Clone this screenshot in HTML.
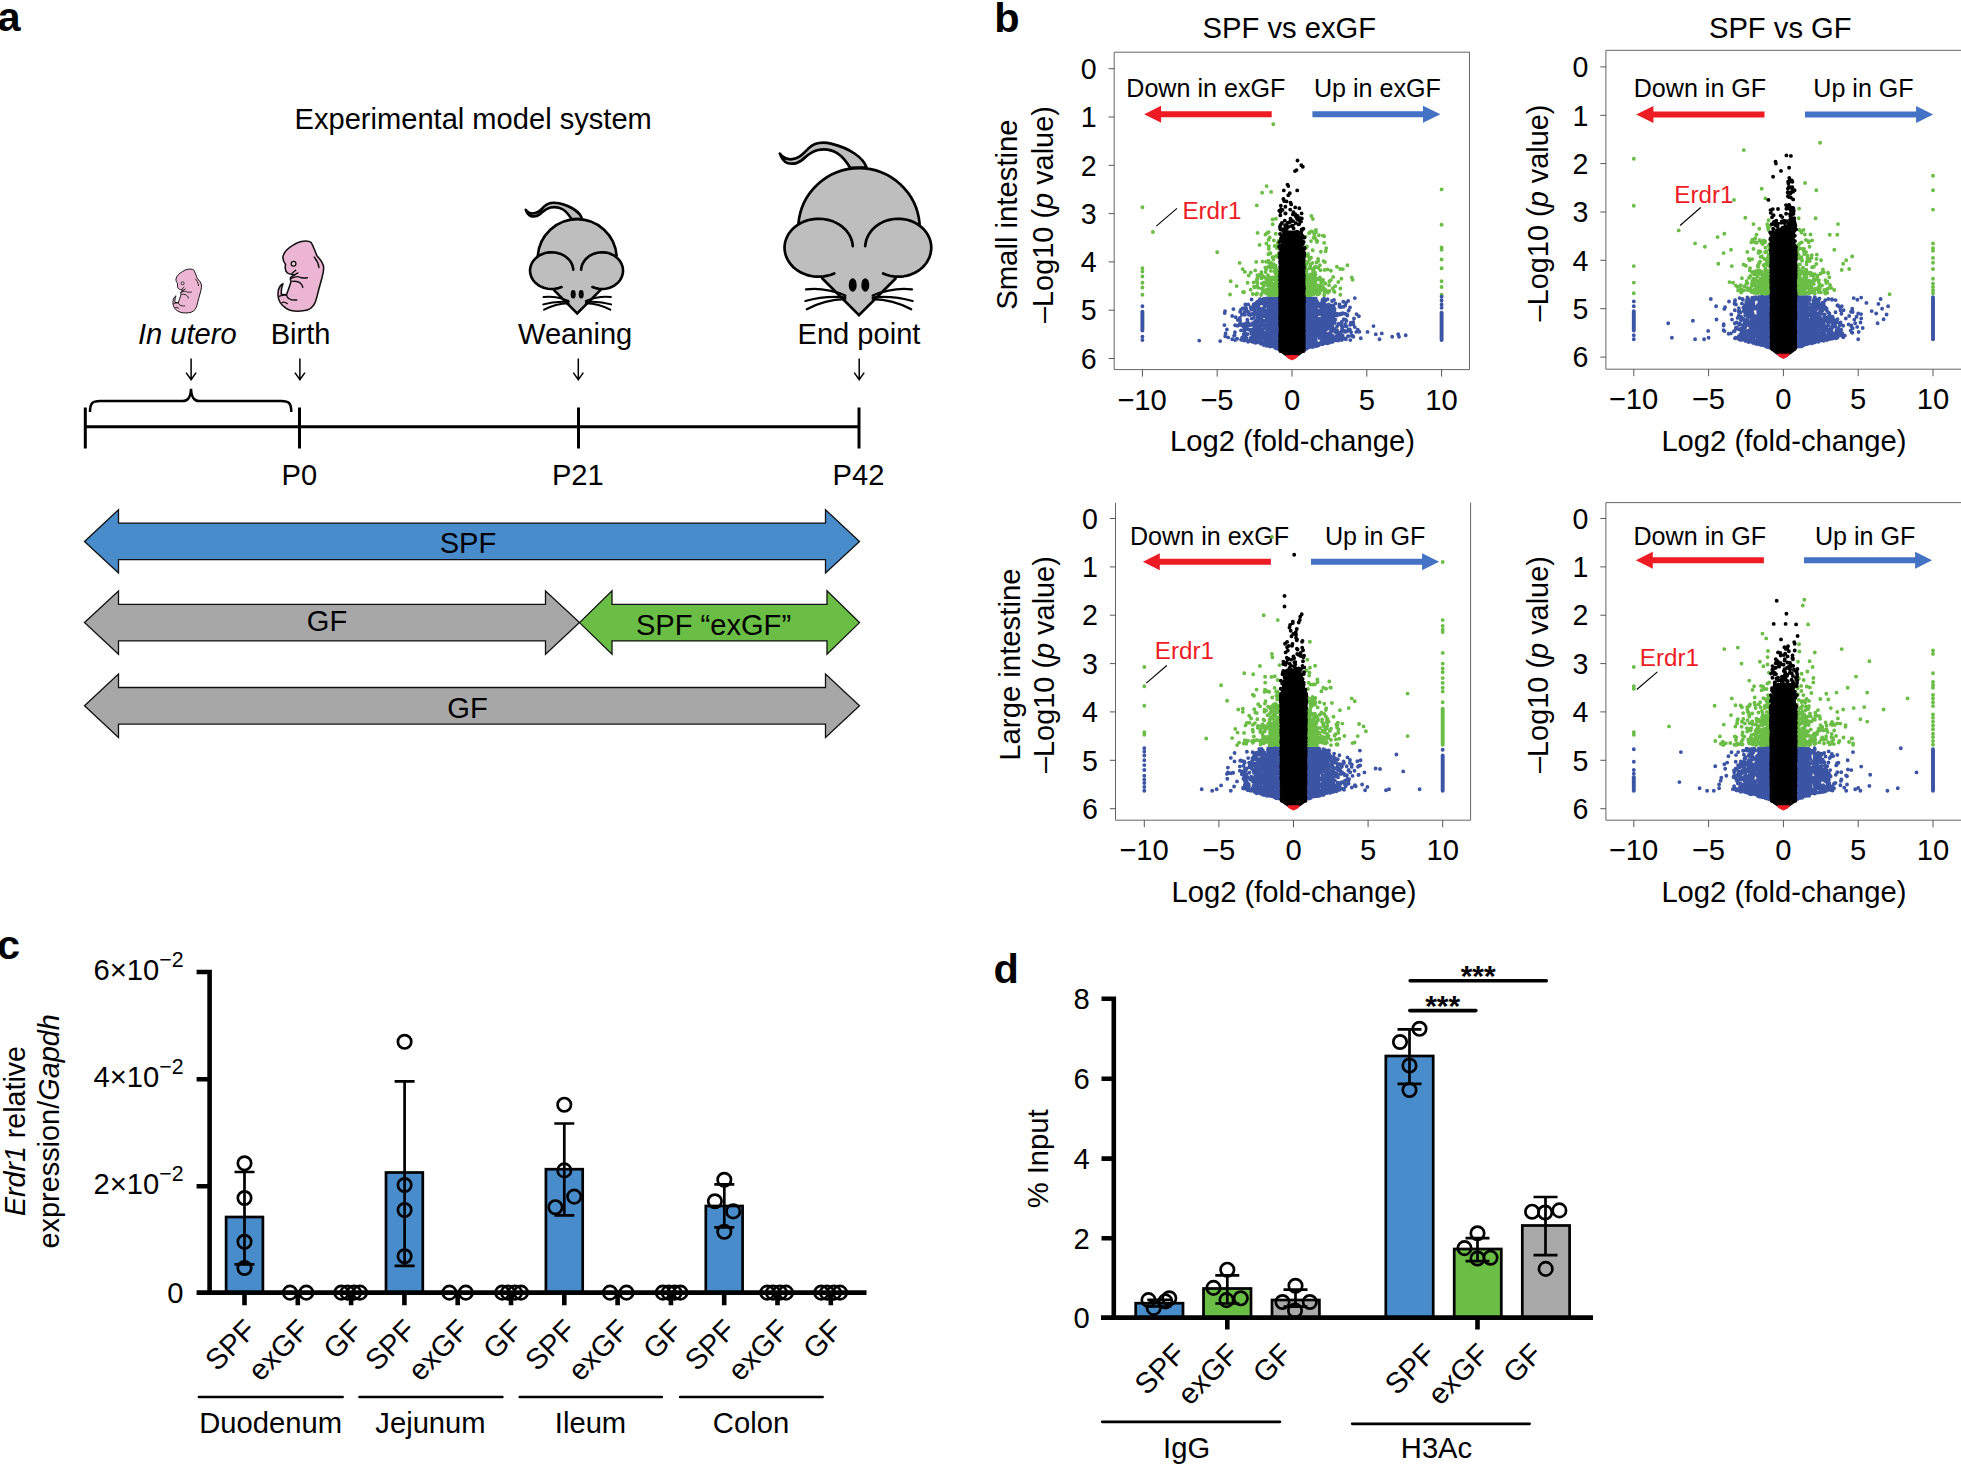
<!DOCTYPE html>
<html><head><meta charset="utf-8"><title>Figure</title>
<style>
html,body{margin:0;padding:0;background:#fff}
svg{display:block}
text{font-family:"Liberation Sans",sans-serif;fill:#000}
.b{font-weight:bold}
.i{font-style:italic}
</style></head><body>
<svg width="1961" height="1464" viewBox="0 0 1961 1464" font-size="29.2">
<rect width="1961" height="1464" fill="#fff"/>
<g id="panel-a" font-size="29.1">
<text x="-2.5" y="31" font-size="41.5" class="b">a</text>
<text x="294.5" y="129.3">Experimental model system</text>
<text x="138" y="343.7" class="i">In utero</text>
<text x="270.7" y="343.7">Birth</text>
<text x="518" y="343.7">Weaning</text>
<text x="797.5" y="343.7">End point</text>
<g transform="translate(160 230) scale(0.09179)"><path d="M1540,125 C1580,118 1625,120 1645,135 C1670,170 1690,240 1710,280 C1740,320 1775,350 1782,400 C1790,450 1760,540 1740,610 C1720,680 1710,740 1690,790 C1670,840 1620,875 1560,880 C1500,888 1420,885 1370,850 C1330,825 1295,790 1288,730 C1280,670 1295,610 1340,585 C1325,620 1318,660 1322,700 L1378,706 C1395,660 1415,600 1428,560 C1420,545 1415,530 1425,515 C1440,500 1455,495 1465,490 C1440,480 1400,480 1385,465 C1365,445 1360,410 1368,375 C1350,350 1335,320 1340,290 C1348,240 1400,195 1450,165 C1480,145 1510,130 1540,125 Z" fill="#ECB5D3" stroke="#111" stroke-width="17" stroke-linejoin="round"/><path d="M1440,472 L1478,438 M1462,492 L1502,468 M1428,527 C1470,508 1500,500 1520,514 C1545,528 1575,525 1606,520 M1440,560 C1480,555 1520,565 1540,590 C1550,605 1555,615 1555,627 M1680,295 C1700,320 1727,350 1732,410 M1378,706 C1385,740 1420,768 1490,762 M1298,722 C1330,708 1350,714 1378,706 M1328,792 C1345,780 1365,785 1386,802" fill="none" stroke="#111" stroke-width="15" stroke-linecap="round"/><circle cx="1455" cy="368" r="26" fill="#F3CCE1" stroke="#111" stroke-width="14"/></g>
<g transform="translate(160 230) scale(0.09179) translate(-665.7 349.8) scale(0.627)"><path d="M1540,125 C1580,118 1625,120 1645,135 C1670,170 1690,240 1710,280 C1740,320 1775,350 1782,400 C1790,450 1760,540 1740,610 C1720,680 1710,740 1690,790 C1670,840 1620,875 1560,880 C1500,888 1420,885 1370,850 C1330,825 1295,790 1288,730 C1280,670 1295,610 1340,585 C1325,620 1318,660 1322,700 L1378,706 C1395,660 1415,600 1428,560 C1420,545 1415,530 1425,515 C1440,500 1455,495 1465,490 C1440,480 1400,480 1385,465 C1365,445 1360,410 1368,375 C1350,350 1335,320 1340,290 C1348,240 1400,195 1450,165 C1480,145 1510,130 1540,125 Z" fill="#ECB5D3" stroke="#111" stroke-width="17" stroke-linejoin="round"/><path d="M1440,472 L1478,438 M1462,492 L1502,468 M1428,527 C1470,508 1500,500 1520,514 C1545,528 1575,525 1606,520 M1440,560 C1480,555 1520,565 1540,590 C1550,605 1555,615 1555,627 M1680,295 C1700,320 1727,350 1732,410 M1378,706 C1385,740 1420,768 1490,762 M1298,722 C1330,708 1350,714 1378,706 M1328,792 C1345,780 1365,785 1386,802" fill="none" stroke="#111" stroke-width="15" stroke-linecap="round"/><circle cx="1455" cy="368" r="26" fill="#F3CCE1" stroke="#111" stroke-width="14"/></g>
<g stroke="#000" stroke-width="2.7" stroke-linecap="round" stroke-linejoin="round"><path d="M866.5,167.3C863.1,158.0 850.8,148.4 831.0,143.6C823.5,142.0 815.3,141.6 808.5,148.4C801.6,155.2 798.9,158.6 790.7,159.3C785.2,159.3 782.5,157.3 779.8,153.6C781.8,158.6 784.5,162.1 787.3,163.0C793.4,164.8 797.5,163.4 801.6,160.3C805.7,157.3 809.8,151.8 818.0,150.0C826.2,148.4 831.7,149.8 837.1,153.2C842.6,156.6 846.7,162.1 850.1,167.8Z" fill="#BEBEBE"/><circle cx="859" cy="229" r="60.8" fill="#BEBEBE" stroke="none"/><path d="M798.4,224.2 A60.79,60.79 0 0 1 919.6,224.2" fill="none"/><ellipse cx="818.7" cy="247.7" rx="34.2" ry="29" fill="#BEBEBE" stroke="none"/><ellipse cx="898.2" cy="247.7" rx="33.1" ry="29" fill="#BEBEBE" stroke="none"/><path d="M819.4,275.4 L859.0,315.1 L898.6,275.4 Z" fill="#BEBEBE" stroke="none"/><path d="M852.8,246.2 L852.4,243.1 L851.6,240.1 L850.5,237.2 L849.0,234.3 L847.1,231.7 L845.0,229.2 L842.5,226.9 L839.7,224.9 L836.7,223.1 L833.5,221.6 L830.2,220.4 L826.7,219.6 L823.1,219.0 L819.4,218.8 L815.8,218.9 L812.2,219.3 L808.6,220.0 L805.2,221.1 L801.9,222.5 L798.9,224.1 L796.0,226.1 L793.4,228.2 L791.1,230.6 L789.1,233.2 L787.5,236.0 L786.2,238.9 L785.2,241.9 L784.7,244.9 L784.5,248.0 L784.8,251.1 L785.4,254.2 L786.4,257.1 L787.8,260.0 L789.5,262.7 L791.6,265.3 L793.9,267.7 L796.6,269.8 L799.5,271.7 L802.6,273.3 L805.9,274.6 L809.4,275.6 L812.9,276.3 L816.5,276.6 L820.2,276.7 L823.8,276.4 L827.4,275.7 L830.9,274.8 L834.2,273.5" fill="none"/><path d="M865.2,246.2 L865.6,243.1 L866.3,240.1 L867.4,237.2 L868.9,234.3 L870.7,231.7 L872.8,229.2 L875.2,226.9 L877.9,224.9 L880.7,223.1 L883.8,221.6 L887.1,220.4 L890.5,219.6 L894.0,219.0 L897.5,218.8 L901.0,218.9 L904.5,219.3 L907.9,220.0 L911.3,221.1 L914.4,222.5 L917.4,224.1 L920.2,226.1 L922.7,228.2 L924.9,230.6 L926.8,233.2 L928.4,236.0 L929.7,238.9 L930.6,241.9 L931.1,244.9 L931.3,248.0 L931.0,251.1 L930.4,254.2 L929.5,257.1 L928.1,260.0 L926.5,262.7 L924.5,265.3 L922.2,267.7 L919.6,269.8 L916.8,271.7 L913.8,273.3 L910.6,274.6 L907.3,275.6 L903.8,276.3 L900.3,276.6 L896.8,276.7 L893.2,276.4 L889.8,275.7 L886.4,274.8 L883.2,273.5" fill="none"/><path d="M822.4,278.5 L859.0,315.1 L895.6,278.5" fill="none" stroke-linejoin="miter"/><ellipse cx="852.7" cy="285" rx="4" ry="6.8" fill="#000" stroke="none"/><ellipse cx="865.3" cy="285" rx="4" ry="6.8" fill="#000" stroke="none"/><path d="M872.7,295.5 Q893.2,287.1 912.0,289.4" fill="none" stroke-width="2.3"/><path d="M872.7,297.3 Q893.2,295.3 912.6,301.0" fill="none" stroke-width="2.3"/><path d="M872.7,299.1 Q893.2,299.4 911.2,309.3" fill="none" stroke-width="2.3"/><path d="M845.3,295.5 Q824.8,287.1 806.0,289.4" fill="none" stroke-width="2.3"/><path d="M845.3,297.3 Q824.8,295.3 805.4,301.0" fill="none" stroke-width="2.3"/><path d="M845.3,299.1 Q824.8,299.4 806.8,309.3" fill="none" stroke-width="2.3"/></g>
<g stroke="#000" stroke-width="2.6" stroke-linecap="round" stroke-linejoin="round"><path d="M582.1,218.7C579.9,212.6 571.9,206.4 559.0,203.3C554.1,202.2 548.8,202.0 544.3,206.4C539.9,210.9 538.1,213.1 532.8,213.5C529.3,213.5 527.5,212.2 525.7,209.8C527.0,213.1 528.8,215.3 530.6,215.9C534.6,217.1 537.2,216.2 539.9,214.1C542.6,212.2 545.2,208.6 550.6,207.5C555.9,206.4 559.4,207.3 563.0,209.5C566.5,211.7 569.2,215.3 571.4,219.0Z" fill="#BEBEBE"/><circle cx="577.2" cy="258.8" r="39.5" fill="#BEBEBE" stroke="none"/><path d="M537.8,255.7 A39.51,39.51 0 0 1 616.6,255.7" fill="none"/><ellipse cx="551.7" cy="270.7" rx="21.6" ry="18.4" fill="#BEBEBE" stroke="none"/><ellipse cx="602" cy="270.7" rx="21" ry="18.4" fill="#BEBEBE" stroke="none"/><path d="M552.1,288.2 L577.2,313.3 L602.3,288.2 Z" fill="#BEBEBE" stroke="none"/><path d="M573.3,269.7 L573.0,267.7 L572.5,265.8 L571.8,264.0 L570.9,262.2 L569.7,260.5 L568.3,258.9 L566.7,257.5 L565.0,256.2 L563.1,255.1 L561.1,254.1 L558.9,253.4 L556.7,252.8 L554.4,252.5 L552.1,252.3 L549.8,252.4 L547.5,252.6 L545.3,253.1 L543.1,253.8 L541.0,254.7 L539.1,255.7 L537.3,256.9 L535.6,258.3 L534.2,259.8 L532.9,261.5 L531.9,263.2 L531.0,265.1 L530.5,267.0 L530.1,268.9 L530.0,270.9 L530.2,272.8 L530.6,274.7 L531.2,276.6 L532.1,278.5 L533.2,280.2 L534.5,281.8 L536.0,283.3 L537.6,284.6 L539.5,285.8 L541.5,286.8 L543.6,287.7 L545.7,288.3 L548.0,288.7 L550.3,289.0 L552.6,289.0 L554.9,288.8 L557.2,288.4 L559.4,287.8 L561.5,287.0" fill="none"/><path d="M581.1,269.7 L581.4,267.7 L581.8,265.8 L582.5,264.0 L583.5,262.2 L584.6,260.5 L585.9,258.9 L587.5,257.5 L589.1,256.2 L591.0,255.1 L592.9,254.1 L595.0,253.4 L597.2,252.8 L599.4,252.5 L601.6,252.3 L603.8,252.4 L606.0,252.6 L608.2,253.1 L610.3,253.8 L612.3,254.7 L614.2,255.7 L616.0,256.9 L617.6,258.3 L619.0,259.8 L620.2,261.5 L621.2,263.2 L622.0,265.1 L622.6,267.0 L622.9,268.9 L623.0,270.9 L622.9,272.8 L622.5,274.7 L621.9,276.6 L621.0,278.5 L620.0,280.2 L618.7,281.8 L617.2,283.3 L615.6,284.6 L613.8,285.8 L611.9,286.8 L609.9,287.7 L607.8,288.3 L605.6,288.7 L603.4,289.0 L601.1,289.0 L598.9,288.8 L596.7,288.4 L594.6,287.8 L592.5,287.0" fill="none"/><path d="M554.0,290.1 L577.2,313.3 L600.4,290.1" fill="none" stroke-linejoin="miter"/><ellipse cx="573.2" cy="294.3" rx="2.5" ry="4.3" fill="#000" stroke="none"/><ellipse cx="581.2" cy="294.3" rx="2.5" ry="4.3" fill="#000" stroke="none"/><path d="M585.9,301.0 Q598.8,295.6 610.8,297.1" fill="none" stroke-width="2"/><path d="M585.9,302.1 Q598.8,300.8 611.1,304.4" fill="none" stroke-width="2"/><path d="M585.9,303.2 Q598.8,303.4 610.3,309.7" fill="none" stroke-width="2"/><path d="M568.5,301.0 Q555.6,295.6 543.6,297.1" fill="none" stroke-width="2"/><path d="M568.5,302.1 Q555.6,300.8 543.3,304.4" fill="none" stroke-width="2"/><path d="M568.5,303.2 Q555.6,303.4 544.1,309.7" fill="none" stroke-width="2"/></g>
<path d="M191.1,358.6 V379.2 M186.1,372.6 L191.1,379.6 L196.1,372.6" fill="none" stroke="#000" stroke-width="1.5"/>
<path d="M299.9,358.6 V379.2 M294.9,372.6 L299.9,379.6 L304.9,372.6" fill="none" stroke="#000" stroke-width="1.5"/>
<path d="M578.3,358.6 V379.2 M573.3,372.6 L578.3,379.6 L583.3,372.6" fill="none" stroke="#000" stroke-width="1.5"/>
<path d="M859.2,358.6 V379.2 M854.2,372.6 L859.2,379.6 L864.2,372.6" fill="none" stroke="#000" stroke-width="1.5"/>
<g stroke="#000" stroke-width="3" fill="none">
<path d="M85.3,426.7 H859 M85.3,407.4 V448.5 M299.5,407.4 V448.5 M578.5,407.4 V448.5 M859,407.4 V448.5"/>
</g>
<path d="M90,412 C90,403.5 92,401 100,401 L183,401 C188.5,401 190.5,397 191,388.8 C191.5,397 193.5,401 199,401 L281.3,401 C289.3,401 291.3,403.5 291.3,412" fill="none" stroke="#000" stroke-width="2.5"/>
<text x="299.4" y="484.5" text-anchor="middle">P0</text>
<text x="577.8" y="484.5" text-anchor="middle">P21</text>
<text x="858.5" y="484.5" text-anchor="middle">P42</text>
<polygon points="84.5,541.4 118.5,509.7 118.5,523.1 825.5,523.1 825.5,509.7 859.5,541.4 825.5,573.1 825.5,559.7 118.5,559.7 118.5,573.1" fill="#498CCB" stroke="#111" stroke-width="1.3" stroke-linejoin="miter"/>
<polygon points="84.5,622.6 118.5,590.9 118.5,604.3 545.5,604.3 545.5,590.9 579.5,622.6 545.5,654.3 545.5,640.9 118.5,640.9 118.5,654.3" fill="#A7A7A7" stroke="#111" stroke-width="1.3" stroke-linejoin="miter"/>
<polygon points="579.5,622.6 612,590.9 612,604.3 827,604.3 827,590.9 859.5,622.6 827,654.3 827,640.9 612,640.9 612,654.3" fill="#6ABD45" stroke="#111" stroke-width="1.3" stroke-linejoin="miter"/>
<polygon points="84.5,705.8 118.5,674.1 118.5,687.5 825.5,687.5 825.5,674.1 859.5,705.8 825.5,737.5 825.5,724.1 118.5,724.1 118.5,737.5" fill="#A7A7A7" stroke="#111" stroke-width="1.3" stroke-linejoin="miter"/>
<text x="468" y="552.5" text-anchor="middle">SPF</text>
<text x="327" y="631.4" text-anchor="middle">GF</text>
<text x="713.5" y="635" text-anchor="middle">SPF “exGF”</text>
<text x="467.5" y="717.5" text-anchor="middle">GF</text>
</g>
<g id="panel-b">
<text x="994.3" y="31.5" font-size="41.5" class="b">b</text>
<text x="1289.3" y="37.7" text-anchor="middle">SPF vs exGF</text>
<text x="1780.3" y="37.7" text-anchor="middle">SPF vs GF</text>
<g id="volcano-1">
<path d="M1114.2,52.2 V369.6 H1469.5 V52.2 Z" fill="none" stroke="#555" stroke-width="0.9"/>
<path d="M1114.2,68.7 h-5.6 M1114.2,117 h-5.6 M1114.2,165.3 h-5.6 M1114.2,213.6 h-5.6 M1114.2,261.9 h-5.6 M1114.2,310.2 h-5.6 M1114.2,358.5 h-5.6 M1142.4,369.6 v7 M1217.2,369.6 v7 M1292,369.6 v7 M1366.8,369.6 v7 M1441.6,369.6 v7 " fill="none" stroke="#444" stroke-width="0.9"/>
<text x="1096.7" y="78.9" text-anchor="end" font-size="28.6">0</text>
<text x="1096.7" y="127.2" text-anchor="end" font-size="28.6">1</text>
<text x="1096.7" y="175.5" text-anchor="end" font-size="28.6">2</text>
<text x="1096.7" y="223.8" text-anchor="end" font-size="28.6">3</text>
<text x="1096.7" y="272.1" text-anchor="end" font-size="28.6">4</text>
<text x="1096.7" y="320.4" text-anchor="end" font-size="28.6">5</text>
<text x="1096.7" y="368.7" text-anchor="end" font-size="28.6">6</text>
<text x="1142.1" y="409.8" text-anchor="middle">−10</text>
<text x="1216.9" y="409.8" text-anchor="middle">−5</text>
<text x="1292" y="409.8" text-anchor="middle">0</text>
<text x="1366.8" y="409.8" text-anchor="middle">5</text>
<text x="1441.6" y="409.8" text-anchor="middle">10</text>
<text x="1292.5" y="451.3" text-anchor="middle">Log2 (fold-change)</text>
<text x="1017.2" y="214.6" text-anchor="middle" font-size="29.3" transform="rotate(-90 1017.2 214.6)">Small intestine</text>
<text x="1053.3" y="214.6" text-anchor="middle" font-size="28.9" transform="rotate(-90 1053.3 214.6)">–Log10 (<tspan class="i">p</tspan> value)</text>
<text x="1126.3" y="96.6" font-size="25.1">Down in exGF</text>
<text x="1313.9" y="96.6" font-size="25.1">Up in exGF</text>
<path d="M1144.2,114.2 L1161.1,105.7 V111.2 H1271.7 V117.2 H1161.1 V122.7 Z" fill="#ED1C24"/>
<path d="M1440.4,114.2 L1423,105.7 V111.2 H1312.4 V117.2 H1423 V122.7 Z" fill="#4472C4"/>
<polygon points="1279.6,296.7 1266.6,296.7 1266.6,346.5 1267.9,346.8 1269.2,347.2 1270.5,347.5 1271.8,347.9 1273.1,348.3 1274.4,348.6 1275.7,349 1277,349.5 1278.3,349.9 1279.6,350.3" fill="#3C54A4"/>
<polygon points="1279.6,296.7 1271.8,296.7 1279.6,274" fill="#6ABD45"/>
<polygon points="1304.4,296.7 1317.4,296.7 1317.4,346.5 1316.1,346.8 1314.8,347.2 1313.5,347.5 1312.2,347.9 1310.9,348.3 1309.6,348.6 1308.3,349 1307,349.5 1305.7,349.9 1304.4,350.3" fill="#3C54A4"/>
<polygon points="1304.4,296.7 1312.2,296.7 1304.4,274" fill="#6ABD45"/>
<polygon points="1284.2,230.5 1283.4,232.9 1282.8,235.3 1282.2,237.7 1281.7,240.2 1281.2,242.6 1280.8,245 1280.4,247.4 1280.1,249.8 1279.7,252.2 1279.6,254.7 1279.7,257.1 1279.8,259.5 1279.9,261.9 1279.9,264.3 1279.9,266.7 1279.9,269.1 1279.9,271.6 1279.9,274 1279.9,276.4 1279.9,278.8 1279.9,281.2 1279.9,283.6 1279.9,286 1279.9,288.5 1279.9,290.9 1279.9,293.3 1279.9,295.7 1279.9,298.1 1279.9,300.5 1279.9,303 1279.9,305.4 1279.9,307.8 1279.9,310.2 1279.9,312.6 1279.9,315 1279.9,317.4 1279.9,319.9 1279.9,322.3 1279.9,324.7 1279.9,327.1 1279.9,329.5 1279.9,331.9 1279.9,334.3 1279.9,336.8 1279.9,339.2 1279.9,341.6 1279.9,344 1279.9,346.4 1279.9,348.8 1279.9,351.3 1278.1,350.8 1285.7,356.3 1292,358.5 1298.3,356.3 1305.9,350.8 1304.1,351.3 1304.1,348.8 1304.1,346.4 1304.1,344 1304.1,341.6 1304.1,339.2 1304.1,336.8 1304.1,334.3 1304.1,331.9 1304.1,329.5 1304.1,327.1 1304.1,324.7 1304.1,322.3 1304.1,319.9 1304.1,317.4 1304.1,315 1304.1,312.6 1304.1,310.2 1304.1,307.8 1304.1,305.4 1304.1,303 1304.1,300.5 1304.1,298.1 1304.1,295.7 1304.1,293.3 1304.1,290.9 1304.1,288.5 1304.1,286 1304.1,283.6 1304.1,281.2 1304.1,278.8 1304.1,276.4 1304.1,274 1304.1,271.6 1304.1,269.1 1304.1,266.7 1304.1,264.3 1304.1,261.9 1304.2,259.5 1304.3,257.1 1304.4,254.7 1304.3,252.2 1303.9,249.8 1303.6,247.4 1303.2,245 1302.8,242.6 1302.1,240.2 1301.4,237.7 1300.7,235.3 1299.9,232.9 1299,230.5" fill="#000"/>
<path d="M1316,232.1h0M1308.6,293.4h0M1277.1,294.6h0M1314.8,284.4h0M1309.2,291h0M1306.3,294.6h0M1275.8,292.5h0M1318.1,258.9h0M1275.8,291.8h0M1305.7,285.9h0M1278.1,288.1h0M1278.9,244.7h0M1256.3,294.3h0M1308.1,256.3h0M1277.8,279.7h0M1277.4,293.1h0M1311.6,292.5h0M1324.6,289h0M1313.7,269.8h0M1265.6,290.1h0M1277.4,256.7h0M1269.9,293.3h0M1311.1,294.2h0M1278.3,275h0M1329,285.2h0M1276.8,269h0M1306.1,262.2h0M1311.1,231.4h0M1277.3,292.3h0M1316.6,262.5h0M1269,283h0M1312.7,294.6h0M1266.1,261.7h0M1329.5,291h0M1324.9,262h0M1274.6,290.7h0M1321.3,282.2h0M1275.1,283.8h0M1320.9,251.8h0M1309.1,279h0M1269.8,279.7h0M1312,293.5h0M1312.4,290.5h0M1257.4,282.8h0M1322.9,235.6h0M1269.5,284.6h0M1266.1,269.4h0M1277.5,293.6h0M1306.4,293h0M1268.4,254.3h0M1259.6,244.9h0M1278.7,286.6h0M1275.6,294.3h0M1311,241.1h0M1271.8,290.4h0M1305.4,261.8h0M1306.9,294.9h0M1308.3,275.9h0M1319.7,278.5h0M1321.1,289.2h0M1254,286.6h0M1275.6,274.1h0M1319.9,265.3h0M1275.8,293.1h0M1253.6,282.4h0M1273.9,240.5h0M1268.5,239.7h0M1269.1,287.3h0M1315.5,288.5h0M1327.5,269.4h0M1266.7,289.6h0M1272.5,257.2h0M1313.3,276.3h0M1266.2,278.7h0M1275,277.8h0M1305.3,285h0M1312.2,231.6h0M1265.6,272h0M1278.8,273.3h0M1270.6,291.4h0M1312.2,292.1h0M1313.4,280.1h0M1319.9,277.4h0M1315.8,279.1h0M1275.1,285.8h0M1312.7,250.2h0M1274,292h0M1313.3,286.8h0M1273.5,293.4h0M1274.6,266.9h0M1261.8,283.6h0M1315.5,274.8h0M1317.4,278.6h0M1256.9,279.1h0M1272.7,224.2h0M1320.4,285.1h0M1309,294.7h0M1276.7,270h0M1269.5,290.1h0M1306.1,255.5h0M1270,290.7h0M1306,264h0M1257.2,285.9h0M1327.9,292.8h0M1324.2,295.2h0M1309.5,232.5h0M1309.8,280.6h0M1250.7,289.7h0M1308.9,291.7h0M1276.3,289.9h0M1315.4,288.8h0M1316.4,240.3h0M1275.9,218.8h0M1310.1,283.7h0M1310.8,277.7h0M1314.3,234.5h0M1270.5,253.3h0M1306.3,282.7h0M1274.5,271.8h0M1309.3,281.5h0M1268.9,246.3h0M1271.7,286.1h0M1272.9,283.9h0M1276.4,281.5h0M1308.7,277.3h0M1268.3,294.1h0M1313,271.6h0M1278.8,240.8h0M1308.2,281.9h0M1270.9,291.3h0M1277.6,294.3h0M1276.5,289h0M1309.5,282.6h0M1272.3,279.6h0M1322.4,289.4h0M1257,293.5h0M1276.6,278.5h0M1305.2,285.8h0M1308.4,295h0M1308.5,284.7h0M1318.1,287.5h0M1326,290.2h0M1305.2,281.9h0M1272,277.5h0M1305.3,287.4h0M1319.1,279.4h0M1314.1,293h0M1315.5,266.7h0M1338.3,282h0M1307,275.1h0M1273.3,257.3h0M1277.3,278.7h0M1310.2,295h0M1317.3,294.3h0M1305.9,289.8h0M1271.9,294.9h0M1270.6,291.1h0M1262.5,288.4h0M1312,274.7h0M1311,257.8h0M1269,293.8h0M1308.3,276h0M1315.6,283.8h0M1276.8,248.1h0M1254.6,287.4h0M1313,293.8h0M1262.5,261.6h0M1311.8,283.2h0M1309.3,259.4h0M1308,262.3h0M1310.2,295h0M1316.9,279.5h0M1261.4,288.6h0M1267,291.8h0M1309.9,274.4h0M1307.9,287h0M1317.3,241.1h0M1308.4,294h0M1312.4,285.5h0M1269.5,253.3h0M1270.7,267.2h0M1268.7,232.1h0M1305.6,236.6h0M1308,254h0M1257.3,279h0M1314.8,289.6h0M1274.1,277.6h0M1263.4,290.9h0M1305.4,280.1h0M1324.4,292.2h0M1317.1,288.4h0M1320.4,270.2h0M1244.9,271.9h0M1277.9,292.9h0M1310.5,285.6h0M1309.1,289.6h0M1273.2,293.2h0M1308.5,291.3h0M1255.2,270.4h0M1307.1,282.8h0M1273.8,287.2h0M1305.2,266.8h0M1261.1,295h0M1267.7,292h0M1308.1,275.8h0M1314.7,267.4h0M1275.4,287.7h0M1309.9,289.6h0M1259.4,274.9h0M1324.5,269.9h0M1268,275.2h0M1309.1,291.1h0M1318.4,285.8h0M1266.4,243.5h0M1306,292.2h0M1307,283.6h0M1310.3,294.7h0M1273.4,259.6h0M1267,280h0M1265,282.9h0M1315.4,282.1h0M1247.6,282.8h0M1278.8,278.1h0M1312.4,288.4h0M1313.3,288.3h0M1312.1,286h0M1273.5,264.3h0M1313.9,237.8h0M1269.2,263h0M1306.2,247.9h0M1317,290.5h0M1312.6,289.9h0M1265.3,267.8h0M1319.9,265.3h0M1310.4,266.7h0M1305.4,282.4h0M1330.9,270.7h0M1256.8,280.9h0M1306,273.4h0M1308.9,294.2h0M1274.7,245.9h0M1313.2,294.4h0M1316.9,291.2h0M1276.7,280.8h0M1307.7,282.8h0M1307.4,291.5h0M1252.7,294h0M1275.7,233.8h0M1334.5,292.1h0M1267.2,282.5h0M1340.4,288.5h0M1263.5,276.6h0M1276.6,288.1h0M1261,275.5h0M1267.8,285.5h0M1257.4,275.1h0M1275.6,265.5h0M1318.6,290.5h0M1305.2,291.4h0M1273.6,290.1h0M1308.6,293.6h0M1269.3,267.1h0M1312.9,219h0M1311,291.2h0M1315,237.8h0M1311.6,281.4h0M1321.6,288.1h0M1315.9,230h0M1276.9,272.9h0M1332.8,288.3h0M1274.6,294.1h0M1261.6,293.9h0M1340.3,294.7h0M1324.6,290.6h0M1273.9,283.6h0M1278.6,276.3h0M1271.4,283.5h0M1274.9,290.1h0M1269.4,289h0M1315,272.5h0M1307.5,283.7h0M1320.4,290.6h0M1323.1,279.9h0M1322.7,286.2h0M1309.9,292.2h0M1250.8,272.5h0M1321.1,279.9h0M1309.7,287.4h0M1275.8,285.5h0M1309,295.1h0M1310.4,265h0M1326.2,248.1h0M1312.3,274.1h0M1266.2,293.6h0M1264,282.5h0M1306.1,264.8h0M1261.8,274.8h0M1268.7,277.3h0M1311.4,288.3h0M1273.2,292.7h0M1277.7,243.3h0M1275.9,277.8h0M1273.2,286.5h0M1269.7,237.4h0M1268.6,260.6h0M1277.9,275.2h0M1248.7,275.5h0M1273.4,292.1h0M1305.9,292.2h0M1271.3,264.9h0M1318.7,294.1h0M1306.8,284.9h0M1277.8,245.9h0M1265.5,234.5h0M1307.3,276.1h0M1307.3,279.2h0M1269.4,295.2h0M1275.9,294.7h0M1256.2,261.9h0M1261.4,272.1h0M1314.1,289.8h0M1271.5,289.3h0M1314.8,293.4h0M1243.1,292h0M1272.7,283.9h0M1274.8,293.8h0M1271.6,295.1h0M1309.4,268.4h0M1329.4,281.2h0M1310,266.9h0M1274.1,267.9h0M1323.5,261.1h0M1306.4,269.5h0M1312.4,262.9h0M1268.7,246.6h0M1318.3,267.8h0M1333.2,276.9h0M1313.6,237.7h0M1308.1,293.9h0M1307.9,286h0M1305.1,290.5h0M1312.8,269.3h0M1306.4,271.5h0M1306.2,275.8h0M1271,280.9h0M1308.5,256.6h0M1230,294.5h0M1324.2,242.9h0M1268.8,248.9h0M1264.5,277.3h0M1278.2,294h0M1268.2,266.9h0M1312.9,287.8h0M1258.2,287.8h0M1340.2,269h0M1309.1,233.2h0M1308.4,278.1h0M1310.3,294h0M1318.1,261h0M1256.3,294.5h0M1310.1,279.7h0M1278.7,253.4h0M1306.9,246.4h0M1271,263h0M1261.5,278.4h0M1268.7,293.5h0M1319.5,293.3h0M1278.2,291.1h0M1314.7,277.4h0M1267.3,232.9h0M1270.8,270.9h0M1257.9,276.7h0M1244,292.2h0M1278.8,257.3h0M1272.8,277.8h0M1275.4,280.3h0M1277.6,270.8h0M1270.4,293.2h0M1330.9,280.1h0M1317,242.1h0M1321.1,281h0M1263.9,285.9h0M1278.6,286.5h0M1325.4,283.5h0M1271.8,277.6h0M1325,283.2h0M1306.1,282.9h0M1306.4,294.7h0M1276.4,277.8h0M1276.2,256h0M1263,291.8h0M1277.3,291h0M1314.5,285.5h0M1273.3,124.2h0M1266.6,186.1h0M1262.1,192.8h0M1271.1,191.9h0M1256.8,205.4h0M1272.6,219.4h0M1257.6,232.9h0M1152.9,232h0M1217.2,252.2h0M1239.6,262.9h0M1242.6,269.1h0M1230.7,281.2h0M1236.6,286.1h0M1311.4,216h0M1318.9,235.3h0M1324.2,236.3h0M1325.7,251.3h0M1336.9,266.7h0M1347.4,265.3h0M1342.9,269.1h0M1351.8,277.4h0M1352.6,279.8h0M1341.4,278.8h0M1335.4,286.1h0M1333.9,290.9h0M1142.4,207.3h0M1142.4,268.2h0M1142.4,271.6h0M1142.4,276.4h0M1142.4,282.7h0M1142.4,287.5h0M1142.4,294.7h0M1441.6,189.4h0M1441.6,224.7h0M1441.6,247.4h0M1441.6,249.8h0M1441.6,259.5h0M1441.6,268.2h0M1441.6,281.2h0M1441.6,287h0M1441.6,294.7h0" fill="none" stroke="#6ABD45" stroke-width="3.9" stroke-linecap="round"/>
<path d="M1338.6,337.4h0M1315.6,340.8h0M1275.3,327.6h0M1276.8,317.7h0M1267.2,341.9h0M1265.4,320.8h0M1323.1,329.6h0M1264.4,338.9h0M1277.4,311.6h0M1265.2,337h0M1315.3,340.4h0M1263.7,325.2h0M1269.5,315.6h0M1260.8,316.6h0M1268,301h0M1271,341.1h0M1306.9,300.1h0M1274.8,345.3h0M1269.2,345.9h0M1314.7,329h0M1256.8,314.1h0M1272.9,299.9h0M1329,306.3h0M1260.8,299.4h0M1331.8,313.9h0M1269.8,311.1h0M1270.5,320.9h0M1314.7,312.2h0M1338.4,340.6h0M1274.9,322h0M1277.6,309.1h0M1310.6,338.6h0M1334.8,322.9h0M1276.9,331.1h0M1278,321.2h0M1308,331.1h0M1249.6,314h0M1272.9,313.3h0M1259.9,308.7h0M1261.7,320h0M1320.9,321.7h0M1276.6,327.8h0M1310.2,335.8h0M1314.7,343h0M1311.4,310.4h0M1276.3,326.2h0M1273.6,344.6h0M1258.6,303.5h0M1315.4,303.3h0M1273.5,328.1h0M1276.9,308.6h0M1265.6,342.8h0M1345.2,331.9h0M1277.9,333.7h0M1306.9,318.1h0M1269.7,320h0M1245.5,334h0M1255.8,340.3h0M1307.2,326h0M1249.1,324.1h0M1249.9,329.6h0M1313.6,299.6h0M1277,333.7h0M1340.4,333.4h0M1350.2,330.9h0M1315.3,340.2h0M1267.8,326.4h0M1320.8,324.3h0M1233.4,309.1h0M1310.6,299.5h0M1308.3,332.2h0M1258.3,317.6h0M1317,313.5h0M1323.7,310.8h0M1332.4,335.6h0M1248.1,322.7h0M1309.6,308.2h0M1335.4,337.7h0M1235.7,317.2h0M1276.5,325.9h0M1253,323.2h0M1324,333.5h0M1312.1,340.6h0M1339.5,304.5h0M1311.8,339.1h0M1263.7,321h0M1277.9,342.2h0M1256.8,336.1h0M1269.8,331.8h0M1357.8,329.6h0M1253.6,317.9h0M1258.2,325.9h0M1275.4,315.9h0M1318.4,343.7h0M1271.1,338.9h0M1276.9,346.2h0M1308,325h0M1271.5,329.5h0M1315.9,332.4h0M1276.8,343.4h0M1274.8,344.2h0M1224.4,325.1h0M1310.7,336.3h0M1272.1,304.9h0M1312.6,322.8h0M1316.7,300.9h0M1270.3,301.5h0M1324.7,341.1h0M1308.4,327.8h0M1353.4,324.4h0M1258.1,321.8h0M1334.8,329.1h0M1267.7,340.2h0M1311.9,321h0M1273.1,308.5h0M1319.7,311.2h0M1268.3,330.5h0M1267.3,302.1h0M1318.6,345.3h0M1268.6,334.1h0M1240.3,324.5h0M1310.9,325.4h0M1272.3,343.6h0M1317.9,306.2h0M1321.5,342.2h0M1261,343.8h0M1275.2,313.5h0M1312.1,319.7h0M1307.6,337.6h0M1251.1,331.5h0M1261.1,340.1h0M1271.5,322.4h0M1267.3,340.9h0M1267.5,340.4h0M1274.5,337.5h0M1343.8,319.2h0M1341.9,314h0M1247.2,311.1h0M1276.2,305.4h0M1307.4,341.9h0M1318.6,334.1h0M1270.9,334.4h0M1276.8,330.5h0M1345.4,339.1h0M1260.9,330.4h0M1317.2,333.6h0M1255.2,323.3h0M1277.7,329.9h0M1308.4,311.2h0M1275.5,309.6h0M1307.1,306h0M1316,326.5h0M1309.6,320.9h0M1251.8,314.1h0M1313,320.3h0M1265,305.3h0M1272.7,305h0M1319.5,310.7h0M1332.5,317.8h0M1258.8,335.7h0M1308.1,318.9h0M1329.6,336.4h0M1309.6,311.1h0M1311.6,306h0M1274.5,346h0M1312.5,333.4h0M1267.4,320.7h0M1322.6,333.2h0M1276.5,306.7h0M1274,322.2h0M1257.9,330.5h0M1276.8,314.9h0M1318.8,325.8h0M1263.8,338h0M1266.9,332.9h0M1271.3,344.8h0M1316.2,309.8h0M1318.5,329.6h0M1353.2,322.1h0M1320.7,319.2h0M1316.6,315h0M1323.6,334.9h0M1278,314.7h0M1264,321.2h0M1306.6,318.4h0M1306.6,348.6h0M1307,345.1h0M1326.5,313.2h0M1277.6,306.1h0M1308.3,346.9h0M1265.1,306.5h0M1315.7,311.7h0M1272,309.2h0M1315.3,333.2h0M1320.8,331h0M1313.2,336.8h0M1234.9,332.2h0M1268.9,326.1h0M1330.8,331.8h0M1311,331.5h0M1264,335.8h0M1235.1,325.3h0M1248.2,304.4h0M1278.1,315.5h0M1264.4,305.8h0M1307,305.3h0M1266.9,331.3h0M1316.6,319.1h0M1312.6,337h0M1255.2,321.8h0M1269.9,336.7h0M1332.9,322.5h0M1311.4,337.8h0M1270.3,320.1h0M1269.4,317.9h0M1270.2,329.2h0M1311.6,338.5h0M1273,344.2h0M1261.4,324.6h0M1311.2,308.6h0M1323.3,317.1h0M1272.7,323.9h0M1315.2,338.8h0M1315.8,312.6h0M1277,341.9h0M1271.8,321.6h0M1331.8,335.2h0M1331.8,328.9h0M1275.5,338.5h0M1333.1,316h0M1267.1,328.6h0M1263.3,337.6h0M1265.8,316.6h0M1272.4,315.7h0M1245.6,307.9h0M1276.8,341.3h0M1310.4,313h0M1329.4,323.9h0M1332.7,321h0M1268.6,327.6h0M1260.7,341.4h0M1328.9,342.7h0M1337.2,336.2h0M1247,340.4h0M1267.7,334.7h0M1270.5,322.6h0M1274.2,309.8h0M1324.6,316.7h0M1314.8,316.3h0M1269.2,335.9h0M1322.8,336.1h0M1243.7,334.2h0M1265.8,342.3h0M1272.9,311.7h0M1309.8,313.8h0M1320.5,312.3h0M1246.3,323.2h0M1321.9,342.7h0M1337.1,326.2h0M1345.9,320h0M1268.9,312.6h0M1274.8,308.2h0M1331.1,306.2h0M1246.6,338.1h0M1315.5,313.9h0M1321,308.8h0M1257.2,307.8h0M1263.8,345h0M1317.6,302.7h0M1278.2,341.9h0M1253.7,308.1h0M1321.4,326.2h0M1325.1,304.4h0M1306.1,311.5h0M1242.9,308.2h0M1277.7,323.3h0M1308.6,341.6h0M1312,322.1h0M1271.9,334.6h0M1262.6,332.4h0M1263.2,299.5h0M1326.1,323.4h0M1319.3,323.5h0M1250.7,338h0M1245.3,312h0M1351.1,332.3h0M1328.7,326.3h0M1274,311.9h0M1272.6,345.4h0M1326.8,317h0M1307.3,308.7h0M1276.2,333.1h0M1275.4,322.4h0M1320.4,305h0M1277.8,348.7h0M1314.3,304.1h0M1348.5,310.7h0M1257.5,337.1h0M1316.5,343.2h0M1259.8,329.4h0M1262.9,329.7h0M1273.9,311.3h0M1323,305.9h0M1309.5,318.9h0M1334.3,330.9h0M1274.1,328.6h0M1318.8,318.8h0M1266.1,311.2h0M1266.3,300.8h0M1256.9,307.4h0M1319.8,333.5h0M1307.3,343.6h0M1315.9,307.2h0M1274.4,330h0M1266.6,314.6h0M1320.8,306.9h0M1273.4,343.7h0M1258.1,318.5h0M1275.3,329.2h0M1269.6,321.7h0M1273,334.2h0M1321.4,330.9h0M1275.8,323h0M1276,321.7h0M1308.9,327.9h0M1310.3,345.2h0M1263.6,301.6h0M1270.9,326.2h0M1269.2,322h0M1328.5,323.5h0M1335.5,337.9h0M1334.3,310.3h0M1244.7,327.3h0M1314.7,300.6h0M1273.2,331.9h0M1327.3,328.3h0M1340.8,337.5h0M1276.3,324.7h0M1325.2,325.6h0M1267,332.4h0M1248.1,341.7h0M1338.7,323.8h0M1274.7,337.8h0M1245,308.8h0M1247.8,329.4h0M1305.8,314.7h0M1306.2,310.6h0M1342.6,335.5h0M1308.3,335.7h0M1277.6,301.3h0M1311.8,326.4h0M1340.2,314.5h0M1275.1,341.8h0M1343.3,301.7h0M1267.4,313.3h0M1263.3,316.4h0M1358.9,316.2h0M1326.2,307.3h0M1314.5,309.9h0M1307.9,335.8h0M1309,313.9h0M1331.3,322.8h0M1265.6,312.8h0M1342.7,313.3h0M1273.6,333h0M1269.4,304.3h0M1267.5,302.2h0M1318.4,322.1h0M1275.7,348.1h0M1274.2,316.1h0M1275.3,344.3h0M1264.4,342.3h0M1305.8,344.9h0M1275.4,329.6h0M1312.1,325.7h0M1267.9,326.1h0M1265.4,336.8h0M1264.9,313h0M1318.7,314.1h0M1274,328.8h0M1310.7,312h0M1266.2,341h0M1272.6,331.4h0M1332.6,327.5h0M1266.3,327.5h0M1264.4,302.7h0M1306.5,318.3h0M1329.5,327.8h0M1271.5,314.3h0M1324.9,337.8h0M1306.8,323.1h0M1325.4,332.8h0M1276.3,338.6h0M1276,325.1h0M1278.2,323.2h0M1276.9,329.9h0M1314.8,304.3h0M1262,333.9h0M1273.3,307.2h0M1270.5,305h0M1271.8,318.8h0M1277.7,322.8h0M1259.2,327.4h0M1269.4,321.2h0M1271.4,338.5h0M1270.5,314.1h0M1268.9,321.4h0M1329.1,322.9h0M1250,315.1h0M1314.6,302.3h0M1313.1,315.6h0M1267.8,336.1h0M1319.5,331.6h0M1273.8,320.2h0M1259.7,335.9h0M1257.6,333.4h0M1277.9,318.8h0M1315.5,340.8h0M1312.2,338.1h0M1273.1,331.5h0M1306.4,309.4h0M1277.8,318.3h0M1316.4,334.1h0M1311.9,324.3h0M1308.4,312.3h0M1318.3,323.3h0M1271.3,341.9h0M1276.7,321.1h0M1276.1,342.4h0M1319.4,338.1h0M1323.4,303.5h0M1266.6,319h0M1234.1,335.7h0M1256.5,313.6h0M1307.8,326.8h0M1313.7,318.2h0M1325.6,311.9h0M1309.4,338.7h0M1323.6,312.9h0M1258.9,340.7h0M1269,314.5h0M1325.5,300.4h0M1307.9,345h0M1311,320.9h0M1316.1,317.8h0M1307,301.6h0M1342.1,328.2h0M1333.4,339.2h0M1313.7,318.8h0M1306.3,336.8h0M1257.3,329.5h0M1321.3,303.3h0M1253.1,339.5h0M1306.4,308.5h0M1311.8,320h0M1275.9,311.6h0M1274,313h0M1241.1,339.8h0M1274.3,326.6h0M1264.3,327.9h0M1310.8,306.2h0M1272.9,336.1h0M1324.7,342.9h0M1275.8,332.6h0M1332.5,319.4h0M1311.3,337.4h0M1310.2,314.5h0M1325.8,340.9h0M1248.4,341.5h0M1247.4,319.7h0M1317.5,333.2h0M1275.7,343.1h0M1306.7,315.1h0M1310.5,332.7h0M1326.3,316.8h0M1337.4,314.9h0M1266.3,322h0M1264.4,338.9h0M1276.3,321.3h0M1310.1,311h0M1269.2,334.4h0M1273.8,315.7h0M1322.1,320.4h0M1277.5,337.1h0M1249.2,314.5h0M1327.2,343.4h0M1270.9,343.4h0M1308.8,303.9h0M1332.1,338.1h0M1309.9,336.6h0M1329.5,342.6h0M1324.1,311.7h0M1332.1,312.2h0M1252.7,329.5h0M1340.5,323.9h0M1272.7,300.2h0M1273.7,322.1h0M1310,326h0M1318.9,327.9h0M1277.3,344.6h0M1323.9,298.7h0M1316.6,346.1h0M1316.6,321.9h0M1319.1,312h0M1311.1,345.3h0M1319.6,343.2h0M1275.5,300.9h0M1267.2,333.2h0M1313,337.2h0M1306.8,325.8h0M1277.3,320.8h0M1332.9,336.6h0M1314.1,339h0M1239.1,325.1h0M1310.5,344.3h0M1278.1,308.8h0M1313.8,320.1h0M1333,322.3h0M1312.9,315.8h0M1320.5,314.4h0M1259,311.4h0M1267,333.4h0M1272.2,309.3h0M1312.8,323.2h0M1271,302.7h0M1272.7,328.3h0M1277.9,310.8h0M1258.3,305.9h0M1315,345.2h0M1268.4,337.8h0M1254.4,307.2h0M1354,318.5h0M1256.9,325.3h0M1276,333.2h0M1345.3,305.5h0M1341.5,336.8h0M1317.3,328.6h0M1276.4,337.9h0M1315.1,324.5h0M1317.1,320h0M1267.9,301.2h0M1315.4,330h0M1240.1,311.7h0M1312.3,314.7h0M1309.2,325.5h0M1306.6,347.8h0M1307.7,311.4h0M1253.1,337.1h0M1275.3,301.8h0M1310.5,340.1h0M1309.6,299.8h0M1309.3,316.2h0M1277.2,329.9h0M1340,307h0M1257.3,326.4h0M1255.6,308.1h0M1309,319h0M1356.5,314.1h0M1307.8,311.1h0M1306.3,335.7h0M1343.7,306.8h0M1267.4,317.3h0M1266.6,345.8h0M1306,319.7h0M1336.2,340.3h0M1261.4,310h0M1275.6,330.7h0M1276.3,307.2h0M1321.2,318.7h0M1278.1,304.2h0M1259.3,318.5h0M1329.8,315.2h0M1264.1,321.9h0M1311.1,308h0M1237.9,320.1h0M1310.1,330.4h0M1307.9,343.6h0M1262.2,323h0M1313.8,336.6h0M1269.8,303.5h0M1312.4,330.2h0M1311.4,335.1h0M1278,321.5h0M1313.8,315.7h0M1253.8,338.8h0M1267,305.7h0M1276.9,320.7h0M1306.3,331.6h0M1262.6,308.7h0M1271.9,324.8h0M1316.4,332.3h0M1228.2,337.4h0M1315,313.1h0M1331.3,340.9h0M1268.5,339.8h0M1307.4,340.3h0M1275.6,333.8h0M1323.6,343.4h0M1330.2,310.7h0M1308.5,320.9h0M1353,335.9h0M1276.6,323.1h0M1257,305h0M1277.2,314.3h0M1268.1,317h0M1330.3,317.5h0M1316,346h0M1308.8,306.4h0M1251.2,309.5h0M1276,330.1h0M1270.8,331.2h0M1270.7,299.4h0M1255.6,305.8h0M1308.5,328.5h0M1270.9,326h0M1271.2,316.8h0M1273.9,306.8h0M1312.3,325.9h0M1266.3,325.6h0M1271.1,316.8h0M1309.8,305h0M1313.7,332.7h0M1315.6,302.5h0M1275.7,321.5h0M1314.1,312.8h0M1260.5,301.1h0M1316.6,313h0M1327.4,318.8h0M1278.1,331.9h0M1271.8,330.8h0M1335.7,315.2h0M1272.9,326.5h0M1306.7,305.7h0M1320.3,337.9h0M1322.8,319.3h0M1273.5,334.7h0M1271.1,313h0M1312.3,317.8h0M1256.2,330h0M1306.6,333.1h0M1241,330.4h0M1264.6,333h0M1265.9,298.9h0M1314.6,333.8h0M1275.5,305h0M1271.5,324h0M1332.2,325.4h0M1252.6,341.5h0M1323.7,326.8h0M1261,320.3h0M1241.9,314.8h0M1312.2,308.3h0M1275.8,316h0M1306.3,324.2h0M1309.4,335.9h0M1316.9,333.8h0M1317.5,324.8h0M1257.2,316.6h0M1272.2,309.7h0M1313.5,339.2h0M1315.6,329.8h0M1313,330h0M1325.7,320h0M1261.2,312.7h0M1312.8,322.2h0M1274,303.7h0M1313.5,335.6h0M1345.1,324.2h0M1307.8,311.3h0M1262.1,325h0M1277.7,336.5h0M1266.8,318h0M1269.8,345.7h0M1332.5,309.1h0M1274.7,311.9h0M1307.9,338.9h0M1245.6,339.2h0M1313.2,345.2h0M1321.1,338.6h0M1307.7,320.4h0M1267.3,314.2h0M1311.3,329.3h0M1316.6,315.1h0M1331.6,341.1h0M1248.8,312.7h0M1264.9,327.3h0M1267.4,332.6h0M1311.7,323.1h0M1323,326.6h0M1315.6,320h0M1237.4,325.7h0M1341.2,307.1h0M1273.1,298.6h0M1275.1,320.7h0M1339.4,306.2h0M1276.1,323.1h0M1270.1,333.9h0M1267.6,319.1h0M1348.2,336.3h0M1270.6,325.6h0M1261.4,300.9h0M1276.2,317.4h0M1309.8,315.8h0M1225.2,336.2h0M1250.4,340.5h0M1264.9,337.6h0M1350,307.5h0M1276.6,317.4h0M1261.7,325.8h0M1278.2,304.1h0M1225.6,333.4h0M1312.8,312.7h0M1306,339.6h0M1306.6,321.1h0M1317.8,318.8h0M1240.2,322.9h0M1275.9,315h0M1309.8,344.8h0M1274.4,333.8h0M1320.6,328.3h0M1275.3,313.8h0M1317.4,335.7h0M1262.3,336.9h0M1277.1,339.1h0M1270,302.2h0M1271.7,319.7h0M1331.2,336.6h0M1271.5,316.2h0M1269.1,339.5h0M1277.5,301.4h0M1270.4,309.3h0M1275,343.4h0M1240.1,320.2h0M1276.1,336.8h0M1275.2,308.3h0M1247.8,334.1h0M1313.2,336.1h0M1308.4,343.3h0M1259.9,331.9h0M1273,310.9h0M1273.7,327.7h0M1329.2,325.1h0M1277,313.4h0M1242,339.9h0M1275.8,318.9h0M1273.3,339.4h0M1312.8,347.1h0M1316,310.9h0M1270,329.9h0M1273.5,302.3h0M1327.6,311.2h0M1277.9,323.9h0M1321.2,303.3h0M1275.4,299.9h0M1310.7,332h0M1324.8,313.4h0M1308.7,308.8h0M1314.9,329.8h0M1312.4,343.9h0M1262.1,330.1h0M1269.3,328.7h0M1329.4,341.3h0M1310.1,330.5h0M1261,317.7h0M1264,298.6h0M1319.2,325.2h0M1324.7,331.3h0M1310.9,330h0M1306.7,318.6h0M1306.8,308.9h0M1273.6,324.1h0M1273.6,302.7h0M1331.9,317.7h0M1270.3,328.6h0M1268.7,325.1h0M1312,333.8h0M1348.4,329.8h0M1332.4,341.9h0M1261.8,337.1h0M1332.9,336.9h0M1276.5,326.1h0M1277.6,341.2h0M1316.2,332h0M1349.8,329.5h0M1225,311.2h0M1311.8,311h0M1258.6,331.4h0M1338.8,334.9h0M1266.3,343.7h0M1309.9,336.1h0M1277.9,310h0M1274.5,332.2h0M1261.4,325.6h0M1316,334h0M1263.4,333h0M1272.5,344.7h0M1273.4,345.9h0M1359.4,331.7h0M1307.7,313.1h0M1306.9,306h0M1269.1,336.5h0M1273.4,345.2h0M1310.3,318.5h0M1272.3,345.9h0M1318,343.9h0M1309.7,344.9h0M1324.7,335.2h0M1320.2,321.7h0M1267.6,310.8h0M1264.7,310.3h0M1331.1,330.5h0M1310.9,339.6h0M1260.8,322.9h0M1309.3,314.8h0M1266.9,298.5h0M1325.1,321.9h0M1319.7,335.5h0M1333.3,316.9h0M1306.5,336.9h0M1274.2,330h0M1306,304.4h0M1327.2,329.1h0M1234.6,335.3h0M1348.3,329.6h0M1311.7,312.9h0M1327.7,338.7h0M1274,339.5h0M1315.5,319.8h0M1309.5,323.9h0M1264.3,321.4h0M1321.7,304.9h0M1321.8,327.1h0M1324.3,324.8h0M1259.9,342.5h0M1315.1,332.6h0M1265.2,304.7h0M1319.3,320.5h0M1312.7,323h0M1264.7,312.3h0M1311.6,345.8h0M1306.8,331.2h0M1252.4,323.5h0M1328.2,327.4h0M1310.6,334.7h0M1318.6,345.2h0M1258.4,328h0M1273.7,329.8h0M1312.2,344.3h0M1323.6,315.3h0M1324.2,305.3h0M1269.5,327.4h0M1319.5,343.7h0M1315,302.7h0M1273.2,335.1h0M1334.6,322.7h0M1308.4,330.7h0M1267.2,321.1h0M1308.4,317.9h0M1274.9,300.8h0M1263.8,300.7h0M1273.9,326.3h0M1262.7,315.6h0M1309.6,335.9h0M1312.5,342.5h0M1251.7,334h0M1256.7,334.8h0M1330.6,341.8h0M1254.7,325.1h0M1323.4,342.4h0M1336.3,336.4h0M1245.8,337.2h0M1256.1,325.4h0M1324.2,338.5h0M1244.5,329.9h0M1261.2,300.6h0M1335.2,319.7h0M1322.5,303.3h0M1239.9,323.8h0M1322.3,305.6h0M1322.4,334.2h0M1254.4,314.3h0M1322,340.9h0M1324.7,299.3h0M1326.9,306.3h0M1261,337.1h0M1332.4,306.8h0M1332.9,320.3h0M1337.7,313.9h0M1327.8,322.1h0M1259,311.9h0M1322.2,335h0M1325,307.2h0M1332.8,330.8h0M1322.8,321.4h0M1242.4,339.7h0M1261.4,309.9h0M1329.2,321.3h0M1322.3,311.8h0M1255,303.6h0M1247.2,329h0M1256.6,342.6h0M1330.2,322.6h0M1254,306.2h0M1334.6,309h0M1324.2,318.8h0M1262,331.6h0M1253.5,309.2h0M1325.7,341.6h0M1259.3,335.3h0M1247.6,325.6h0M1241.9,325.3h0M1337.1,336.8h0M1258.5,303.8h0M1341.5,325.9h0M1333.6,306.6h0M1345.1,326.1h0M1259.4,330h0M1325.1,336.6h0M1328.2,315.6h0M1322.4,299.9h0M1329.5,315.7h0M1260,299.1h0M1256.6,320.2h0M1261.3,338h0M1260.8,316h0M1244.8,324.6h0M1248.8,329.5h0M1258.1,301.6h0M1323.6,300.3h0M1259.5,327.8h0M1261.2,300.7h0M1330.5,338.8h0M1253.8,308.7h0M1260.1,303.7h0M1261.4,322.4h0M1260.4,322.9h0M1326.8,315.5h0M1257.5,319.8h0M1260.1,313.8h0M1257,333.8h0M1325.1,311.5h0M1260.5,334.9h0M1345.9,303h0M1325,311.8h0M1250.9,338.6h0M1252.9,336.4h0M1335.4,303.4h0M1340.6,313.7h0M1331.8,340.4h0M1259.3,321h0M1260.8,334.1h0M1256.8,324.4h0M1258.5,325.9h0M1259.2,328.7h0M1259.3,315.1h0M1254.8,310.2h0M1329.5,313.6h0M1260.9,329.9h0M1331.4,319.1h0M1261.5,331.3h0M1347.3,315.6h0M1329.6,309.2h0M1329.1,325.9h0M1260.8,325.8h0M1257,336.3h0M1254.2,328.3h0M1257.8,340.4h0M1256.4,335.3h0M1329.3,336.3h0M1348.2,300.9h0M1324.3,300h0M1253.5,334.7h0M1345.2,313.8h0M1341.9,321.6h0M1243.6,326.9h0M1325.1,333.5h0M1328,339h0M1332.5,341.6h0M1322.6,326.4h0M1337,315.3h0M1346.5,326.3h0M1322.7,304h0M1329,341.1h0M1256.6,323.9h0M1253.5,332.1h0M1331.6,312.1h0M1256,304.5h0M1261,338.5h0M1254.3,305.4h0M1327.4,325.5h0M1259,300.8h0M1257,302h0M1327.8,338.6h0M1245.7,337h0M1256.2,312h0M1324.1,327.7h0M1257,305.6h0M1330.8,312.6h0M1343.6,331.3h0M1246.4,308.7h0M1324.6,323.5h0M1341.2,323.3h0M1335.1,313h0M1340.8,337.7h0M1256.3,303.9h0M1259.6,309.6h0M1328.3,327.2h0M1324,302.1h0M1260.8,330.6h0M1326.8,327.5h0M1344.4,330.6h0M1252.4,314h0M1329.6,310.4h0M1244.9,314.8h0M1259.4,312.8h0M1250.9,341h0M1255,332.9h0M1324.3,338.3h0M1333.1,339.4h0M1346.9,331.2h0M1334,299.9h0M1247.5,324.3h0M1259.5,319.7h0M1325.5,300.2h0M1327.3,310.1h0M1257.9,339.9h0M1260.8,335.3h0M1260.3,328.4h0M1260.3,326.6h0M1343,338h0M1331.5,319.2h0M1332.2,305.5h0M1337.1,330.2h0M1322.8,305.2h0M1243.7,338.8h0M1323,305h0M1254.4,310.9h0M1322.9,313.8h0M1321.9,323.7h0M1257.1,321.8h0M1323,304.9h0M1254.3,322.3h0M1321.9,343.8h0M1331.1,319.4h0M1323.7,332.9h0M1256.9,339.2h0M1239.8,318h0M1327.2,319h0M1335.8,332.5h0M1260.5,322.5h0M1346.4,320.9h0M1332.2,308.4h0M1322.2,313.1h0M1323,334.3h0M1253.8,335.4h0M1325.7,306.9h0M1322.1,333.6h0M1260.2,335.7h0M1260,315.7h0M1335.5,330.1h0M1322.3,320.9h0M1256.2,333.8h0M1351.6,335.8h0M1244.3,312.4h0M1260.9,312.4h0M1322.6,325.4h0M1324,339.3h0M1261.6,311.7h0M1337.2,315.5h0M1253.7,334.5h0M1257.2,316.6h0M1327.3,320.9h0M1258.7,310.8h0M1326.7,323.8h0M1326.2,319h0M1258.3,320.7h0M1322.8,327h0M1258.8,312h0M1259.6,334.9h0M1261.9,303.2h0M1322.9,316.2h0M1328.4,333.7h0M1251.7,318.6h0M1245.5,333.4h0M1253.6,304.4h0M1241,309.7h0M1323,327.5h0M1322,308.9h0M1341.5,330.9h0M1333.4,330.2h0M1253.8,329.4h0M1261.8,320.5h0M1323.7,324.9h0M1329.4,320.7h0M1258.3,317h0M1328.8,304.5h0M1348,336.1h0M1250.7,307.2h0M1330.6,313.9h0M1325.4,299.5h0M1237.1,338.7h0M1323.2,314.6h0M1350.8,322.6h0M1260.3,332.4h0M1339.4,333h0M1242.2,337.4h0M1261.7,301.4h0M1322.4,325.3h0M1326.2,327.2h0M1248.8,314.8h0M1327.7,307.7h0M1327.3,335.2h0M1260.5,343.4h0M1245.3,304.4h0M1251.6,299.5h0M1249.9,325h0M1322.7,327.7h0M1332,301h0M1251.9,324.9h0M1327.6,299.3h0M1243.6,324.2h0M1322.5,328h0M1331,341.7h0M1244.3,331h0M1256.3,338.5h0M1333.4,322.5h0M1278.2,346.9h0M1277.1,347.4h0M1275.9,348.2h0M1274.2,346.5h0M1272.6,345.6h0M1271.4,345.8h0M1270.1,346.6h0M1268.6,344.6h0M1267.1,345.2h0M1265.8,344.3h0M1264.5,343.6h0M1263.2,342.8h0M1261.7,342.8h0M1260.4,343.2h0M1258.6,341.5h0M1257,341.5h0M1255.2,342.7h0M1254,341.8h0M1252.6,341.9h0M1251.5,340.2h0M1250.1,340.4h0M1248.4,341.3h0M1247,340.2h0M1245.7,340.3h0M1243.9,340.5h0M1242.6,338.4h0M1305.8,349.1h0M1306.9,348.4h0M1308.3,347.3h0M1309.9,345.5h0M1311.4,346.9h0M1313,345.2h0M1314.7,345.6h0M1316.2,344.1h0M1317.6,344.5h0M1319.2,344.8h0M1320.8,343.5h0M1322.5,344.2h0M1324.1,342.2h0M1325.7,341.7h0M1327.2,342.3h0M1328.4,341.5h0M1329.5,341.8h0M1331.2,341.7h0M1332.4,341.2h0M1334,339.9h0M1335.2,340.4h0M1336.8,339.2h0M1338.4,340.3h0M1339.5,339.8h0M1340.7,338.3h0M1341.8,340.1h0M1343.6,338.1h0M1345,338.5h0M1199.2,340.6h0M1220.2,341.1h0M1224.7,313.1h0M1226.9,329.5h0M1232.2,316h0M1232.2,339.2h0M1235.2,340.1h0M1354.8,298.1h0M1348.8,310.2h0M1354.8,327.1h0M1360.8,338.2h0M1367.5,331.9h0M1373.5,326.1h0M1375.8,334.3h0M1379.5,339.2h0M1381.8,333.4h0M1392.2,336.8h0M1398.2,334.3h0M1399,336.8h0M1405.7,335.3h0M1345.9,339.2h0M1350.3,340.1h0M1353.3,336.8h0M1356.3,331.9h0M1350.3,324.7h0M1347.4,315h0M1142.4,306.3h0M1142.4,336.8h0M1142.4,340.1h0M1441.6,296.7h0M1441.6,300.5h0M1441.6,304.4h0M1441.6,307.8h0" fill="none" stroke="#3C54A4" stroke-width="3.9" stroke-linecap="round"/>
<path d="M1142.4,311.6 V330.5" stroke="#3C54A4" stroke-width="3.9" stroke-linecap="round"/>
<path d="M1441.6,312.6 V340.1" stroke="#3C54A4" stroke-width="3.9" stroke-linecap="round"/>
<path d="M1283.4,199h0M1284.2,201h0M1286.6,201.4h0M1290.6,202.8h0M1291.2,204.4h0M1285.4,206.7h0M1280.8,205.8h0M1295.2,207.4h0M1299.3,208.2h0M1290.2,209.6h0M1281,209.4h0M1282.5,209.9h0M1279.3,210.7h0M1280.5,212h0M1293.4,212.1h0M1285.3,213.4h0M1301.6,213.4h0M1285.6,213.5h0M1280.3,215.4h0M1295.2,214.1h0M1292.9,214.4h0M1295.9,216.8h0M1297.3,216.7h0M1295.8,216.4h0M1297.6,216h0M1297,218.7h0M1300.1,218.1h0M1301.8,218.4h0M1290.5,218.7h0M1298,219.8h0M1299.7,220.2h0M1291.4,220.3h0M1284.8,220.6h0M1293,221.1h0M1290.4,221.8h0M1301,221.6h0M1289.4,222.2h0M1295.7,223.1h0M1287.6,222.9h0M1299.2,224h0M1281.9,223h0M1280.7,224.7h0M1285.1,225.3h0M1292.9,225.6h0M1298.5,224.4h0M1288.2,227h0M1286.6,226.1h0M1291.2,226.1h0M1279.9,226.8h0M1293.6,228.4h0M1284.1,229h0M1286.9,228.2h0M1303.4,228.7h0M1280.2,228.7h0M1282.3,229.4h0M1301.6,229.4h0M1283.9,229.8h0M1280.6,229.5h0M1302.2,229.9h0M1287.3,232.1h0M1283.3,231.3h0M1285.5,231.8h0M1297,231.6h0M1299.6,232.8h0M1297.1,233.4h0M1301.2,233.1h0M1280.1,234h0M1296.2,233h0M1292.4,234.7h0M1283,234.9h0M1298.1,235.3h0M1288.8,235.8h0M1302.3,235.6h0M1304.4,237.5h0M1281.4,237.4h0M1296.7,236.7h0M1286.4,237h0M1297.8,237.1h0M1281,238.3h0M1294.3,238.3h0M1301.2,239h0M1303.8,237.8h0M1294.4,239.1h0M1285.6,240.4h0M1280.9,240.2h0M1283.1,239.7h0M1299.1,240.4h0M1296.7,240.8h0M1301.7,241.5h0M1288.4,242.5h0M1279.4,242.1h0M1279.8,241.9h0M1303.7,241.9h0M1300.3,243h0M1293,243.4h0M1285.5,244h0M1302.9,244.1h0M1287.5,243.5h0M1302.1,243.5h0M1294.5,244.8h0M1289.6,245.6h0M1280.1,245.7h0M1299.9,245.7h0M1290.9,244.6h0M1298,244.6h0M1279.9,246.2h0M1284.9,247.1h0M1298.7,247h0M1279.2,246.6h0M1298.3,246.9h0M1289.3,247.3h0M1304.6,248h0M1293.5,248.4h0M1280.1,248.9h0M1294.5,248.8h0M1280.1,249h0M1304.4,248.5h0M1285,250.5h0M1298,250h0M1291.4,250.2h0M1301.8,250.7h0M1303.5,250.9h0M1281.5,251.4h0M1281.9,251.4h0M1295.5,251.6h0M1295.3,251.5h0M1301.1,251.3h0M1296.8,252.4h0M1280,253h0M1304.2,253h0M1280,254.7h0M1304.2,254.7h0M1279.7,256.3h0M1304,256.3h0M1280,258h0M1303.8,258h0M1280.3,259.7h0M1303.7,259.7h0M1280,261.4h0M1303.5,261.4h0M1280.2,263.1h0M1303.5,263.1h0M1280.5,264.8h0M1303.6,264.8h0M1280.1,266.5h0M1303.9,266.5h0M1280.4,268.2h0M1303.8,268.2h0M1280.4,269.9h0M1303.4,269.9h0M1280.2,271.6h0M1303.5,271.6h0M1280.2,273.3h0M1303.5,273.3h0M1280.3,274.9h0M1303.7,274.9h0M1280,276.6h0M1303.8,276.6h0M1280.3,278.3h0M1303.8,278.3h0M1280,280h0M1303.7,280h0M1280.4,281.7h0M1303.5,281.7h0M1280,283.4h0M1303.7,283.4h0M1280.3,285.1h0M1303.5,285.1h0M1280,286.8h0M1303.9,286.8h0M1280.4,288.5h0M1304,288.5h0M1280.2,290.2h0M1303.7,290.2h0M1280.5,291.8h0M1303.7,291.8h0M1280.2,293.5h0M1303.6,293.5h0M1280.2,295.2h0M1303.8,295.2h0M1280,296.9h0M1304,296.9h0M1280.1,298.6h0M1303.8,298.6h0M1280.2,300.3h0M1304,300.3h0M1280.3,302h0M1304,302h0M1280.1,303.7h0M1303.6,303.7h0M1280.3,305.4h0M1303.8,305.4h0M1280.2,307.1h0M1303.7,307.1h0M1280,308.8h0M1303.7,308.8h0M1280.4,310.4h0M1303.9,310.4h0M1280.2,312.1h0M1303.9,312.1h0M1280.5,313.8h0M1303.8,313.8h0M1280,315.5h0M1303.8,315.5h0M1280.2,317.2h0M1304,317.2h0M1280.1,318.9h0M1303.5,318.9h0M1280.3,320.6h0M1303.8,320.6h0M1280.2,322.3h0M1303.5,322.3h0M1280.1,324h0M1303.8,324h0M1280.4,325.7h0M1303.7,325.7h0M1280.5,327.3h0M1303.5,327.3h0M1280.5,329h0M1303.5,329h0M1280.5,330.7h0M1303.9,330.7h0M1280.3,332.4h0M1303.7,332.4h0M1280.5,334.1h0M1303.6,334.1h0M1280,335.8h0M1303.7,335.8h0M1280.5,337.5h0M1303.9,337.5h0M1280.1,339.2h0M1303.5,339.2h0M1280.1,340.9h0M1303.9,340.9h0M1280.1,342.6h0M1303.8,342.6h0M1280.2,344.3h0M1303.8,344.3h0M1280,345.9h0M1303.6,345.9h0M1280.2,347.6h0M1303.8,347.6h0M1280,349.3h0M1303.8,349.3h0M1280.4,351h0M1303.7,351h0M1297.5,160.5h0M1301.3,165.3h0M1302.8,166.7h0M1296.5,170.1h0M1295,171.1h0M1287.5,184.6h0M1288.3,186.1h0M1283.8,190.4h0M1297.2,190.4h0M1288.3,195.2h0M1289.8,193.3h0" fill="none" stroke="#000" stroke-width="3.9" stroke-linecap="round"/>
<path d="M1286,355.6 L1298,355.6 L1296.5,357.8 L1292,359.9 L1287.5,357.8 Z" fill="#ED1C24" stroke="#ED1C24" stroke-width="1" stroke-linejoin="round"/>
<text x="1182.4" y="219.4" font-size="24.2" fill="#ED1C24" style="fill:#ED1C24">Erdr1</text>
<path d="M1177,208.4 L1156.3,226.2" stroke="#000" stroke-width="1.1"/>
</g>
<g id="volcano-2">
<path d="M1605.9,50.3 V369.2 H1966 M1605.9,50.3 H1966" fill="none" stroke="#555" stroke-width="0.9"/>
<path d="M1605.9,66.9 h-5.6 M1605.9,115.3 h-5.6 M1605.9,163.6 h-5.6 M1605.9,212 h-5.6 M1605.9,260.3 h-5.6 M1605.9,308.7 h-5.6 M1605.9,357.1 h-5.6 M1633.8,369.2 v7 M1708.6,369.2 v7 M1783.4,369.2 v7 M1858.2,369.2 v7 M1933,369.2 v7 " fill="none" stroke="#444" stroke-width="0.9"/>
<text x="1588.4" y="77.1" text-anchor="end" font-size="28.6">0</text>
<text x="1588.4" y="125.5" text-anchor="end" font-size="28.6">1</text>
<text x="1588.4" y="173.8" text-anchor="end" font-size="28.6">2</text>
<text x="1588.4" y="222.2" text-anchor="end" font-size="28.6">3</text>
<text x="1588.4" y="270.5" text-anchor="end" font-size="28.6">4</text>
<text x="1588.4" y="318.9" text-anchor="end" font-size="28.6">5</text>
<text x="1588.4" y="367.3" text-anchor="end" font-size="28.6">6</text>
<text x="1633.5" y="409.4" text-anchor="middle">−10</text>
<text x="1708.3" y="409.4" text-anchor="middle">−5</text>
<text x="1783.4" y="409.4" text-anchor="middle">0</text>
<text x="1858.2" y="409.4" text-anchor="middle">5</text>
<text x="1933" y="409.4" text-anchor="middle">10</text>
<text x="1783.9" y="450.9" text-anchor="middle">Log2 (fold-change)</text>
<text x="1547.9" y="213" text-anchor="middle" font-size="28.9" transform="rotate(-90 1547.9 213)">–Log10 (<tspan class="i">p</tspan> value)</text>
<text x="1633.7" y="96.8" font-size="25.1">Down in GF</text>
<text x="1813.3" y="96.8" font-size="25.1">Up in GF</text>
<path d="M1636.2,114.4 L1653.4,105.9 V111.4 H1764.5 V117.4 H1653.4 V122.9 Z" fill="#ED1C24"/>
<path d="M1933.1,114.4 L1916.1,105.9 V111.4 H1805 V117.4 H1916.1 V122.9 Z" fill="#4472C4"/>
<polygon points="1771,295.2 1758,295.2 1758,345 1759.3,345.4 1760.6,345.7 1761.9,346.1 1763.2,346.4 1764.5,346.8 1765.8,347.2 1767.1,347.6 1768.4,348 1769.7,348.4 1771,348.9" fill="#3C54A4"/>
<polygon points="1771,295.2 1763.2,295.2 1771,272.4" fill="#6ABD45"/>
<polygon points="1795.8,295.2 1808.8,295.2 1808.8,345 1807.5,345.4 1806.2,345.7 1804.9,346.1 1803.6,346.4 1802.3,346.8 1801,347.2 1799.7,347.6 1798.4,348 1797.1,348.4 1795.8,348.9" fill="#3C54A4"/>
<polygon points="1795.8,295.2 1803.6,295.2 1795.8,272.4" fill="#6ABD45"/>
<polygon points="1775.5,228.9 1774.4,231.3 1773.7,233.7 1773.1,236.2 1772.5,238.6 1771.9,241 1771.4,243.4 1770.8,245.8 1770.6,248.2 1770.7,250.7 1770.8,253.1 1770.9,255.5 1771,257.9 1771,260.3 1771,262.8 1771,265.2 1771.1,267.6 1771.1,270 1771.1,272.4 1771.1,274.8 1771.1,277.3 1771.1,279.7 1771.1,282.1 1771.1,284.5 1771.1,286.9 1771.1,289.4 1771.1,291.8 1771.1,294.2 1771.1,296.6 1771.1,299 1771.1,301.4 1771.2,303.9 1771.2,306.3 1771.2,308.7 1771.2,311.1 1771.2,313.5 1771.2,316 1771.2,318.4 1771.2,320.8 1771.2,323.2 1771.2,325.6 1771.2,328 1771.2,330.5 1771.2,332.9 1771.2,335.3 1771.2,337.7 1771.3,340.1 1771.3,342.6 1771.3,345 1771.3,347.4 1771.3,349.8 1769.5,349.3 1777.1,354.9 1783.4,357.1 1789.7,354.9 1797.3,349.3 1795.5,349.8 1795.5,347.4 1795.5,345 1795.5,342.6 1795.5,340.1 1795.6,337.7 1795.6,335.3 1795.6,332.9 1795.6,330.5 1795.6,328 1795.6,325.6 1795.6,323.2 1795.6,320.8 1795.6,318.4 1795.6,316 1795.6,313.5 1795.6,311.1 1795.6,308.7 1795.6,306.3 1795.6,303.9 1795.7,301.4 1795.7,299 1795.7,296.6 1795.7,294.2 1795.7,291.8 1795.7,289.4 1795.7,286.9 1795.7,284.5 1795.7,282.1 1795.7,279.7 1795.7,277.3 1795.7,274.8 1795.7,272.4 1795.7,270 1795.7,267.6 1795.8,265.2 1795.8,262.8 1795.8,260.3 1795.8,257.9 1795.9,255.5 1796,253.1 1796.1,250.7 1796.2,248.2 1796,245.8 1795.4,243.4 1794.9,241 1794.2,238.6 1793.5,236.2 1792.7,233.7 1791.9,231.3 1790.7,228.9" fill="#000"/>
<path d="M1769.2,249.6h0M1758.1,266.9h0M1817,279.4h0M1803.6,284.2h0M1801.4,257.1h0M1805.1,288.2h0M1765.1,286.6h0M1766.7,288.1h0M1819.6,284.6h0M1769.9,289.1h0M1796.8,285.2h0M1764.3,259h0M1759,291.6h0M1799.9,288.6h0M1802.8,290.1h0M1768.8,291.7h0M1766.5,291.3h0M1803.2,249h0M1805.9,240h0M1769.3,285.2h0M1821.1,260.2h0M1797.1,283.5h0M1763.9,282.5h0M1751.9,283.5h0M1827.4,292.8h0M1801.8,285.7h0M1759.5,283.7h0M1767.2,273.9h0M1798.9,289.1h0M1768.8,276.2h0M1766.7,285.4h0M1760.7,284.1h0M1822.9,269.4h0M1743.7,290.5h0M1797.9,248.1h0M1756.7,242.8h0M1804.9,279.4h0M1810.8,283h0M1761.6,273.1h0M1801.4,283.8h0M1805.7,286.1h0M1798.4,282.9h0M1758.6,286h0M1802.9,287.3h0M1809.3,280.6h0M1809.7,261.1h0M1824.2,289.9h0M1757.8,281.3h0M1766,283.6h0M1799,285.6h0M1768.6,285.8h0M1754.3,274.3h0M1765.1,242.2h0M1797.2,264.5h0M1800.8,272.7h0M1798.2,288.3h0M1797.8,276.2h0M1761.2,291h0M1798.5,254.7h0M1751.3,242.3h0M1750,268.1h0M1817.2,288.4h0M1811.5,257.7h0M1806.8,261.7h0M1811.1,292.5h0M1801.3,280.7h0M1801.7,291.9h0M1766.9,278.5h0M1823.8,272.2h0M1768,284.6h0M1799.5,293.3h0M1760.5,256.9h0M1828.2,273.3h0M1802.1,260.7h0M1804.2,291.8h0M1765.9,292.2h0M1769.9,276.7h0M1802.4,267.9h0M1770.3,245.2h0M1798.3,258.4h0M1809.9,258.7h0M1800.3,278.5h0M1797.8,275.6h0M1769.7,278.9h0M1803.6,271.9h0M1765.1,241.1h0M1759.2,262.9h0M1801.7,281.6h0M1764.7,290.7h0M1765.4,272h0M1741.9,278.3h0M1768,288.4h0M1797.6,265.4h0M1769.9,292.2h0M1819.7,288.8h0M1760.5,279h0M1830,285h0M1815.6,288.8h0M1805.7,284.3h0M1811.5,289.4h0M1816.3,263.9h0M1810.2,286.4h0M1750.4,276h0M1806.3,288h0M1768.8,278.4h0M1801,290.7h0M1798.4,291.2h0M1810.5,234.5h0M1767.3,224.3h0M1754.1,290.6h0M1768.1,274.7h0M1767.1,284.6h0M1814.6,289.1h0M1803.7,271.8h0M1808.7,242.3h0M1804.2,292.4h0M1804.1,248.9h0M1799,291.9h0M1755.9,291.4h0M1804.7,291.4h0M1766.7,287.5h0M1755.3,238.3h0M1809.8,286.5h0M1762,275.2h0M1798.1,277.9h0M1818.3,289.3h0M1799.7,284h0M1766.7,277.3h0M1763.3,288h0M1749.8,270.5h0M1798.9,273.1h0M1797.2,276.8h0M1805.1,288.7h0M1767.9,265.3h0M1769.8,260.5h0M1757.4,288.8h0M1810.2,282.7h0M1800.3,273.9h0M1820.4,273.7h0M1797.3,273.3h0M1761,272.1h0M1803.1,267.8h0M1767.9,289.5h0M1800.1,277.9h0M1769.2,291.7h0M1753.4,278.7h0M1768.1,289.4h0M1827.5,281.7h0M1807.6,283.2h0M1807.6,259.3h0M1802.3,282.3h0M1799.9,293h0M1761.6,293.4h0M1762.7,244.1h0M1800.8,273.9h0M1759.3,292.2h0M1769.1,292.6h0M1762.2,277.8h0M1802.2,287.6h0M1767.1,278h0M1815.8,289.2h0M1757,274.9h0M1801,292.1h0M1759.9,290.6h0M1769,266.1h0M1747.3,251.9h0M1756.5,234.6h0M1822.3,272.4h0M1764.5,288.5h0M1796.9,283.5h0M1814.8,293.6h0M1799.1,279.7h0M1804.7,277.1h0M1770.3,243.3h0M1802.8,279.2h0M1829.3,277.2h0M1760.1,289.3h0M1752.4,239.7h0M1812.5,289.5h0M1764.2,282.5h0M1798,268.1h0M1805.8,276.1h0M1797.6,250.6h0M1749.2,288.4h0M1811.1,275.4h0M1816.8,254.6h0M1762.3,293.3h0M1769,279h0M1746.6,281.1h0M1801.8,259.6h0M1768.7,245.7h0M1799.1,279.8h0M1765.8,291.3h0M1812.1,240.4h0M1765.3,264.2h0M1801.7,242.4h0M1768.4,279.7h0M1814.4,280.6h0M1762.7,283.4h0M1754.5,272h0M1803.2,290.7h0M1809.1,293.3h0M1760,273.4h0M1797.5,292.4h0M1806.1,252.1h0M1813,292.3h0M1769.6,292.9h0M1769.1,278.4h0M1800.8,284.3h0M1735.9,285.6h0M1752.3,280.8h0M1760.2,289.6h0M1767.7,283.9h0M1766.6,292h0M1752.3,272.2h0M1757.7,265.6h0M1765.8,279.2h0M1806,280h0M1797.5,254.7h0M1765.3,285.1h0M1768.8,281.9h0M1796.9,291.7h0M1809,286.3h0M1768.3,229.8h0M1808.6,287.4h0M1757.8,276.1h0M1762.2,280.6h0M1798.9,290.3h0M1817.3,277.5h0M1808,283.9h0M1757.6,290.8h0M1739.3,286.8h0M1825.1,292.9h0M1797.2,289.9h0M1806.7,277.2h0M1761.1,284.5h0M1770.3,278.4h0M1754.2,282.4h0M1812.9,291.4h0M1761.3,242.6h0M1765.5,288.2h0M1806.3,292.9h0M1807.3,283.2h0M1743.5,264.5h0M1740.8,285.1h0M1755.1,285.5h0M1799.8,243.4h0M1802.4,285.9h0M1766,288.7h0M1764.7,288.3h0M1755.8,289.2h0M1799.8,274.5h0M1763.4,240.4h0M1753.5,248.9h0M1820.8,292.4h0M1765.7,269.2h0M1803.5,229.9h0M1834.3,290h0M1813.8,284.1h0M1769.6,290.8h0M1767.9,257.2h0M1805.2,276.7h0M1741.1,289.2h0M1737.4,286.8h0M1812.7,274.2h0M1757.3,287.4h0M1753.4,273h0M1809.1,285.2h0M1757.7,270.9h0M1807.5,257.8h0M1768.7,272.4h0M1765.7,283.9h0M1764.8,274.1h0M1800.1,270.8h0M1763.6,265.2h0M1802.7,283h0M1799.5,273.9h0M1751.7,292h0M1757.3,290.2h0M1809.6,246.7h0M1817.4,275.7h0M1768.4,258.9h0M1804.9,234.5h0M1805.1,293.5h0M1766.9,289.5h0M1818.9,280.1h0M1801.3,293h0M1770,284.1h0M1768.9,286.2h0M1752.2,259.1h0M1800.2,248.4h0M1830,287.7h0M1800.7,291h0M1759.6,240.2h0M1808.7,241.3h0M1799.4,288.4h0M1800.5,282.1h0M1763,281.3h0M1801.6,291.5h0M1760.4,285.5h0M1769.1,271h0M1816.1,279.4h0M1827.7,288.8h0M1806.6,286h0M1758.1,289.4h0M1765.7,279h0M1756.3,271.3h0M1759.6,270.7h0M1807.9,287.4h0M1745.8,265.8h0M1766.4,288.7h0M1807.5,273.6h0M1766.4,291.2h0M1803.6,250.8h0M1804.2,254h0M1803.2,280.5h0M1750.4,291.1h0M1762.1,290.3h0M1764.7,279.4h0M1813.5,276h0M1746.4,283.9h0M1825.4,280.2h0M1828,272.7h0M1768.2,288.2h0M1757.4,293.3h0M1812.9,280.9h0M1767.2,281.2h0M1747.4,283.3h0M1765.4,268.4h0M1754.3,293h0M1744.3,286.5h0M1822,285.5h0M1799.9,264.4h0M1763,293h0M1754.8,289.1h0M1802,282.4h0M1762.2,275h0M1831.2,287.9h0M1766.3,251.7h0M1806.3,269.7h0M1811.8,255.1h0M1761.5,257.1h0M1769.7,226.3h0M1769.2,255.8h0M1769,293.5h0M1766.4,277.4h0M1767.9,271.1h0M1818.7,292h0M1798.4,283h0M1825.5,293.5h0M1811.3,291.5h0M1768.4,286.5h0M1814.6,290.8h0M1747.9,290.1h0M1807.8,286.7h0M1809.6,284.8h0M1763.3,293h0M1758.8,263.9h0M1766.9,293.3h0M1802.7,293.6h0M1769.5,277.8h0M1798.1,285.8h0M1806.3,284.7h0M1753.9,274.2h0M1804.1,288.8h0M1747.4,290.1h0M1801.4,232.5h0M1797.9,282.2h0M1826.7,289.4h0M1760.1,288.7h0M1798.7,218.2h0M1768.8,264.5h0M1798.1,268.2h0M1757,274.3h0M1758.9,272.3h0M1797,279.7h0M1797.9,283h0M1765.1,252.3h0M1762,256.1h0M1759.9,286.2h0M1796.7,289.2h0M1747.2,288h0M1814.7,274.1h0M1770,286.9h0M1760.9,282.6h0M1751.3,290.6h0M1767.8,227.1h0M1762.2,284.6h0M1766,287.8h0M1768.8,290.7h0M1798.8,276.9h0M1751.8,286h0M1798,285.6h0M1805.1,293.3h0M1798.6,292.4h0M1763.8,288.4h0M1755.4,279h0M1802.1,272h0M1809.7,288.7h0M1762.7,288.9h0M1765.3,247.7h0M1804.4,274.8h0M1764.5,293.5h0M1764.5,290.5h0M1798,273h0M1753.5,273.2h0M1797.2,252.2h0M1766.2,287.9h0M1765.4,277.4h0M1766.2,288.2h0M1803.9,281.7h0M1812.1,292.1h0M1811.4,287h0M1798.9,293.6h0M1809.4,273.1h0M1818.9,286.6h0M1760.8,279.6h0M1760.5,251.7h0M1796.8,291.6h0M1759.2,291.5h0M1801.7,293.4h0M1766.6,260.4h0M1768.7,254.8h0M1796.9,287.8h0M1818.8,282.3h0M1767.7,263.4h0M1807.5,255.6h0M1749,277.9h0M1761.6,271.6h0M1766.4,292h0M1733.1,282.7h0M1741.2,292.5h0M1812.1,267.3h0M1819.7,287.9h0M1813.4,289.3h0M1799.1,208.6h0M1759.3,228.7h0M1763.1,286.3h0M1769.8,292.6h0M1813,289.4h0M1813.6,279.5h0M1798.7,287.1h0M1759.6,292.6h0M1769.1,278.1h0M1767,280.4h0M1769.1,287.1h0M1804.2,281.8h0M1797.2,269.3h0M1802.3,293.4h0M1799.4,282.5h0M1799.7,291.4h0M1804.6,275.8h0M1748.9,258.9h0M1757.2,276.7h0M1750.8,289.2h0M1760.1,261.7h0M1766.2,283.4h0M1816.5,258.9h0M1810.8,272.9h0M1758.5,253.1h0M1754.9,242.2h0M1797.3,287.2h0M1758.7,251.5h0M1766.8,278.7h0M1759.5,251.1h0M1809.4,290.4h0M1796.8,283.5h0M1801.3,271.9h0M1807.5,292.7h0M1826.2,283.1h0M1796.7,270h0M1798.3,291.9h0M1797.3,281.4h0M1769,285.3h0M1799.5,289.9h0M1768.6,220.3h0M1809.9,272.6h0M1753.6,291.2h0M1797.9,290.9h0M1798,245.1h0M1766.1,293.7h0M1810.5,287.1h0M1767,286.5h0M1738.1,290.4h0M1755.7,283h0M1749.6,260.2h0M1806.5,264.2h0M1768.9,290.4h0M1768.9,278h0M1797.1,248.3h0M1805.3,271.5h0M1796.5,292.6h0M1804.9,282.4h0M1760,284.9h0M1767.8,289.8h0M1813.8,266.8h0M1798.4,291.6h0M1769,284.8h0M1801,289.3h0M1799.6,230h0M1765.5,276.9h0M1804.8,293.2h0M1754.9,271.4h0M1803.5,289.6h0M1806.6,271.6h0M1768.1,256.7h0M1765.2,269.7h0M1820.1,142.8h0M1743.8,150.1h0M1761.7,188.8h0M1765.4,198.4h0M1734,199.9h0M1805.1,183h0M1816.3,190.2h0M1678.7,230.4h0M1695.1,243.4h0M1704.9,246.8h0M1717.6,237.1h0M1724.3,233.7h0M1745.3,217.8h0M1753.5,224.1h0M1815.6,218.3h0M1838,224.1h0M1837.3,234.7h0M1829.8,234.7h0M1834.3,249.7h0M1852.2,256.5h0M1846.2,260.3h0M1843.2,263.7h0M1841.7,270h0M1849.2,269h0M1889.6,294.2h0M1729.5,282.1h0M1731.8,266.1h0M1718.3,263.7h0M1723.6,253.1h0M1731,249.7h0M1633.8,158.8h0M1633.8,205.7h0M1633.8,266.1h0M1633.8,282.6h0M1633.8,293.2h0M1933,175.7h0M1933,190.2h0M1933,209.6h0M1933,243.4h0M1933,248.2h0M1933,250.7h0M1933,257.9h0M1933,262.8h0M1933,269h0M1933,278.7h0M1933,283.6h0M1933,286.9h0M1933,290.3h0M1933,293.2h0" fill="none" stroke="#6ABD45" stroke-width="3.9" stroke-linecap="round"/>
<path d="M1838.4,306h0M1806,318h0M1766.3,298.3h0M1840,307.3h0M1807.3,324.9h0M1805.4,301.6h0M1760.2,331.3h0M1732,319.6h0M1861.1,314.1h0M1812.9,336.4h0M1756.1,327.8h0M1818,307.3h0M1761.5,332.2h0M1760.3,303.2h0M1797.9,314.8h0M1828.9,318.9h0M1839.7,325.2h0M1811.9,312.6h0M1759.3,305.4h0M1802.2,327.2h0M1738.6,311.5h0M1769,322h0M1767.7,312h0M1730.8,333.4h0M1761.4,345h0M1765.1,345.5h0M1809.6,300h0M1808.8,309.7h0M1852.7,312.1h0M1761,331.1h0M1766.5,321.8h0M1763.4,317.6h0M1828.2,337.3h0M1798.5,345.9h0M1761.2,321.2h0M1824.5,327.8h0M1751,304.4h0M1765.3,328h0M1802.4,344.4h0M1765.2,333.7h0M1766.8,328.3h0M1826.9,340.1h0M1797.2,320.1h0M1754.9,319.3h0M1767.6,323.3h0M1854.3,319.6h0M1809.3,332.1h0M1761.7,315.2h0M1766.9,302.1h0M1805.9,298.6h0M1814.3,314h0M1806.8,337.3h0M1856.5,316.7h0M1798,343h0M1823.2,338h0M1818.9,317.8h0M1762.2,305h0M1812.6,321.1h0M1766.4,340.8h0M1754.3,326.3h0M1798,339.6h0M1801.3,328.3h0M1767.5,326.1h0M1803.6,303h0M1769.2,306h0M1724.3,308.9h0M1740.9,317.7h0M1812.7,334.7h0M1759.8,328.4h0M1797.7,318.7h0M1748.9,309.5h0M1761.5,339.9h0M1817.3,324.3h0M1755.1,341h0M1808.4,331h0M1764.9,345.7h0M1754.5,325.1h0M1765.6,321.7h0M1765.6,322h0M1760.2,320.6h0M1764.2,318.9h0M1860.5,322.5h0M1828.2,312.2h0M1831,321.1h0M1802.6,335.5h0M1806.3,344.2h0M1820.6,306.2h0M1754.8,336.5h0M1811.6,305.3h0M1763.8,333.3h0M1799.5,298.6h0M1761.6,310h0M1825.4,318.5h0M1807.6,341.4h0M1804.8,335.1h0M1753,326.4h0M1768.9,338.5h0M1757.9,304.9h0M1736.5,327.7h0M1734.8,302.2h0M1762,313.9h0M1747.4,309h0M1758.2,306.1h0M1762.5,335.1h0M1766.4,343.9h0M1823.5,328.3h0M1826.7,330h0M1768,298.3h0M1797.3,325.9h0M1804.5,332.3h0M1750.6,309.7h0M1768,307.1h0M1759.5,321.1h0M1752,324.2h0M1750.2,312.6h0M1751.2,332.1h0M1768.3,322.5h0M1767.2,325.7h0M1824.2,307.7h0M1767.9,331.7h0M1808.5,307.7h0M1765.3,328.2h0M1753.7,333.3h0M1768.9,319.8h0M1754.5,321.3h0M1767.7,342.8h0M1821.9,324.9h0M1803.8,337.9h0M1826,307.9h0M1805.9,334.6h0M1760.8,331h0M1769.4,341.9h0M1819,304.2h0M1851.4,326.4h0M1764,306.2h0M1810.8,342.2h0M1817.9,308.1h0M1806.7,317h0M1751.6,338.9h0M1811.9,339.2h0M1805.1,342.6h0M1817.4,336.7h0M1800.8,298.7h0M1744.8,321.1h0M1759.8,337.7h0M1802.6,343.3h0M1757.2,343.6h0M1762.4,316.4h0M1804.8,326.7h0M1813.7,333.1h0M1769,305.7h0M1748.1,313.2h0M1765,304.6h0M1804.6,327.9h0M1843.2,337.2h0M1749.3,333.5h0M1753.9,335.2h0M1751.1,324.9h0M1768.2,298.2h0M1842.4,333.5h0M1825.1,327.2h0M1758.2,309.4h0M1766.1,338.5h0M1768.4,347.1h0M1752.1,312.2h0M1800.7,330.5h0M1807.3,310h0M1740.2,339.7h0M1799.5,336.2h0M1800.8,339.9h0M1767,297.6h0M1810.5,320.1h0M1764,310.2h0M1752.2,339.3h0M1756.1,297.1h0M1797.9,329.4h0M1819.4,325.8h0M1746.4,310.3h0M1753.9,305.9h0M1769,305.2h0M1738.8,336.1h0M1811.1,323.7h0M1747.8,324.9h0M1769.6,326.3h0M1814.5,330.1h0M1823.1,340h0M1762.5,303.6h0M1831.5,331.2h0M1815.9,329.9h0M1803.6,336h0M1802.3,342.5h0M1768.8,317.5h0M1818.9,338.5h0M1760.4,341.2h0M1766.9,322h0M1761.3,322.3h0M1762.7,302.9h0M1761.7,340.2h0M1769.3,339.7h0M1761.5,319.3h0M1851,311.7h0M1748.7,334.1h0M1751.5,317.6h0M1800.4,335.6h0M1769.1,343.3h0M1802.1,311.3h0M1800.1,344h0M1760.4,327h0M1801,338.7h0M1823.8,324.1h0M1763.1,331.3h0M1804.8,335.8h0M1857.2,326.9h0M1835.5,312.3h0M1812.6,321.8h0M1767.3,308.6h0M1734.5,303.7h0M1766.9,328.2h0M1764.5,305.1h0M1765.5,333.8h0M1764.8,306.3h0M1739.3,310.6h0M1823,308.2h0M1841.4,313.8h0M1811.3,313.1h0M1759.8,308.9h0M1815.2,318.6h0M1804,340.5h0M1797.4,306.2h0M1759.9,337.6h0M1765.9,330.9h0M1747.8,305.4h0M1821.2,322.1h0M1824.4,316.2h0M1823.6,332.3h0M1758.6,342.9h0M1802,305.5h0M1800,318.6h0M1764.5,321h0M1733.9,331.2h0M1756.7,298.9h0M1798.7,328.8h0M1758.8,328.2h0M1799.4,328.9h0M1803.3,305.4h0M1751.8,319.6h0M1821.8,337.8h0M1805.4,344.2h0M1766.9,334.1h0M1757.4,317.4h0M1754.5,332.9h0M1852.7,328.2h0M1750.1,323.6h0M1740.9,320.2h0M1814.9,315.5h0M1799.6,311.7h0M1763.5,334.3h0M1767.8,332.5h0M1818,324.3h0M1762.2,320.3h0M1803.6,332.8h0M1765.2,329.1h0M1761.4,305.7h0M1801.5,307.1h0M1763.3,315h0M1802.9,345.6h0M1768.5,340.2h0M1838.7,328.1h0M1805.8,329.3h0M1751,336.9h0M1757.4,334.9h0M1808.2,332.5h0M1740,329.5h0M1798,303.5h0M1804.1,327.8h0M1756.4,322.6h0M1769.5,316h0M1762.4,318.1h0M1755.5,297.1h0M1745.5,335.4h0M1769,344.9h0M1766.8,332.7h0M1757.8,338.8h0M1803.1,322.9h0M1769,345.2h0M1754,316h0M1804.5,339.8h0M1804.2,341.5h0M1747.7,305.9h0M1814,332.4h0M1768.1,321.5h0M1752.4,335h0M1798.6,316.1h0M1810.2,313.7h0M1765.4,316.8h0M1804.9,314.5h0M1766.2,343.9h0M1746.7,337h0M1823.7,302.9h0M1799.5,334.3h0M1769.4,344.8h0M1834.2,319.9h0M1807,335.4h0M1832.8,317.6h0M1798.5,301.9h0M1764.9,319.3h0M1756,307.3h0M1808.3,334h0M1803.1,343.9h0M1757.1,334.6h0M1767.7,315.1h0M1767.7,330h0M1831.6,336.9h0M1806.5,334.5h0M1833.3,326.2h0M1769.2,340h0M1769.1,346.3h0M1767.8,323.9h0M1761.6,331.3h0M1767.7,341.7h0M1799.3,298.4h0M1760.2,325.2h0M1798.2,315.4h0M1816,302.9h0M1748.6,304.7h0M1801.5,329.1h0M1811.7,316.9h0M1798.7,297.8h0M1814.7,312.6h0M1797.5,313.1h0M1832.5,318.9h0M1816.6,328.1h0M1804.3,316.9h0M1820.4,305.8h0M1761.4,309.6h0M1763.5,310.5h0M1767.8,331.3h0M1761.5,331h0M1805.3,304.9h0M1765.6,341h0M1756.6,307.8h0M1805.4,330.9h0M1751.4,306.6h0M1797.3,328h0M1763.7,333h0M1762.7,323h0M1768.8,322.8h0M1763.4,343.2h0M1802.4,342.5h0M1803.4,330.2h0M1768.5,335.4h0M1760.2,339.7h0M1818.5,339.8h0M1828.1,329.1h0M1802.2,312.6h0M1768.8,341.3h0M1760.4,332.5h0M1814.5,341.8h0M1758.3,308.7h0M1763,302.3h0M1769.5,310.5h0M1769.2,307.1h0M1822.2,335.9h0M1840.4,335.4h0M1802.6,299.7h0M1753.5,315.9h0M1809.7,322.8h0M1765.2,311.1h0M1851.8,332.4h0M1826.8,310.5h0M1815.3,315.8h0M1765.4,329.2h0M1751.1,331.9h0M1839.6,331.7h0M1807.6,320.8h0M1797.7,297.1h0M1748.6,330.9h0M1769.5,337h0M1813.4,317.6h0M1763,327h0M1809.9,297.4h0M1768.8,304.9h0M1768.8,299.4h0M1857.4,299.8h0M1804.2,326.1h0M1764.2,313h0M1768.4,300.4h0M1748.5,342.1h0M1825,336.1h0M1809,329.6h0M1821.1,326.1h0M1744.7,339.7h0M1768.2,310.4h0M1757.4,319.6h0M1810,332.2h0M1822.2,323.8h0M1751.1,341.8h0M1818.9,316.1h0M1801.1,345h0M1768.2,318h0M1797.5,324.2h0M1804.6,333.4h0M1844.9,335.6h0M1760.3,333.9h0M1807.5,325.5h0M1813.8,317.2h0M1808.6,321.8h0M1804.3,302.1h0M1763.5,331h0M1764.7,345.1h0M1837.4,305.5h0M1816.6,341h0M1768.8,297h0M1802.5,326.2h0M1723.7,324.2h0M1809.7,299.3h0M1763.7,304.2h0M1764.4,340h0M1808.4,320.8h0M1767,319.5h0M1812,307.2h0M1768.9,328.7h0M1765.4,313.1h0M1823.5,340.8h0M1763.5,325.8h0M1832,299.8h0M1833.6,333.6h0M1767.4,342.2h0M1829.9,318.5h0M1797.5,325.9h0M1802.4,344.6h0M1769.6,346.1h0M1716.5,319.5h0M1760.5,330.1h0M1804,332.7h0M1755.1,341.2h0M1801.9,342.9h0M1797.2,307.8h0M1764.7,325h0M1806.2,343.6h0M1800,330.9h0M1764.9,321.7h0M1801.8,329.1h0M1762,304.1h0M1802.9,337h0M1757.8,324.8h0M1808.5,342.9h0M1758.1,312h0M1803.5,344.6h0M1754.6,327h0M1807.1,340.6h0M1766.4,340.8h0M1764.1,302.7h0M1769.5,322.2h0M1763.9,302.7h0M1858.7,332h0M1762.2,339.1h0M1763,336.6h0M1767.1,329.4h0M1810.6,331.6h0M1750,311.9h0M1764.1,311.9h0M1810.1,335h0M1813.2,316h0M1810.3,325h0M1819.3,333.2h0M1843.6,310.3h0M1765.9,343.8h0M1769,318.4h0M1826,321.1h0M1817.7,318.2h0M1808,330.3h0M1767,336.6h0M1799,333.8h0M1766.3,319.2h0M1804.9,344.3h0M1768.8,332.3h0M1805.6,302.8h0M1766.1,339.1h0M1765.9,323.3h0M1767.6,308h0M1761.5,318.6h0M1799.4,328.3h0M1763.2,309.3h0M1767.9,334h0M1766.9,324.7h0M1803.9,322.7h0M1805.1,316.2h0M1806.7,321h0M1817.1,324.1h0M1766.4,326.4h0M1758.8,344h0M1763.6,336.1h0M1800.4,319.3h0M1769.5,333.1h0M1802.9,323.3h0M1758.4,327.7h0M1837.5,319.2h0M1807.3,340.6h0M1741.9,303.6h0M1800.3,314.7h0M1829.6,320.3h0M1766.7,333.8h0M1763.9,328.4h0M1767.5,305.1h0M1814.5,339.4h0M1809,328.9h0M1758.9,309h0M1753,325.9h0M1769.6,312.8h0M1837.7,305.2h0M1759.6,324.9h0M1802.3,315.5h0M1769.4,322.4h0M1799.3,345.3h0M1807.6,334.1h0M1797.5,330.4h0M1797.7,297.8h0M1762.2,317.9h0M1805.8,309.3h0M1800.8,313.6h0M1821.2,319.5h0M1767.8,311.3h0M1801.6,323.2h0M1766.7,335.5h0M1744.6,333h0M1836,332.5h0M1746.9,340.8h0M1820.9,333.1h0M1798.5,332.6h0M1751.4,315.8h0M1723.6,330.3h0M1768.3,332.1h0M1803,338.2h0M1747.8,316.1h0M1736.8,322.5h0M1760.6,321.3h0M1769.2,310.5h0M1803,338.5h0M1765.4,330.2h0M1767.7,346.1h0M1824.9,319.1h0M1797.2,329h0M1751.9,326.2h0M1799.6,342.1h0M1811.3,307.7h0M1766.9,327.8h0M1738.8,315.4h0M1818,316.3h0M1811.2,328.2h0M1813.5,319.5h0M1797.2,309.3h0M1742.3,327.9h0M1807.7,317.9h0M1825.3,338.2h0M1806.5,334.8h0M1822.6,337.8h0M1768.4,302h0M1760.4,327.2h0M1767.8,307.4h0M1766.6,316h0M1804.7,326.7h0M1804.6,313.9h0M1798.7,343.4h0M1758.3,339.6h0M1814.9,308.6h0M1769.1,326.7h0M1755.8,333.5h0M1804.9,337.1h0M1766.8,334.8h0M1768,314.1h0M1797.4,334.7h0M1804.1,308.1h0M1765.1,325.1h0M1797.6,307.3h0M1758.2,318.3h0M1748.1,333.1h0M1812.2,332h0M1767.8,327.8h0M1745.2,320h0M1734.8,310.3h0M1825.7,330.7h0M1826.1,320.9h0M1756.8,334.5h0M1804.7,336.9h0M1758.6,332.9h0M1845.8,318.5h0M1759.1,338.3h0M1763.6,326h0M1764.5,317h0M1765.6,326.2h0M1747.4,322.8h0M1762.3,296.8h0M1811.9,343.4h0M1803.5,308.5h0M1798,298.9h0M1741.7,328.5h0M1821.4,336h0M1816.6,330.2h0M1763.7,333.1h0M1762.3,299.3h0M1817.8,340.2h0M1811.7,335h0M1768.8,346h0M1753.2,343h0M1843.2,325.7h0M1804.1,309.2h0M1767.5,327.9h0M1761.4,305.6h0M1708.2,330.9h0M1799.5,316.2h0M1809.8,325.4h0M1832.4,318.3h0M1763.4,341.7h0M1799,336.4h0M1806.8,340.5h0M1848.6,324.4h0M1798.2,320.3h0M1817.1,320.4h0M1800.9,344.7h0M1766.4,322.6h0M1759.3,303.5h0M1764.7,334.1h0M1768.5,308.7h0M1768.3,311.6h0M1801.8,316.2h0M1767.2,323.5h0M1829,337.8h0M1767.7,317.7h0M1763,304.3h0M1807.8,329.2h0M1767.7,335h0M1799.8,334h0M1755.8,323.7h0M1768,333.2h0M1800,341.2h0M1768.6,341.8h0M1799.2,321.3h0M1764.8,313.1h0M1729,301.5h0M1769,346.7h0M1769.1,335.9h0M1799.6,326.6h0M1799.9,331.2h0M1830.5,333.1h0M1807.7,343.5h0M1822.3,310.8h0M1766.9,297.3h0M1755.6,307.6h0M1798.2,321.9h0M1832.3,324.1h0M1753.1,330.4h0M1827.6,317.5h0M1750.4,336.5h0M1799.3,309.4h0M1763.2,300.3h0M1827.9,325.3h0M1835.4,326.5h0M1754.5,330.1h0M1804.8,341.9h0M1761.9,328.9h0M1763.3,312.3h0M1766.6,339.8h0M1757.8,336.4h0M1753.2,338.2h0M1761.7,301.5h0M1797.8,327.6h0M1815,297.8h0M1763.8,298.3h0M1836.4,320.6h0M1809.5,303.9h0M1768.7,307.2h0M1828.4,299h0M1765.9,345.1h0M1801.1,309.7h0M1766,299.8h0M1767.3,346.8h0M1768.7,335.4h0M1802.5,312.5h0M1768.9,332h0M1810.2,326.7h0M1767.6,303.7h0M1798.2,325.2h0M1814.3,325.8h0M1768.9,302h0M1824.2,333.6h0M1760.5,323.1h0M1766.3,320.9h0M1798.1,327.5h0M1817.6,300h0M1763.5,334h0M1769.3,345.8h0M1829.5,314.2h0M1801.5,345.9h0M1769.6,312.5h0M1799.7,328.2h0M1750.4,328.3h0M1835,323.9h0M1760.3,323.3h0M1765,316.1h0M1803.1,318.4h0M1801.9,344.3h0M1756.1,343.9h0M1806.1,342.4h0M1807.9,311h0M1820.4,329.6h0M1765.9,334.4h0M1747.7,314.2h0M1769.4,326.5h0M1756.3,316.2h0M1806.1,338.6h0M1751.5,326.2h0M1761.9,337.6h0M1769.3,347.6h0M1801.7,346.4h0M1753.5,318.9h0M1724.5,331.1h0M1828.5,322.9h0M1801.4,336.8h0M1761.3,310.4h0M1805,302h0M1758.5,322h0M1826.5,326.5h0M1807.2,318.8h0M1805,307.1h0M1754.4,320.9h0M1831.2,327.2h0M1750,311.1h0M1744.6,338h0M1802.5,335.4h0M1822.7,330.1h0M1769.4,331.5h0M1852.3,332.8h0M1765.3,323.6h0M1767.1,332.3h0M1834.1,334.2h0M1808.8,327h0M1767.5,337.1h0M1753.6,300.7h0M1799.3,314.2h0M1804,339h0M1803.6,342.4h0M1840.6,322.5h0M1753.6,327h0M1799.7,301.4h0M1762.1,298.6h0M1762.5,331.1h0M1799.2,334.6h0M1761.8,323.9h0M1806,331.3h0M1810.8,319.6h0M1745.6,312.6h0M1805.4,330.5h0M1762.7,329.4h0M1804.1,320.9h0M1756.9,339.9h0M1768.1,328.4h0M1747.4,297.4h0M1824.5,318h0M1755.4,298.5h0M1809.2,315h0M1764.6,326.6h0M1759.4,342.1h0M1760.2,307.9h0M1803.7,327.6h0M1841.2,329.7h0M1806.3,312.6h0M1762.1,310.1h0M1768.1,343.2h0M1768.7,311.8h0M1767.4,302.1h0M1766.7,318.5h0M1766.1,342.1h0M1800.4,322.3h0M1761.2,335.3h0M1806.1,343.3h0M1750.7,322.1h0M1811.2,309.5h0M1852.5,328.4h0M1763.9,312.2h0M1731.3,314.4h0M1767.2,336.5h0M1810.6,309.7h0M1755.5,329.4h0M1748.3,306h0M1823.1,335.6h0M1813.7,334.9h0M1797.9,303.4h0M1797.5,321.7h0M1766,320.7h0M1798.5,304.8h0M1757.8,330.3h0M1764.7,316.3h0M1741.1,316.8h0M1758.1,324.8h0M1825.9,339.9h0M1802.5,323h0M1799.7,323h0M1746.4,312.6h0M1817.9,333.2h0M1852.6,311.8h0M1810.3,327h0M1762,310.4h0M1810.2,338.2h0M1800.2,302.2h0M1767.8,340.1h0M1814.7,297.3h0M1808.6,340h0M1815.9,320h0M1767.4,334.2h0M1767.1,336.1h0M1747.9,334.2h0M1769.2,346.7h0M1728.6,333.7h0M1817.9,335.4h0M1765.2,303.2h0M1765.9,315.4h0M1767,326.1h0M1735.7,337.8h0M1764.6,307.9h0M1765.6,315.2h0M1816.7,329.7h0M1750.9,327.8h0M1745.9,311.5h0M1762.3,322.5h0M1769,329.7h0M1806.4,325.1h0M1741.3,335.2h0M1803.7,319.3h0M1745.3,313.5h0M1810.9,326.4h0M1755.6,308.5h0M1800.4,319.4h0M1798.1,309h0M1765.5,307.2h0M1804.8,315.8h0M1821.1,323.9h0M1798.7,337.2h0M1759.2,341.8h0M1802.7,305.1h0M1746.7,305.6h0M1799.8,323.4h0M1819.9,319.7h0M1761.8,320.4h0M1807.6,330.3h0M1764.7,334.7h0M1769.6,327h0M1769.1,318h0M1765.7,341.4h0M1758.6,314.3h0M1738.5,337.1h0M1748.5,331.4h0M1767.3,336.7h0M1766.9,347h0M1811.6,310.9h0M1802.5,338.4h0M1827.7,335h0M1801.5,343.5h0M1798.2,330.4h0M1828.1,325.1h0M1759.3,301.4h0M1827.8,338.3h0M1832.7,334.4h0M1762.8,310.3h0M1750.2,324.4h0M1798.6,333.7h0M1757.4,323h0M1756.2,322.2h0M1769.5,309.4h0M1799.9,326.4h0M1851.4,325.5h0M1820.1,338.1h0M1825.2,300.2h0M1814.8,312.6h0M1814,320h0M1813.5,331h0M1817.3,317.7h0M1748.3,322.1h0M1753.2,304.8h0M1737.6,317.9h0M1813.6,338.8h0M1746.9,314.4h0M1750.6,301.6h0M1750,339.6h0M1818.2,336.7h0M1840.5,323.4h0M1817.6,334.1h0M1814.9,323.4h0M1829,316.1h0M1750.7,315.8h0M1816.7,300.6h0M1819,338.1h0M1824.6,320.2h0M1815.3,336.8h0M1814.3,303.4h0M1831,320.8h0M1752.1,300.2h0M1744.4,308.6h0M1814.2,341.8h0M1750.5,323.9h0M1834.2,322.1h0M1840.5,310.2h0M1816.5,299.8h0M1822.4,338.6h0M1741.8,338.6h0M1748.9,322h0M1828.5,332.9h0M1749.2,323.9h0M1747.9,313.8h0M1817.9,315.6h0M1826.5,335.8h0M1826.4,318h0M1821.6,313.8h0M1751.1,341.5h0M1816.1,330h0M1818.7,301.3h0M1818.5,341.7h0M1815.3,322.2h0M1813.7,300.2h0M1837.1,322.3h0M1751.2,309h0M1747.9,319.3h0M1814.5,327h0M1822.4,310.3h0M1814,302.6h0M1826.9,321.6h0M1743.7,337h0M1823.3,309.3h0M1750.7,339.1h0M1813.8,309.7h0M1814,305.8h0M1749.8,308.2h0M1831.4,319.1h0M1748.9,305.3h0M1752.5,310h0M1839,333.9h0M1814.5,304.3h0M1745.8,323.7h0M1816.1,303.4h0M1750.8,330.6h0M1819.9,306.4h0M1814.6,327.4h0M1748.7,325.1h0M1738.9,329.3h0M1813.7,304.6h0M1743.8,336.7h0M1813.9,307.5h0M1752.8,299h0M1743,324.9h0M1826.6,308.8h0M1742.8,333.9h0M1746.8,330.9h0M1815.6,307h0M1753.2,298.5h0M1816.4,320h0M1815.2,329.9h0M1824.6,330.4h0M1825.1,307.7h0M1743.8,330.1h0M1816.1,325h0M1746.3,302.2h0M1747.2,334.9h0M1747.1,299.7h0M1816.1,318.1h0M1815.2,301.7h0M1743.3,318.7h0M1735.9,328.8h0M1744,328.3h0M1752.6,306.3h0M1835.6,300.1h0M1746.5,307.6h0M1746,321h0M1746.9,310.5h0M1736,304.6h0M1752.8,307.6h0M1749.4,309.2h0M1816.9,300.5h0M1832,299.3h0M1817.6,321.4h0M1816,310.1h0M1744.9,305.3h0M1752.3,325.7h0M1817.8,325.3h0M1822.6,334.6h0M1749.9,335.1h0M1816.5,313.7h0M1814.5,300.7h0M1748.4,299.2h0M1821.5,328.2h0M1816.5,331.9h0M1813.5,304.1h0M1748.9,314.9h0M1818.9,313.3h0M1734.6,331.1h0M1818.2,337.3h0M1813.7,321.1h0M1819.9,311.9h0M1753.3,324.2h0M1753.4,325.8h0M1745.8,332.4h0M1742.2,318.8h0M1824.1,331h0M1744.1,319.4h0M1828.5,332.3h0M1813.4,302h0M1749.8,332.6h0M1825.7,327.4h0M1748.7,341.4h0M1820.9,312.2h0M1826,330h0M1841.8,306.2h0M1748.1,305h0M1752.7,313.6h0M1814.9,338.9h0M1819.4,308.4h0M1818.9,334.3h0M1817.1,329.4h0M1751.8,314.9h0M1747.8,303h0M1752.2,335.9h0M1820.5,318.2h0M1740.5,312.4h0M1832.5,316.8h0M1815,324.9h0M1823,324.4h0M1750.4,322.6h0M1752.4,297.7h0M1814,303h0M1751.5,330.2h0M1814.2,324.8h0M1822.5,302.9h0M1815.8,317.9h0M1820.6,322.6h0M1752,320.7h0M1735.1,300.1h0M1830,330.6h0M1815.9,337.6h0M1752.3,335.4h0M1753.4,302.9h0M1739.8,323.7h0M1823.2,309.1h0M1829.9,332.3h0M1832.6,327.3h0M1745.2,315.3h0M1823,304.9h0M1745.3,327.3h0M1833.5,337.5h0M1750.3,325.2h0M1739.6,298.1h0M1738.8,308.1h0M1814.7,310.1h0M1823.2,322.7h0M1746.2,320h0M1820.3,304.8h0M1829.4,313.5h0M1751.8,330.2h0M1817.2,299.8h0M1818.7,317.6h0M1814.1,324.8h0M1750.5,312.3h0M1830.1,336.1h0M1751.9,308.8h0M1749.6,306h0M1813.9,340.3h0M1738.3,317.5h0M1734.8,323.3h0M1744.7,326.8h0M1739.9,335.6h0M1819.5,298.5h0M1817.3,302.2h0M1813.6,329.5h0M1817.9,316.4h0M1821,321.3h0M1753,330.5h0M1752.7,333h0M1749.8,316h0M1752.9,309.2h0M1836.5,330.3h0M1736,327.5h0M1739.2,324.9h0M1743.3,307.7h0M1823.4,338.7h0M1752.7,332.7h0M1818.6,307.5h0M1824.7,314.4h0M1820.7,318h0M1744.6,322.5h0M1816,322.4h0M1819.7,338h0M1822.7,302.8h0M1746.2,323.3h0M1749.7,339.1h0M1831.4,335.8h0M1742.4,299h0M1830.5,338.9h0M1814.4,298.6h0M1748,312.5h0M1741.5,332.2h0M1752.2,315.4h0M1818.6,304.2h0M1814.9,338.6h0M1815,311.4h0M1742.9,319.6h0M1752.1,342.1h0M1747.8,317.3h0M1836.6,335.5h0M1817.1,330.8h0M1823,336.2h0M1814,318.4h0M1752.2,334.2h0M1745.6,322.6h0M1824,305.6h0M1745.5,305.3h0M1813.5,319.1h0M1821.9,332.1h0M1752.4,300.8h0M1752.5,330h0M1818.1,326.6h0M1749.1,303.3h0M1749.9,340.3h0M1818,326.5h0M1743.8,311h0M1838.7,331.8h0M1751.9,301.6h0M1816.2,306.4h0M1740.3,334.8h0M1747.9,309.5h0M1750.6,331h0M1742.9,299.8h0M1828.6,329.4h0M1751.7,329.4h0M1740,323.9h0M1823.1,323h0M1735,338.2h0M1751.2,331.7h0M1831.6,328.7h0M1815.6,333.4h0M1752.1,297.9h0M1752.2,327h0M1769.6,346.5h0M1767.9,345h0M1766.8,346.3h0M1765.3,344h0M1763.6,344.5h0M1762.1,345h0M1760.8,344.1h0M1759.2,344.4h0M1757.8,342.7h0M1756.5,343h0M1755.4,341.3h0M1753.7,341.1h0M1752.5,342.1h0M1751.1,341h0M1749.4,341.8h0M1747.9,340.9h0M1746.7,340h0M1745.6,341h0M1744.4,339.9h0M1742.7,339.6h0M1741.4,339.9h0M1739.6,339.5h0M1738.1,338.6h0M1797.2,346h0M1798.8,346.6h0M1800.2,344.5h0M1801.9,344.2h0M1803.3,345h0M1804.5,344.1h0M1806.1,342.8h0M1807.3,343.3h0M1808.5,343.6h0M1809.7,342.4h0M1810.9,341.6h0M1812.3,342.5h0M1813.7,341.8h0M1814.9,342.4h0M1816.4,340.4h0M1817.5,340.6h0M1819.2,340.9h0M1820.5,340.3h0M1821.8,340.3h0M1822.8,340.3h0M1824.1,338.7h0M1825.3,338.6h0M1826.7,339.8h0M1827.9,339.4h0M1829.6,338.4h0M1830.8,338.7h0M1832.5,338.6h0M1834.2,337.7h0M1836,338.3h0M1837.5,337.6h0M1668.2,323.2h0M1671.9,337.7h0M1692.9,320.8h0M1695.1,339.2h0M1704.1,339.2h0M1708.6,337.7h0M1710.8,299h0M1716.1,306.3h0M1723.6,325.6h0M1725.1,307.2h0M1861.2,297.6h0M1866.4,302.9h0M1880.6,299h0M1878.4,303.9h0M1871.7,311.1h0M1876.2,313.5h0M1882.1,308.7h0M1888.1,306.3h0M1886.6,314.5h0M1883.6,319.3h0M1877.6,323.2h0M1858.2,313.5h0M1861.2,318.4h0M1862.7,328h0M1855.2,323.2h0M1858.2,339.2h0M1852.2,308.7h0M1853.7,298.1h0M1849.2,316h0M1850.7,330.5h0M1633.8,301.4h0M1633.8,306.3h0M1633.8,335.3h0M1633.8,339.2h0" fill="none" stroke="#3C54A4" stroke-width="3.9" stroke-linecap="round"/>
<path d="M1633.8,311.1 V330.5" stroke="#3C54A4" stroke-width="3.9" stroke-linecap="round"/>
<path d="M1933,297.1 V339.2" stroke="#3C54A4" stroke-width="3.9" stroke-linecap="round"/>
<path d="M1786,205.1h0M1788.8,206.7h0M1772.8,209.1h0M1778,209h0M1770.5,210.1h0M1793.8,210.8h0M1770.9,211.9h0M1770.7,212.7h0M1786.1,213.7h0M1789.9,214.1h0M1790.3,216h0M1773.6,215.3h0M1780.7,215.6h0M1782.2,217.1h0M1790.9,217.1h0M1772,217.2h0M1793.5,219.3h0M1790.1,219.6h0M1790.9,218.4h0M1793.9,219.3h0M1781.7,221.4h0M1784.1,220.6h0M1776.3,220.7h0M1775.9,221.2h0M1790.6,221.7h0M1792.9,222.5h0M1781.3,222.8h0M1773.9,221.9h0M1788.4,224h0M1776.8,224.5h0M1771.7,224.3h0M1795.1,224.4h0M1777.9,223.6h0M1775.1,225.1h0M1794.5,225h0M1787.8,226h0M1777.6,225.5h0M1795.4,226h0M1787.1,228.2h0M1790,226.9h0M1782.6,227.6h0M1777.4,227h0M1773.1,228.7h0M1773.5,229.1h0M1780.2,229.5h0M1784.8,229.2h0M1796.1,229.4h0M1783.7,230.5h0M1794.5,230.6h0M1782.8,231.1h0M1784.8,230.6h0M1781.1,230.4h0M1776.7,231.9h0M1770.2,232.5h0M1786.3,231.9h0M1792.4,232.1h0M1772.7,232.1h0M1790.5,233h0M1774.1,234.3h0M1789.2,234.6h0M1771.3,234.5h0M1783.6,234h0M1788.4,234.4h0M1793.1,234.5h0M1787.8,236.5h0M1774,235.8h0M1792.2,236.3h0M1783.6,236.5h0M1774,236.4h0M1788.1,235.9h0M1777.2,235.5h0M1788.5,237.5h0M1789.6,237.4h0M1772.6,237.6h0M1770.6,238.3h0M1777.3,237.9h0M1791.8,237.2h0M1776.8,239.7h0M1780.4,239.2h0M1792.9,238.9h0M1785,238.9h0M1770.3,239.3h0M1786.5,239.6h0M1770.6,238.8h0M1791.6,241.1h0M1795,241.1h0M1790.6,240.4h0M1779.7,240.3h0M1779.7,241.6h0M1771.5,241.2h0M1786.4,241.5h0M1776.8,243h0M1791.4,243h0M1780.1,243h0M1773.8,242.8h0M1785.9,242.1h0M1786.5,242.6h0M1783,243h0M1777.8,243.9h0M1770.5,244.1h0M1784.4,244.5h0M1774.4,244.4h0M1771.2,244h0M1788.6,244.5h0M1786.2,245h0M1794.6,245.5h0M1790.3,246.8h0M1788,246.6h0M1782.5,245.7h0M1783.3,246.6h0M1793.3,245.6h0M1786.8,246.6h0M1771.1,247h0M1795.9,247h0M1771.2,248.7h0M1795.6,248.7h0M1770.7,250.4h0M1795.6,250.4h0M1770.8,252.1h0M1795.6,252.1h0M1771.2,253.8h0M1795.8,253.8h0M1771.3,255.5h0M1795.9,255.5h0M1771.2,257.2h0M1795.6,257.2h0M1771.4,258.9h0M1795.8,258.9h0M1771.3,260.6h0M1795.7,260.6h0M1771.1,262.3h0M1795.2,262.3h0M1771.2,264h0M1795.3,264h0M1771.1,265.7h0M1795.7,265.7h0M1771.1,267.4h0M1795.7,267.4h0M1771.4,269h0M1795.3,269h0M1771.4,270.7h0M1795.7,270.7h0M1771.2,272.4h0M1795.3,272.4h0M1771.7,274.1h0M1795.7,274.1h0M1771.2,275.8h0M1795.6,275.8h0M1771.3,277.5h0M1795.6,277.5h0M1771.1,279.2h0M1795.2,279.2h0M1771.2,280.9h0M1795.2,280.9h0M1771.3,282.6h0M1795.1,282.6h0M1771.3,284.3h0M1795.2,284.3h0M1771.7,286h0M1795.4,286h0M1771.2,287.7h0M1795.1,287.7h0M1771.6,289.4h0M1795.4,289.4h0M1771.6,291h0M1795.2,291h0M1771.8,292.7h0M1795.6,292.7h0M1771.3,294.4h0M1795.6,294.4h0M1771.6,296.1h0M1795.6,296.1h0M1771.2,297.8h0M1795.3,297.8h0M1771.7,299.5h0M1795.3,299.5h0M1771.5,301.2h0M1795.4,301.2h0M1771.6,302.9h0M1795.1,302.9h0M1771.8,304.6h0M1795.2,304.6h0M1771.7,306.3h0M1795.4,306.3h0M1771.4,308h0M1795.1,308h0M1771.6,309.7h0M1795.2,309.7h0M1771.7,311.4h0M1795.6,311.4h0M1771.2,313.1h0M1795.4,313.1h0M1771.6,314.7h0M1795.4,314.7h0M1771.3,316.4h0M1795.3,316.4h0M1771.7,318.1h0M1795.4,318.1h0M1771.6,319.8h0M1795.5,319.8h0M1771.6,321.5h0M1795,321.5h0M1771.3,323.2h0M1795.2,323.2h0M1771.8,324.9h0M1795,324.9h0M1771.4,326.6h0M1795.1,326.6h0M1771.5,328.3h0M1795.1,328.3h0M1771.6,330h0M1795,330h0M1771.6,331.7h0M1795.5,331.7h0M1771.7,333.4h0M1795.2,333.4h0M1771.8,335.1h0M1795,335.1h0M1771.4,336.7h0M1795.2,336.7h0M1771.6,338.4h0M1795,338.4h0M1771.8,340.1h0M1795.3,340.1h0M1771.8,341.8h0M1795.2,341.8h0M1771.5,343.5h0M1795,343.5h0M1771.9,345.2h0M1795.3,345.2h0M1771.5,346.9h0M1795.4,346.9h0M1771.8,348.6h0M1794.9,348.6h0M1788.1,181.8h0M1790.4,193.4h0M1787.7,192.5h0M1788.9,197.1h0M1788.9,187.7h0M1789,204.9h0M1791.9,187.7h0M1791.8,180.4h0M1790.4,208.6h0M1790.1,180.2h0M1793.3,191.5h0M1789.1,205h0M1789.8,208.4h0M1791.7,181.6h0M1790.7,187.2h0M1792.3,188.6h0M1790.8,207.9h0M1790.6,192.5h0M1792.4,187.2h0M1788.8,187.3h0M1790.8,197.5h0M1788.3,208.3h0M1792.4,181.7h0M1789.3,178h0M1790.7,209.3h0M1788.9,187h0M1788.4,183.6h0M1791.4,192.3h0M1789.4,181.6h0M1793.4,208.1h0M1787.9,188.7h0M1787.9,196.3h0M1793.2,199.4h0M1789,205.7h0M1790.8,210.7h0M1794.9,227h0M1784.6,223h0M1791.1,223.7h0M1793.2,228.5h0M1793.1,214h0M1794.1,220.6h0M1786.3,227.4h0M1786.4,208.8h0M1788.5,228.6h0M1791.1,207.5h0M1791.5,214.9h0M1794.6,222.3h0M1794.8,235.8h0M1793.3,208.9h0M1787.9,207.4h0M1785.2,226.3h0M1785.8,231.6h0M1793,223.3h0M1789.2,208.4h0M1794.2,218.2h0M1787.2,235h0M1794.3,225.1h0M1792,221.5h0M1793.8,231.8h0M1786.7,221.3h0M1789.4,230.1h0M1790.3,228.2h0M1794.2,236.1h0M1793.5,227.1h0M1793,207.9h0M1793.5,213.8h0M1785.7,234.1h0M1791,222.1h0M1789.6,236.1h0M1790,231.1h0M1790.5,228h0M1789.7,234.3h0M1793.6,221.6h0M1791.1,224.4h0M1786.4,155.4h0M1790.9,155.9h0M1775.5,161.7h0M1775.9,163.6h0M1789.1,167.7h0M1781,170.9h0M1773.1,176.7h0M1794.6,190.2h0M1768.4,199.9h0" fill="none" stroke="#000" stroke-width="3.9" stroke-linecap="round"/>
<path d="M1777.4,354.2 L1789.4,354.2 L1787.9,356.3 L1783.4,358.5 L1778.9,356.3 Z" fill="#ED1C24" stroke="#ED1C24" stroke-width="1" stroke-linejoin="round"/>
<text x="1674.3" y="202.6" font-size="24.2" fill="#ED1C24" style="fill:#ED1C24">Erdr1</text>
<path d="M1700.7,207.5 L1680.1,225.5" stroke="#000" stroke-width="1.1"/>
</g>
<g id="volcano-3">
<path d="M1115.5,502.7 V820.2 H1470.6 V502.7" fill="none" stroke="#555" stroke-width="0.9"/>
<path d="M1115.5,518.5 h-5.6 M1115.5,566.9 h-5.6 M1115.5,615.2 h-5.6 M1115.5,663.6 h-5.6 M1115.5,711.9 h-5.6 M1115.5,760.3 h-5.6 M1115.5,808.7 h-5.6 M1144.3,820.2 v7 M1218.9,820.2 v7 M1293.5,820.2 v7 M1368.1,820.2 v7 M1442.7,820.2 v7 " fill="none" stroke="#444" stroke-width="0.9"/>
<text x="1098" y="528.7" text-anchor="end" font-size="28.6">0</text>
<text x="1098" y="577.1" text-anchor="end" font-size="28.6">1</text>
<text x="1098" y="625.4" text-anchor="end" font-size="28.6">2</text>
<text x="1098" y="673.8" text-anchor="end" font-size="28.6">3</text>
<text x="1098" y="722.1" text-anchor="end" font-size="28.6">4</text>
<text x="1098" y="770.5" text-anchor="end" font-size="28.6">5</text>
<text x="1098" y="818.9" text-anchor="end" font-size="28.6">6</text>
<text x="1144" y="860.4" text-anchor="middle">−10</text>
<text x="1218.6" y="860.4" text-anchor="middle">−5</text>
<text x="1293.5" y="860.4" text-anchor="middle">0</text>
<text x="1368.1" y="860.4" text-anchor="middle">5</text>
<text x="1442.7" y="860.4" text-anchor="middle">10</text>
<text x="1294" y="901.9" text-anchor="middle">Log2 (fold-change)</text>
<text x="1019.6" y="664.6" text-anchor="middle" font-size="29.3" transform="rotate(-90 1019.6 664.6)">Large intestine</text>
<text x="1053.6" y="664.6" text-anchor="middle" font-size="28.9" transform="rotate(-90 1053.6 664.6)">–Log10 (<tspan class="i">p</tspan> value)</text>
<text x="1130" y="544.9" font-size="25.1">Down in exGF</text>
<text x="1324.9" y="544.9" font-size="25.1">Up in GF</text>
<path d="M1142.9,561.8 L1159.8,553.3 V558.8 H1270.9 V564.8 H1159.8 V570.3 Z" fill="#ED1C24"/>
<path d="M1439.1,561.8 L1422.1,553.3 V558.8 H1311 V564.8 H1422.1 V570.3 Z" fill="#4472C4"/>
<polygon points="1281.1,746.8 1266.6,746.8 1266.6,796.2 1268.1,796.6 1269.5,797 1271,797.4 1272.4,797.8 1273.9,798.2 1275.3,798.6 1276.8,799.1 1278.2,799.5 1279.7,800 1281.1,800.5" fill="#3C54A4"/>
<polygon points="1281.1,746.8 1268.1,746.8 1281.1,707.1" fill="#6ABD45"/>
<polygon points="1305.9,746.8 1320.4,746.8 1320.4,796.2 1318.9,796.6 1317.5,797 1316,797.4 1314.6,797.8 1313.1,798.2 1311.7,798.6 1310.2,799.1 1308.8,799.5 1307.3,800 1305.9,800.5" fill="#3C54A4"/>
<polygon points="1305.9,746.8 1318.9,746.8 1305.9,707.1" fill="#6ABD45"/>
<polygon points="1287,668.4 1286.1,670.8 1285.3,673.3 1284.6,675.7 1283.9,678.1 1283.2,680.5 1282.5,682.9 1282.1,685.3 1281.7,687.8 1281.2,690.2 1280.8,692.6 1280.6,695 1280.6,697.4 1280.7,699.8 1280.7,702.3 1280.8,704.7 1280.8,707.1 1280.9,709.5 1280.9,711.9 1280.9,714.4 1280.9,716.8 1280.9,719.2 1281,721.6 1281,724 1281,726.4 1281,728.9 1281,731.3 1281,733.7 1281,736.1 1281.1,738.5 1281.1,741 1281.1,743.4 1281.1,745.8 1281.1,748.2 1281.1,750.6 1281.1,753 1281.1,755.5 1281.2,757.9 1281.2,760.3 1281.2,762.7 1281.2,765.1 1281.2,767.6 1281.2,770 1281.2,772.4 1281.2,774.8 1281.3,777.2 1281.3,779.6 1281.3,782.1 1281.3,784.5 1281.3,786.9 1281.3,789.3 1281.3,791.7 1281.4,794.2 1281.4,796.6 1281.4,799 1281.4,801.4 1279.6,800.9 1287.2,806.5 1293.5,808.7 1299.8,806.5 1307.4,800.9 1305.6,801.4 1305.6,799 1305.6,796.6 1305.6,794.2 1305.7,791.7 1305.7,789.3 1305.7,786.9 1305.7,784.5 1305.7,782.1 1305.7,779.6 1305.7,777.2 1305.8,774.8 1305.8,772.4 1305.8,770 1305.8,767.6 1305.8,765.1 1305.8,762.7 1305.8,760.3 1305.8,757.9 1305.9,755.5 1305.9,753 1305.9,750.6 1305.9,748.2 1305.9,745.8 1305.9,743.4 1305.9,741 1305.9,738.5 1306,736.1 1306,733.7 1306,731.3 1306,728.9 1306,726.4 1306,724 1306,721.6 1306.1,719.2 1306.1,716.8 1306.1,714.4 1306.1,711.9 1306.1,709.5 1306.2,707.1 1306.2,704.7 1306.3,702.3 1306.3,699.8 1306.4,697.4 1306.4,695 1306.2,692.6 1305.7,690.2 1305.2,687.8 1304.7,685.3 1304.2,682.9 1303.6,680.5 1303.1,678.1 1302.5,675.7 1301.9,673.3 1301.3,670.8 1300.5,668.4" fill="#000"/>
<path d="M1271,739.9h0M1274.5,735.3h0M1315,704.4h0M1272.7,729.2h0M1308.4,740.1h0M1314.9,684.4h0M1321.1,736.3h0M1308.9,743.4h0M1318.3,742.7h0M1314.1,731.2h0M1314.9,714.8h0M1280,740.5h0M1273.5,707.8h0M1248,740.8h0M1311.6,734.9h0M1270.1,713h0M1320.6,739.1h0M1271.4,676.9h0M1328.6,721.7h0M1274.1,731.4h0M1264.9,740.7h0M1315.2,726.6h0M1260.2,731.8h0M1262.4,734.1h0M1277.3,735.8h0M1309.4,742.5h0M1276.7,733.8h0M1264.5,720.4h0M1277.5,731.8h0M1310,723.5h0M1314.9,730.8h0M1322.1,719.4h0M1308.4,724.4h0M1263.4,737.7h0M1277.1,717.7h0M1278.2,730.8h0M1279.6,732h0M1306.9,726.4h0M1276.8,720.7h0M1311.8,744.6h0M1273.6,723h0M1277.1,717.6h0M1307.9,698h0M1306.8,735.1h0M1276.9,740.5h0M1266.1,728.7h0M1313.7,741.4h0M1312.8,728.7h0M1273.7,737.7h0M1276.6,744h0M1270.3,730.1h0M1267.7,737.7h0M1268.5,727.1h0M1274.5,743h0M1253,731.8h0M1279.4,706.4h0M1274,743.9h0M1314.5,737.7h0M1279.3,741.1h0M1307,734.4h0M1318.4,732.1h0M1327.3,725.6h0M1352.5,743.1h0M1313.8,726.6h0M1276.1,691.6h0M1263.8,737.9h0M1308.9,734.7h0M1269.3,738.2h0M1316.2,734.2h0M1277.8,693.1h0M1307.9,732h0M1311.5,698.7h0M1274.2,715.8h0M1312.4,734.9h0M1278.4,732.2h0M1261.2,725.9h0M1264.9,703.6h0M1270.7,717.2h0M1317.6,733.9h0M1311.8,703.3h0M1275.5,735.3h0M1255.1,740.6h0M1322.1,736.5h0M1278.6,744.8h0M1327.1,737.2h0M1263,738.2h0M1272.7,718.8h0M1272.3,739.2h0M1318.1,720.1h0M1318,737.8h0M1319.5,733.1h0M1275.5,720.8h0M1316.5,742.3h0M1339.3,738.7h0M1257.3,719.3h0M1323.9,738.9h0M1274.7,727.7h0M1276.9,732.6h0M1262.2,741.2h0M1278.8,705.8h0M1313.3,744.5h0M1313.3,731h0M1279.8,707.8h0M1232.1,738.1h0M1337,727.2h0M1275,735.7h0M1307.7,733.7h0M1308.3,727.9h0M1314.3,721.1h0M1314.6,738.4h0M1313.5,715.2h0M1309.4,713.3h0M1313.1,719.7h0M1307.1,744.5h0M1271.4,723.9h0M1308.1,724.3h0M1307.3,659.8h0M1269.3,739.3h0M1310.9,740.4h0M1313,705h0M1315.1,665.8h0M1270.1,732.8h0M1338.4,730h0M1246.7,723h0M1311.4,743.6h0M1308.1,739.5h0M1326.2,708.3h0M1313.9,732.1h0M1278.1,696h0M1320.1,727.9h0M1321.3,741.1h0M1314.4,740.4h0M1275.8,730.6h0M1269.7,719.6h0M1257.6,727.8h0M1322.1,721.8h0M1327.4,718.8h0M1277.8,680h0M1317.7,707.4h0M1278.4,731.4h0M1269.4,735.9h0M1276.1,721.8h0M1276.5,743.2h0M1329.9,731h0M1276.7,745.2h0M1325.5,743.6h0M1255.3,712.5h0M1307.7,737.6h0M1326.9,742.6h0M1262.6,724.2h0M1310.5,730.6h0M1317.6,718.4h0M1278.5,722.1h0M1330.3,687.6h0M1272.2,697.5h0M1273.7,704.6h0M1275.6,711.8h0M1272.6,738.5h0M1310.8,727.4h0M1309.4,732.8h0M1251.1,718.5h0M1326.1,688.8h0M1313.3,736.5h0M1252.6,740.6h0M1307.8,739.7h0M1308.9,701.6h0M1331,739.9h0M1273.2,718.7h0M1315.3,702.5h0M1276.3,695.7h0M1310.9,743.5h0M1313.5,727.3h0M1308.8,740.8h0M1316.3,723.5h0M1312.3,728.6h0M1278,737.4h0M1306.6,670.5h0M1272.7,740.1h0M1265.2,682.6h0M1309.6,719.8h0M1321.9,740.6h0M1312.5,697h0M1318.1,739.7h0M1309.2,675.6h0M1267.4,738.8h0M1324.4,732.1h0M1324.3,703.8h0M1271.7,706.4h0M1278.6,738.1h0M1269.4,737.9h0M1318,737.1h0M1278.7,741.1h0M1323.2,725h0M1312.2,701.9h0M1273,745h0M1276.5,733.8h0M1310.3,730.2h0M1278.3,729.3h0M1308,723.7h0M1324.3,714h0M1267.5,691.2h0M1273.7,732.2h0M1317.6,720.7h0M1307.2,743.9h0M1310.1,711.6h0M1275.5,743.8h0M1276.5,738.5h0M1306.9,722.4h0M1308,738.4h0M1264.5,709.6h0M1310,716.6h0M1313.8,741.7h0M1321.3,712.5h0M1279.3,726.6h0M1276.5,708.7h0M1267.6,737.3h0M1309.1,729.7h0M1309.8,744.7h0M1337.4,744.8h0M1316.7,727.5h0M1314.8,738.3h0M1270.2,737.8h0M1265.4,726.3h0M1315,743.4h0M1314.8,742.6h0M1311.7,737.6h0M1314.6,716.8h0M1275.3,728.3h0M1272.8,737.6h0M1277.8,738.2h0M1334.6,735.6h0M1277.1,706h0M1279.9,739.7h0M1337.5,744.3h0M1252.9,724.9h0M1319.3,738h0M1265.5,701.3h0M1354.6,742.5h0M1308,742.5h0M1337.9,722.6h0M1275.4,737.4h0M1310.1,721.8h0M1272.4,657.2h0M1265,689.8h0M1272.7,736.2h0M1271.5,743.4h0M1322.6,741.9h0M1307.9,688.9h0M1272.7,726h0M1277.2,691.5h0M1274.8,676.3h0M1313.1,684.4h0M1260.5,742h0M1308.9,733.1h0M1307.6,729h0M1270.7,708.5h0M1279.6,739.1h0M1263.7,743.2h0M1324.8,730.8h0M1244.1,732.9h0M1314.9,743.9h0M1310.7,727h0M1312.3,703.2h0M1278.5,708.8h0M1278.2,740.4h0M1280.3,730.2h0M1272.4,731.1h0M1324,726.6h0M1249.2,715.7h0M1263.6,719.5h0M1256.9,740h0M1312.1,720h0M1307.9,736.3h0M1274.5,712.8h0M1273.3,715.2h0M1315.6,737.8h0M1276.4,745.1h0M1279,745h0M1280,707.5h0M1313.3,733.6h0M1269.6,744.1h0M1308.2,702.2h0M1331,728.7h0M1325.8,743.3h0M1260.1,706.4h0M1275.9,741.9h0M1314.8,713.7h0M1275.8,705.1h0M1260.6,744.5h0M1309.8,739.3h0M1239.1,742.6h0M1270.1,708.2h0M1275.7,708.1h0M1278.5,725.8h0M1272.2,742.9h0M1344.4,735.9h0M1331,745.1h0M1245,741h0M1326.9,728.4h0M1321.7,713.4h0M1326.9,720.3h0M1319.4,741.5h0M1311.3,737h0M1249.4,722.7h0M1306.7,735.8h0M1260.6,729.2h0M1275.5,734.6h0M1312.5,714.2h0M1277.2,699.4h0M1274.6,687.9h0M1309.5,672.7h0M1278.8,728.9h0M1338.3,732.8h0M1309.7,736.1h0M1313.9,718.4h0M1252.6,729.8h0M1323.1,742.7h0M1278.6,737.8h0M1315.2,743.5h0M1314.3,738.3h0M1311,725.5h0M1336.5,744.5h0M1315.6,742.7h0M1325.6,737.3h0M1277.8,740.3h0M1279.6,725.4h0M1276.2,734.3h0M1326.9,722.2h0M1280,697.6h0M1279.1,737.3h0M1244.9,740.3h0M1312.6,724h0M1309.4,735.5h0M1315.3,697.9h0M1311.2,743.9h0M1316.5,745.2h0M1310.1,709.8h0M1267.5,715.3h0M1254,695.8h0M1306.8,743.8h0M1271.1,726.7h0M1270.1,730.7h0M1269.5,741.5h0M1269.2,691.9h0M1246.3,743.8h0M1279.5,706.3h0M1275.4,730.9h0M1310.4,684.5h0M1316.8,730.7h0M1339.9,710.2h0M1276.6,738.9h0M1312.5,744.3h0M1275.8,723.4h0M1310.8,743.4h0M1271.2,711.5h0M1325,730.8h0M1312.6,735.8h0M1311.7,737.5h0M1307.7,741.9h0M1314.6,731.6h0M1278.4,736.8h0M1310.8,736.6h0M1274.8,743.1h0M1277.3,739.4h0M1311.4,733.1h0M1237.1,745.1h0M1315.2,735h0M1277.1,729.3h0M1262.3,732.5h0M1309.5,735.3h0M1277.6,728.4h0M1270.3,732.5h0M1253.9,736.5h0M1256.6,689.6h0M1309.1,717.8h0M1279.1,743.6h0M1280,698h0M1279.2,744.2h0M1266.9,741.7h0M1313.7,740.4h0M1314.6,700.2h0M1276.9,743.7h0M1310.9,703.9h0M1309.6,711.3h0M1325.9,716.5h0M1275.9,703.9h0M1237.6,732.6h0M1278.9,725.9h0M1309.9,730.2h0M1280,699.9h0M1308.7,682.7h0M1261.3,740.5h0M1326.4,741.8h0M1275.1,739.9h0M1323.8,742.8h0M1270.2,725.2h0M1331.9,703h0M1316.8,735.6h0M1278,733.5h0M1306.7,708.6h0M1272.1,728h0M1274.3,732.2h0M1308.1,743.7h0M1270.2,745.1h0M1276.7,739.2h0M1325.7,738.8h0M1274.9,732.7h0M1311.1,742.2h0M1313.2,719.9h0M1310.5,705.9h0M1266.2,736.9h0M1269.9,727.6h0M1266.1,710.6h0M1278.7,724.6h0M1254.9,723.1h0M1308.4,742.9h0M1274.4,710.4h0M1308,734.7h0M1337.5,724.7h0M1264.2,728h0M1308.2,733.7h0M1277.8,712.5h0M1323.3,723.4h0M1262.9,735.8h0M1327.9,720.7h0M1328.6,735.9h0M1272.8,735.5h0M1327.1,733.9h0M1321.9,742.5h0M1313.6,745h0M1307.3,734.4h0M1273.4,735h0M1325.8,710h0M1277,745.2h0M1264.8,731.4h0M1312,727.5h0M1277.3,711.3h0M1245.5,725.4h0M1268.3,723.8h0M1276.8,741.5h0M1268.1,706.7h0M1258.2,704.2h0M1309.9,667.8h0M1269.6,745h0M1314.5,725.7h0M1310.4,745.1h0M1274.9,723.6h0M1307.9,739.8h0M1307.2,736.1h0M1316.8,729.3h0M1328.1,737.9h0M1276.7,710.2h0M1307,723.9h0M1252.9,742.7h0M1316.5,737.7h0M1321.4,691.3h0M1338.3,729.1h0M1306.8,700.6h0M1317.6,682h0M1313.1,721.6h0M1274.3,704.2h0M1324.4,732.4h0M1259.9,740.8h0M1278.4,744.7h0M1278.8,732.2h0M1279.6,740.2h0M1279.6,728.7h0M1275.3,715.5h0M1335.9,739.4h0M1273.4,730.6h0M1327.6,736.9h0M1252.8,694.8h0M1269.7,721.7h0M1277.4,723.9h0M1258.1,726h0M1342.4,723.6h0M1316.7,716.8h0M1325.2,729.5h0M1243.8,743.5h0M1322.5,730.8h0M1321.8,736.6h0M1311.1,706.7h0M1335.5,734.3h0M1319.7,702.2h0M1315.7,715.2h0M1269.9,719.5h0M1273.2,725.4h0M1277,741.2h0M1279.6,731.3h0M1279.9,736.8h0M1307.3,723.1h0M1268.5,727.6h0M1312.5,731h0M1265.1,676.8h0M1264.6,691.9h0M1277.8,734.1h0M1308,735h0M1272.8,734.5h0M1272,741h0M1264.4,711.7h0M1309.5,742.1h0M1308.1,740.7h0M1279.8,735.5h0M1308,742.2h0M1268.4,738.9h0M1252,741.3h0M1266.2,742.1h0M1278.6,718.3h0M1278.7,693.7h0M1279.6,736.4h0M1275,735.5h0M1313.9,703.4h0M1307.3,733h0M1312.1,705.6h0M1322.5,731.2h0M1270.7,731.2h0M1256.7,713h0M1273.9,742.2h0M1279.5,733.4h0M1280.4,733.8h0M1310.6,723.9h0M1308.5,742.9h0M1306.7,714.5h0M1277.8,739.3h0M1279.2,727.8h0M1279.5,665.1h0M1336.4,724.4h0M1319.7,714.8h0M1275.7,743h0M1278.6,742.3h0M1333.5,716.8h0M1309.8,733.6h0M1307.8,734.5h0M1271.1,740.5h0M1308.6,733.8h0M1311.4,713.4h0M1264.4,726.8h0M1254.2,709.2h0M1308.8,710.6h0M1271.9,536.9h0M1263.7,615.2h0M1277.8,620.1h0M1309.9,641.8h0M1271.9,653.9h0M1259.9,666h0M1244.3,673.3h0M1253.2,674.2h0M1221.1,685.3h0M1227.1,700.8h0M1206.2,738.5h0M1235.3,728.9h0M1242.8,711.9h0M1238.3,709.5h0M1242.8,708.6h0M1407.6,693.6h0M1407.6,736.1h0M1317.4,679.5h0M1329.3,681.5h0M1323.3,687.8h0M1330.8,687.8h0M1351.7,698.4h0M1354.7,701.3h0M1348.7,708.1h0M1359.1,724h0M1363.6,726.4h0M1365.9,731.3h0M1357.7,736.1h0M1144.3,667h0M1144.3,686.3h0M1144.3,705.7h0M1144.3,732.3h0M1144.3,734.7h0M1442.7,562h0M1442.7,620.1h0M1442.7,625.9h0M1442.7,629.7h0M1442.7,632.1h0M1442.7,652.9h0M1442.7,663.6h0M1442.7,668.4h0M1442.7,672.3h0M1442.7,678.1h0M1442.7,682.9h0M1442.7,687.8h0M1442.7,691.6h0M1442.7,702.3h0" fill="none" stroke="#6ABD45" stroke-width="3.9" stroke-linecap="round"/>
<path d="M1246.8,781.9h0M1267.8,769.8h0M1231,773.2h0M1344,789.8h0M1315.5,795.4h0M1278.6,754.6h0M1344.9,780.7h0M1332.1,779.9h0M1259.9,779.5h0M1308.1,749.2h0M1308.2,781.2h0M1275.1,778.1h0M1264.1,791.2h0M1263.7,766.6h0M1271.2,793.6h0M1275.8,786.6h0M1309.4,765.8h0M1272.8,756.3h0M1276,764.2h0M1322.1,768.1h0M1278.5,759.3h0M1267.9,782.4h0M1316.3,779.5h0M1309.3,757h0M1273,777.4h0M1274.4,754h0M1276.7,760.5h0M1312.6,761.6h0M1307.9,791.9h0M1339.5,783.1h0M1327.2,764.8h0M1257.2,776h0M1264.5,789.3h0M1243.4,778.8h0M1276.1,797h0M1274.9,788h0M1354.9,785.2h0M1345.6,786.3h0M1355.7,786.3h0M1267,778.8h0M1275.8,768.2h0M1309.4,752.3h0M1347.4,778.7h0M1271.7,794.7h0M1264.9,782.7h0M1277.6,764h0M1332.9,763.6h0M1275.9,763.1h0M1239.8,770.8h0M1244.2,762.2h0M1328.8,753.9h0M1243.6,765.7h0M1269.2,778.9h0M1331.5,787.6h0M1258.2,777.7h0M1331.3,787.2h0M1234.5,761.4h0M1315.8,770.2h0M1278.3,759.6h0M1276.2,776.1h0M1263.3,792.7h0M1328.7,754.2h0M1279.2,783.7h0M1325.4,763.7h0M1276.6,790.8h0M1329.7,769.9h0M1322.2,779.9h0M1269.8,785.3h0M1275,792.8h0M1322.3,777.5h0M1308.2,777.3h0M1335.5,773.8h0M1309.4,792.6h0M1265.7,789.7h0M1324.3,758h0M1274.1,786.4h0M1256.7,754.8h0M1337.9,788.2h0M1279.3,766.4h0M1268.6,790h0M1313.9,753.5h0M1264.3,781h0M1309.7,768.3h0M1274.7,795.1h0M1327.8,760.8h0M1315,793.1h0M1326.4,775.5h0M1308.2,795.8h0M1318.4,794.6h0M1330.2,784.7h0M1277.6,783.7h0M1271.3,760.2h0M1250.1,765.1h0M1275.7,797.3h0M1315.7,759.3h0M1263.3,776h0M1316.9,783.5h0M1274.1,761.1h0M1276.5,753h0M1275.4,786.5h0M1261,762h0M1310.7,769.2h0M1357.3,761.3h0M1272.2,754.2h0M1278.8,792.7h0M1317.1,752.3h0M1330,776.9h0M1311.5,778.2h0M1317.6,786.3h0M1316.3,765.2h0M1272.5,786.2h0M1272.2,774.2h0M1312.2,775.6h0M1329,750.5h0M1328.7,791.1h0M1315.3,749.6h0M1312,774.4h0M1310.8,778.1h0M1313.5,772.2h0M1277.9,773.5h0M1327.5,765h0M1319,767.8h0M1329.7,776.9h0M1240.7,760.4h0M1272.3,776.8h0M1244.6,762.7h0M1276.3,772.1h0M1310.6,780.5h0M1271.7,767.9h0M1277.5,782.8h0M1310.5,771h0M1324.3,769.1h0M1311.4,767h0M1272.7,773.2h0M1272.3,781.6h0M1351.9,764.6h0M1264.7,758.3h0M1308,777.4h0M1275,786.8h0M1259.1,789.2h0M1313.7,777h0M1309.3,748.9h0M1274.8,776.4h0M1319.3,784.8h0M1313.5,765.2h0M1257.9,789.5h0M1317.1,751.8h0M1274.1,784.4h0M1272.1,775.3h0M1358.5,775.1h0M1312.9,769.1h0M1321.1,791h0M1279.5,798.5h0M1322.4,787.7h0M1279.4,763.6h0M1312.5,774.5h0M1276.4,797.9h0M1274.5,777.6h0M1272.9,775.2h0M1311.9,783.2h0M1358.7,774.6h0M1323.3,794.9h0M1275.5,778.9h0M1276.4,792.9h0M1267.3,792h0M1267.9,761.8h0M1273.3,780.4h0M1309.2,776.8h0M1263.6,788.7h0M1265.4,762.3h0M1255.6,783.9h0M1314.8,795.4h0M1316.3,772.2h0M1277.2,779.8h0M1316.2,756h0M1315,794.6h0M1319.8,784.2h0M1278.4,797.7h0M1317.7,752.1h0M1257.4,760.1h0M1265.3,777.7h0M1309.1,793.1h0M1279.2,763.1h0M1319.8,778.6h0M1264.3,756.4h0M1228.5,773.1h0M1318.5,772.6h0M1313.1,772.2h0M1263.4,770.7h0M1273.2,784h0M1316.3,791.1h0M1275.3,789.3h0M1314.8,768.2h0M1260.7,781.3h0M1274.9,764.5h0M1308,776.7h0M1279.8,786.4h0M1274.8,790h0M1272.6,767.6h0M1308.6,773.4h0M1262.7,790.3h0M1273.3,781.1h0M1316.8,775.1h0M1319,786.5h0M1275.3,783.1h0M1327.7,760.7h0M1346.9,775.3h0M1271,759.9h0M1334.6,785.2h0M1273.8,779.6h0M1275.3,781.9h0M1323.2,765.9h0M1317.3,773.3h0M1259.8,762.1h0M1278.4,787.6h0M1276,791.5h0M1338,770.2h0M1311.4,790.7h0M1315.2,774.4h0M1323,765.5h0M1312.6,762.3h0M1237,781.4h0M1271.4,775.3h0M1337.1,789.4h0M1307.5,756.6h0M1309.7,773.4h0M1310.5,767.7h0M1269,792.3h0M1277.5,796.8h0M1316,760.2h0M1310.4,769.8h0M1278,792.9h0M1277.2,785.2h0M1279.4,763.3h0M1309,762.2h0M1268.3,761.1h0M1277.7,771.8h0M1266.4,795.5h0M1263.7,790.4h0M1260.1,788h0M1328.9,757h0M1319.7,756.2h0M1278.8,779.2h0M1273.5,780.2h0M1272.9,760.7h0M1317.5,795.4h0M1316.8,756.4h0M1266.9,795.8h0M1314.8,786.4h0M1253.7,778.9h0M1264.7,752.7h0M1312.1,795.5h0M1266,770.7h0M1339.6,786.7h0M1310.6,775.9h0M1311.5,757.8h0M1276.9,767.3h0M1278.3,772.8h0M1254.2,753.6h0M1315.4,789.1h0M1318.9,785.9h0M1276.4,777.1h0M1307.6,794.3h0M1310.6,796.4h0M1270.7,791.5h0M1255.5,776.4h0M1321.7,770.4h0M1348.5,770h0M1312,755.9h0M1334.9,780.6h0M1267.3,766.1h0M1278.3,763.6h0M1279.7,797h0M1273.9,757.1h0M1330,775.2h0M1318.6,764.5h0M1272.9,785.8h0M1327.9,789.7h0M1313.1,774.8h0M1315.1,765.7h0M1312.3,780.4h0M1320.5,752.5h0M1310.5,791.9h0M1275.7,783.9h0M1267.3,791.5h0M1317.4,792.2h0M1269.8,784.1h0M1276.8,756.4h0M1227.3,778.7h0M1260.7,776.5h0M1313.9,759.3h0M1319.2,795.9h0M1308.7,792.4h0M1308.9,755.8h0M1273.3,779.3h0M1275.1,777.8h0M1254.4,759.2h0M1263.2,794.8h0M1317.4,781.3h0M1274.5,795.1h0M1278.9,788.2h0M1265.1,786.5h0M1336.6,773.4h0M1249.6,767.3h0M1323.8,771.6h0M1328.2,781.6h0M1243.1,788.4h0M1316.6,753.8h0M1277.7,783.1h0M1320.8,759.1h0M1272.8,765.1h0M1279.3,795.3h0M1343.6,761.4h0M1258.3,753.3h0M1314.6,796.4h0M1309,796.4h0M1320.1,779.4h0M1330.3,790.8h0M1244.8,784.9h0M1278.1,798.3h0M1310.8,759.4h0M1278.7,770.5h0M1275.9,783.8h0M1323.4,794.4h0M1241.8,774.2h0M1309.4,773.5h0M1315.9,792.3h0M1314.5,791.7h0M1260.3,781.2h0M1318.6,769.4h0M1271.6,781.2h0M1274.9,783.1h0M1255.7,784.5h0M1312.3,781.7h0M1309.2,795.4h0M1310.1,776.9h0M1331.6,765.3h0M1318.7,767h0M1328.1,782.6h0M1313.7,773.8h0M1276,789.8h0M1275.8,770.1h0M1354.5,770.8h0M1314.8,767h0M1318.1,788.5h0M1265.2,778.7h0M1278.8,777h0M1268.7,793.6h0M1270.4,761.1h0M1309.2,786.8h0M1310.4,787.8h0M1274.3,766h0M1337.5,774.7h0M1332.4,770.7h0M1333,780.4h0M1307.5,790.8h0M1278.1,784.2h0M1278.9,798.4h0M1266.5,763.8h0M1279.3,751.1h0M1325.9,769.9h0M1273,753.9h0M1273.2,789.1h0M1349.9,763h0M1266.5,781.7h0M1278.1,763.1h0M1273.2,753h0M1276.2,795.2h0M1255.6,773h0M1255.6,779.4h0M1311.4,783.3h0M1250.8,790.6h0M1276.9,750.1h0M1313.3,770.1h0M1311.4,796.6h0M1309.5,787.7h0M1279.2,796.9h0M1259.4,773.6h0M1279.7,758.7h0M1312.1,766.3h0M1263.9,770.2h0M1309.9,795.1h0M1308.7,785.5h0M1247.8,789.6h0M1275.5,796h0M1316,757.4h0M1309.3,778.6h0M1277.5,774.9h0M1308.5,776.4h0M1278.2,768h0M1277.8,754.1h0M1277.9,762h0M1278.2,778.5h0M1258.1,763.9h0M1272.7,785.3h0M1261,786.7h0M1319,768.7h0M1277.6,749.3h0M1278.7,787.9h0M1275.6,749.5h0M1279.2,757.8h0M1275.1,791.7h0M1307.7,776.1h0M1277.3,753h0M1310,764.1h0M1278.8,782.7h0M1271.5,783.9h0M1325.4,763.2h0M1316.1,772.8h0M1337.9,783.4h0M1309.2,789.8h0M1267.8,775.6h0M1226.9,773.9h0M1256.7,793.3h0M1311.9,763.9h0M1331,760.1h0M1326.3,774.3h0M1331.3,776.3h0M1266.7,757.2h0M1275.4,748.3h0M1272.8,770.5h0M1265.6,767.3h0M1269.9,766.5h0M1311.3,765.6h0M1337.9,786h0M1233.2,772.8h0M1277.3,784.7h0M1314.1,770.7h0M1278.8,773.8h0M1273.5,774.2h0M1311.5,786.4h0M1313.3,753.1h0M1322.2,756.9h0M1276.7,782.1h0M1315.1,771.2h0M1271.8,764.7h0M1308.1,787.6h0M1275.9,766.8h0M1276.3,763.9h0M1308.3,787.6h0M1278,794.5h0M1326.9,772h0M1271.3,796h0M1275.4,761.7h0M1319.5,784.7h0M1278.7,770.2h0M1277.8,792.3h0M1246.6,776h0M1263.1,764.8h0M1264.6,782.5h0M1239.9,766.4h0M1265.6,794.5h0M1278.2,767.3h0M1270.7,771.9h0M1309.7,776.3h0M1326.2,783.2h0M1340.9,774.1h0M1273.3,779h0M1317.2,753.6h0M1277.1,764.8h0M1327.8,791.3h0M1308.2,793.4h0M1314,782.1h0M1317.3,779.6h0M1268.2,761.4h0M1331.8,785.3h0M1315.3,750.1h0M1331.1,773.2h0M1268,774.6h0M1310.8,789.8h0M1278.3,785.8h0M1279.2,777.7h0M1272.3,787.6h0M1324.9,775.8h0M1278.5,795.8h0M1307.5,782.6h0M1279.3,777.5h0M1249.9,789.5h0M1315.6,794.1h0M1343.2,763.8h0M1310.7,765.4h0M1316.2,766.1h0M1274.7,758.7h0M1359.2,765.6h0M1323,794.4h0M1325.4,750.1h0M1276.1,773.2h0M1271.2,755.3h0M1278.8,792.8h0M1313.5,791.5h0M1322.8,775.5h0M1275.6,772.4h0M1313.3,759.6h0M1317.9,774.1h0M1329.1,785.5h0M1309.1,779h0M1259.7,781.8h0M1324,769.9h0M1314.3,769.2h0M1277.1,750.4h0M1307.9,752.2h0M1269.8,795.7h0M1272.3,793h0M1310.4,751.8h0M1319.9,755.1h0M1311.5,791.1h0M1308.7,784.9h0M1240.2,760.7h0M1334.1,753.6h0M1269.8,763.3h0M1339.8,764.2h0M1272.3,774.4h0M1266.9,789h0M1335,758.2h0M1266.7,755.2h0M1311.1,787.9h0M1264.3,771.3h0M1351.7,766.9h0M1278.9,785.8h0M1310.7,797.9h0M1274.6,791.5h0M1326.7,783h0M1276.4,765.9h0M1278.8,767.5h0M1312.2,772.2h0M1275.4,768.3h0M1308.4,792h0M1318.5,760.4h0M1277.9,773h0M1318.1,759.6h0M1266.9,758.6h0M1270,795.5h0M1335.8,788.7h0M1275.1,783.8h0M1307.5,786h0M1324.1,779.6h0M1272.1,756.9h0M1323.1,782.5h0M1248.7,788h0M1266.7,791.4h0M1277.6,761.2h0M1322.5,779.2h0M1277.1,782.9h0M1271.5,795.3h0M1317.9,785.9h0M1335.3,776.4h0M1307.3,795.7h0M1309.8,782.1h0M1309.8,794.9h0M1253,781.7h0M1268.5,751.2h0M1307.5,766.9h0M1340.7,782.9h0M1262.4,766.1h0M1322.9,794.2h0M1271.7,754.9h0M1275.5,797.5h0M1276.7,778.2h0M1268.9,748.8h0M1268,766.7h0M1331.3,791.4h0M1246.3,774.2h0M1317.4,794.1h0M1342.4,772.8h0M1247.2,777.7h0M1329.5,787.6h0M1268.9,778.8h0M1314.9,764.6h0M1261.1,793.7h0M1273.6,789.2h0M1273.3,779.9h0M1274.1,755.5h0M1273.3,772.8h0M1248.9,785.9h0M1273.2,791.5h0M1316.4,775.2h0M1314.5,761.4h0M1272.9,774.1h0M1319.2,795.9h0M1266.7,782.2h0M1346.8,784.3h0M1265,754.5h0M1331.4,782.5h0M1262.2,783.5h0M1313.2,781.8h0M1275.8,795.8h0M1309.7,787.9h0M1309.2,786.1h0M1264.1,775.5h0M1316.9,775.5h0M1320.2,759.7h0M1324.4,753.2h0M1277.8,795.9h0M1314.2,770.8h0M1315.7,760.9h0M1328.1,766.8h0M1312.1,775.8h0M1309.8,780h0M1234.1,786.5h0M1277.4,758.4h0M1277.3,767.7h0M1277.4,757.4h0M1271.4,775.8h0M1310.8,770.1h0M1326.4,788.8h0M1333.4,756.6h0M1262,775.2h0M1333.1,783h0M1335.4,791h0M1314.1,780.8h0M1279.5,759.4h0M1278.5,793.4h0M1259.3,770.6h0M1308.2,778.6h0M1333.7,790.6h0M1272.9,765.5h0M1270.9,776.7h0M1254.9,788h0M1315.8,752.5h0M1269,793.9h0M1314.4,774.5h0M1341.8,782.2h0M1308.2,757.7h0M1264.7,771.6h0M1270,771.8h0M1262.2,760.8h0M1310.2,773h0M1319.3,749.1h0M1246.4,781.2h0M1352.5,775.9h0M1316.1,779.8h0M1272.1,762.3h0M1312.9,753.7h0M1277.2,768.7h0M1307.8,788.5h0M1277.8,762.2h0M1275,751.5h0M1315.2,768.2h0M1317.4,788.5h0M1268,749.9h0M1308.4,779.4h0M1279.7,796.1h0M1276.7,789h0M1269,759h0M1276.3,797.1h0M1277.7,770.5h0M1332.4,780.8h0M1272,772.8h0M1255,776.4h0M1255.7,767.1h0M1260.8,764.6h0M1309.7,797.6h0M1263.6,770h0M1308.9,788.1h0M1328.1,757.6h0M1307.7,793.3h0M1277.4,783.3h0M1268.4,759.7h0M1275.9,771.4h0M1269.1,761.3h0M1242,761h0M1279.7,794.2h0M1279.6,797.6h0M1307.4,769.4h0M1315.5,764.2h0M1265.8,773.1h0M1314.1,778.5h0M1274.9,752.5h0M1310.2,771.2h0M1319.5,793.9h0M1264.6,775.9h0M1260.8,789.6h0M1271.4,770h0M1307.6,795.3h0M1312.1,780.5h0M1315.7,771.7h0M1260.4,776.7h0M1318.3,767.8h0M1311.4,777.4h0M1275.1,772.1h0M1318.9,749.2h0M1276.8,766.2h0M1254.7,758.6h0M1323.2,792.4h0M1351.8,787.5h0M1318.3,763.8h0M1269.7,780h0M1271.2,782.4h0M1276.3,752.7h0M1307.9,783.5h0M1319.8,770.6h0M1253.9,772.8h0M1335.9,775.7h0M1307.4,762.4h0M1276.3,789.3h0M1320.3,765.1h0M1256.7,791.3h0M1269.5,795.5h0M1267.3,780.9h0M1329,775.9h0M1321.2,784.3h0M1277.8,757h0M1321,772.8h0M1252.6,779.2h0M1324,770.6h0M1329.5,779h0M1274.5,788.2h0M1360.2,765.5h0M1329.3,753.9h0M1263.7,764h0M1278.8,775.1h0M1268.8,769h0M1319.3,790.7h0M1253.1,781.2h0M1278.1,764.3h0M1308.1,798.1h0M1271.9,777.3h0M1331.4,762h0M1256.4,754.9h0M1310.7,778.3h0M1256.2,775.6h0M1312.4,773.1h0M1311.7,782.3h0M1278.3,751.1h0M1312,791.7h0M1320.4,751.4h0M1264.2,794.7h0M1307.7,784.3h0M1316.6,769.9h0M1326.9,773.9h0M1310.3,785.1h0M1309.3,798.4h0M1262.3,779.4h0M1273.3,763.9h0M1278.5,772.7h0M1311.1,797.2h0M1307.6,790.7h0M1335,760.2h0M1276.4,762.8h0M1308.4,794.5h0M1267.7,791.6h0M1326.3,772.2h0M1269.4,772.6h0M1274.3,782.9h0M1269.9,749.8h0M1351.4,764.1h0M1316.4,788.4h0M1272.8,755.2h0M1327.2,773.2h0M1277.9,788.2h0M1267.2,767.7h0M1279.1,765.3h0M1324,786.1h0M1274.3,777.6h0M1316.9,784.9h0M1278.5,772.7h0M1313.2,767.1h0M1260.7,761.6h0M1253.8,770.8h0M1308.8,798.6h0M1271.8,787.7h0M1317.8,793.9h0M1310.7,793.6h0M1275.5,757.7h0M1319.5,793.1h0M1311.3,774.1h0M1327,790.2h0M1322.1,789.8h0M1276.5,762.8h0M1277.1,796.6h0M1310.4,753.2h0M1279.6,754.8h0M1256.1,780.9h0M1333.1,769.9h0M1335,774.6h0M1319.3,753.3h0M1255.7,781.1h0M1349.1,779.3h0M1254.7,770.3h0M1279.4,782.3h0M1308.3,784h0M1260.7,768.3h0M1278.8,752h0M1265,792.4h0M1313.7,792.6h0M1317.2,762.6h0M1344.8,775.3h0M1256.4,791.4h0M1257.1,770.1h0M1265.2,776.2h0M1257.3,772.3h0M1321.4,762.4h0M1314.4,782.1h0M1328,781.4h0M1279.6,780.7h0M1256.8,785.4h0M1269.4,765h0M1310.9,780.1h0M1265,762.3h0M1309.2,760h0M1317.6,764h0M1276.3,795.9h0M1308.4,760.4h0M1276.1,768.1h0M1310.9,770.8h0M1317.8,754.6h0M1313.1,792.3h0M1265.7,781.8h0M1270.1,783.7h0M1350.2,772.3h0M1316,780.9h0M1274.4,749h0M1308.6,795.1h0M1270.6,781.5h0M1262.8,753.3h0M1344,762.6h0M1311.3,793.8h0M1318.5,784h0M1276.2,766.6h0M1315.1,790.7h0M1308.4,770h0M1271.9,768.9h0M1256.9,766.3h0M1318.4,785.6h0M1279.2,762.2h0M1311.7,788.1h0M1315,758.7h0M1263.6,774.7h0M1309.8,785.5h0M1279,776.1h0M1253.4,756.9h0M1277.4,764.6h0M1277.4,780.9h0M1315,789.9h0M1307.6,794.4h0M1336.8,787.2h0M1271.1,778.7h0M1274.5,794.9h0M1265.5,759.1h0M1257.4,775h0M1337.7,782.6h0M1320.9,794.8h0M1277.4,789.8h0M1333.4,781.6h0M1337,763.4h0M1317.4,762.6h0M1320.6,753.5h0M1277.5,797.2h0M1320.8,761.8h0M1266.2,776.6h0M1278.8,792.6h0M1259.5,749.9h0M1335.6,788.6h0M1276.1,798.2h0M1244.3,761.5h0M1276.3,790.3h0M1339.3,786.1h0M1243.3,774.2h0M1245.4,788.4h0M1276.6,754h0M1278.5,775h0M1340.9,771.1h0M1310.3,778.5h0M1271.7,777.6h0M1271.2,783.8h0M1279.7,787.6h0M1265.1,770.1h0M1350,760h0M1278.3,762.1h0M1278,772.1h0M1262.1,756.5h0M1335.5,775h0M1310.9,782.9h0M1277,782.8h0M1266.8,783.4h0M1251.7,767.4h0M1314,793.8h0M1274.2,796.7h0M1358,766.8h0M1348.3,781.8h0M1263.5,794.2h0M1279.8,795.6h0M1267.7,786.5h0M1309.6,753.3h0M1308.8,790.1h0M1324.9,776.2h0M1340,788.8h0M1262.5,778.4h0M1326.5,761.1h0M1254.6,782.4h0M1242.6,771.4h0M1244.4,773.3h0M1245.9,786.5h0M1326.9,784.3h0M1338,777.2h0M1326.7,785.9h0M1328.2,779.3h0M1257.1,786.5h0M1335.5,787.2h0M1253.4,781.8h0M1255.6,783.2h0M1258.7,769.8h0M1260.5,765.4h0M1256.5,758.1h0M1326.5,760h0M1327.4,758.5h0M1323.7,780.4h0M1348.4,770.6h0M1326.4,786.6h0M1255.5,768.7h0M1261.3,752.3h0M1327.4,775.9h0M1245.9,770.4h0M1255.7,763.5h0M1258.9,792.7h0M1262.4,793.3h0M1262.8,770.6h0M1249.1,762.7h0M1345,784.8h0M1326.2,770.4h0M1261.9,768.2h0M1246.8,768.5h0M1244.2,776.2h0M1262.3,769.1h0M1255.7,788h0M1347.5,757.4h0M1340.6,773.4h0M1258.1,752.5h0M1324,751.2h0M1249.4,772.8h0M1326.5,770.6h0M1344,789.3h0M1253.4,770.8h0M1263.4,770.6h0M1263.6,762.1h0M1323.4,751.1h0M1252.1,760.8h0M1334.9,758.2h0M1324.2,786.2h0M1328.4,774.9h0M1327.2,778h0M1335.3,790.9h0M1261,762.3h0M1332.8,789.8h0M1253,763.3h0M1326,776.2h0M1259.4,777.8h0M1330.8,782h0M1250,763.9h0M1255.4,779.9h0M1250.2,779.5h0M1329.4,766h0M1330.6,775.4h0M1260.5,758.9h0M1327.4,780.7h0M1346.7,766.2h0M1263.1,774.7h0M1263.2,764.8h0M1262.2,765.4h0M1255.1,784.3h0M1261.6,760h0M1348.6,783.6h0M1329.5,755.1h0M1261.1,753.3h0M1323.8,787.4h0M1263.4,792.1h0M1259,775.6h0M1258.8,771.7h0M1332.8,767.4h0M1323.8,784h0M1323.4,758.8h0M1325.9,789.1h0M1252.6,752.2h0M1262.7,764.2h0M1327.4,785.8h0M1337.5,783.7h0M1246.9,751.8h0M1246,780h0M1260.7,787.4h0M1334.7,768.4h0M1331.1,759.8h0M1249.6,766h0M1330.4,782.4h0M1324.8,763.8h0M1242,772.3h0M1323.6,761.6h0M1324.7,788.6h0M1324.1,787h0M1330.8,784.2h0M1256.1,768.9h0M1324.8,766.6h0M1337.4,766.7h0M1255,783.3h0M1259.6,749.7h0M1341.9,766.7h0M1257.3,780.8h0M1328.1,767.3h0M1334.7,786.4h0M1326.8,792.4h0M1328.3,756.1h0M1324,752.5h0M1330.9,783.9h0M1256.2,778.6h0M1333,772.5h0M1324.7,777.5h0M1243.2,787.7h0M1327.9,783.1h0M1263.2,756.7h0M1323.4,749.1h0M1328.6,767.8h0M1258.7,768.5h0M1324.8,760.8h0M1326.7,750.7h0M1263.4,791.2h0M1262.1,765h0M1328.2,773.6h0M1244.2,773.1h0M1327.9,763.6h0M1255.8,753h0M1334.3,772.5h0M1262.6,753.5h0M1254.5,765.3h0M1250.6,779.5h0M1263.3,754.6h0M1327.9,752.1h0M1337.8,759.2h0M1258.6,759.1h0M1333.7,762.4h0M1263.2,787.7h0M1245.3,776.4h0M1323.8,753.5h0M1263.5,782.7h0M1328.6,755.1h0M1336.5,759.8h0M1263.6,790.4h0M1251.2,776.6h0M1332.6,767h0M1262.7,750.5h0M1259.5,778.2h0M1334.2,768.6h0M1343.2,782.2h0M1260.7,790h0M1262.4,755.6h0M1323.5,767.5h0M1261.2,749.7h0M1255.5,788.5h0M1336.4,791.2h0M1325.7,757.4h0M1251.8,768.8h0M1330.3,791.8h0M1325.8,780.5h0M1325.9,772.5h0M1248.7,784.3h0M1325.8,765.3h0M1339.4,755.2h0M1327.1,754.6h0M1260.1,778.4h0M1245,768.6h0M1325.5,754.5h0M1330,792.9h0M1325.6,783.5h0M1339,785.8h0M1330.3,785.3h0M1259.3,752h0M1258.5,782.2h0M1258.6,762.9h0M1256.6,785h0M1330.3,787.9h0M1332.1,786.4h0M1325.3,751.2h0M1260.6,772.6h0M1330.4,756.3h0M1259.7,790h0M1328,750.6h0M1259.1,754.8h0M1262.8,794.2h0M1323.4,781.1h0M1248.2,758.1h0M1331.5,774.5h0M1328.5,774.7h0M1331.7,763.6h0M1259.7,773.1h0M1331.8,760.2h0M1261.7,779.1h0M1261.4,793.1h0M1259.3,748.9h0M1256.8,763.9h0M1324,770.1h0M1324.7,758.3h0M1260.4,750h0M1343.9,773.6h0M1253.6,785.6h0M1261.5,770.1h0M1336.4,790.7h0M1263.3,787.6h0M1324.5,782h0M1244.8,781.1h0M1332.1,772.8h0M1333.1,777.8h0M1261.7,749h0M1262.6,750.4h0M1326.4,782.7h0M1324.5,754.3h0M1247.5,777.2h0M1245.2,776.1h0M1330.5,790.1h0M1339.7,768.6h0M1259.4,787.8h0M1262.6,793h0M1263.1,752.4h0M1327.9,773.4h0M1329.5,782.5h0M1262,766.7h0M1333.2,767.3h0M1333.3,770.4h0M1263,774.5h0M1323.6,777.8h0M1325.6,756.2h0M1252.8,787.9h0M1259.8,784h0M1252.5,758.1h0M1252.3,764.7h0M1326,751.6h0M1331.5,781.4h0M1245.3,783.9h0M1325.7,789.7h0M1331.6,788.8h0M1340.5,783.8h0M1263.3,759.5h0M1262.7,765.7h0M1329.1,779.3h0M1262.1,759.7h0M1259.1,778.9h0M1250,765.8h0M1279.8,798.8h0M1278.1,797.4h0M1276.5,795.9h0M1275.3,797h0M1273.7,796.7h0M1272.2,795.1h0M1270.8,795.8h0M1269.7,795.4h0M1268.6,794h0M1267.1,793.9h0M1265.6,794h0M1264,792.6h0M1262.9,792.5h0M1261.2,791.8h0M1260.1,792.3h0M1258.9,792.6h0M1257.6,792.3h0M1256,791.9h0M1254.8,792h0M1253.3,790.8h0M1252.2,790.4h0M1251.1,790.8h0M1249.4,790.3h0M1247.9,790.3h0M1246.8,788.9h0M1245.7,788.7h0M1307.2,797.4h0M1308.5,798.3h0M1309.7,797.7h0M1311.3,796.6h0M1312.9,795.9h0M1314.6,795.9h0M1316.3,796.1h0M1317.4,796h0M1318.4,794.3h0M1319.8,793.2h0M1320.9,793.7h0M1322.2,795h0M1323.9,794.5h0M1325.4,792.7h0M1326.7,793.1h0M1328,791.6h0M1329.4,791.9h0M1330.7,790.9h0M1332.1,791.8h0M1333.5,791.8h0M1334.6,790.8h0M1336.3,790.4h0M1338.1,789.3h0M1339.4,789.9h0M1341,788.5h0M1342.4,788.7h0M1343.6,789.4h0M1201.7,789.3h0M1212.2,790.8h0M1216.7,789.3h0M1221.1,785.4h0M1230.8,790.8h0M1227.9,767.6h0M1227.9,772.4h0M1230.8,757.9h0M1234.6,753h0M1396.4,754.5h0M1403.2,771.4h0M1419.6,789.3h0M1375.6,768.5h0M1380,769h0M1386,790.3h0M1389,789.3h0M1365.1,790.3h0M1367.4,786.9h0M1362.1,784.5h0M1360.6,760.3h0M1359.9,750.6h0M1364.4,772.4h0M1144.3,748.2h0M1144.3,751.6h0M1144.3,755.5h0M1144.3,760.3h0M1144.3,765.1h0M1144.3,770h0M1144.3,775.8h0M1144.3,779.6h0M1144.3,783h0M1144.3,786.9h0M1144.3,790.8h0M1442.7,749.7h0" fill="none" stroke="#3C54A4" stroke-width="3.9" stroke-linecap="round"/>
<path d="M1442.7,708.6 V744.8" stroke="#6ABD45" stroke-width="3.9" stroke-linecap="round"/>
<path d="M1442.7,755.5 V790.8" stroke="#3C54A4" stroke-width="3.9" stroke-linecap="round"/>
<path d="M1292.8,621.8h0M1292.8,623.1h0M1290.1,624.9h0M1289.5,627.5h0M1296.8,629h0M1290.7,630.7h0M1295.8,632.1h0M1293.3,633.9h0M1291.5,636.2h0M1296,634.8h0M1296.1,637.9h0M1297,639.4h0M1296.8,640.3h0M1302.5,641h0M1287.1,641.9h0M1302.1,641.8h0M1292.4,643.9h0M1285,643.8h0M1292.1,645.7h0M1288.6,646h0M1287.1,647.2h0M1302.2,647.7h0M1296.9,648.7h0M1297.6,649.5h0M1303.1,650.2h0M1287.8,650.6h0M1300.6,653h0M1285.6,652.4h0M1298.5,654.7h0M1297.2,654h0M1304,655.8h0M1293.4,656.4h0M1300.8,656.1h0M1294.1,658.2h0M1286.8,657.7h0M1303.4,657.2h0M1291.2,659.6h0M1288.3,658.8h0M1287.6,659.7h0M1283.4,661.6h0M1303,661.2h0M1295.3,662.1h0M1286.3,662.9h0M1294.4,662.2h0M1285.5,664.8h0M1283.3,664.1h0M1289.7,663.7h0M1295.2,664.5h0M1302.5,666h0M1294,666.2h0M1290.9,665.8h0M1289.5,667.9h0M1304.2,667.4h0M1295.7,668.3h0M1298.7,668.4h0M1291.6,670.1h0M1300.9,669.1h0M1300.2,670h0M1286.8,670.6h0M1293.8,670.7h0M1283.4,671h0M1283.6,673.3h0M1284.6,673.5h0M1282.9,672.3h0M1304,672.3h0M1282.5,674.3h0M1299,675.1h0M1303.8,674h0M1300,675h0M1301.2,675.5h0M1293.9,675.5h0M1290,676.6h0M1300,676.4h0M1292.9,678.1h0M1284.6,677.5h0M1287.5,677.9h0M1295.2,677.3h0M1302.6,679h0M1293.8,679h0M1293.8,680.2h0M1287.4,679.4h0M1280.9,680.8h0M1298.6,681.3h0M1291.4,681.4h0M1283.8,681.7h0M1299,681.7h0M1296.3,683.4h0M1303.7,682.7h0M1289.5,682.6h0M1282.2,683.5h0M1299.5,684h0M1292.2,684.1h0M1303.7,684.5h0M1300.2,684h0M1286.1,684.1h0M1290.4,687h0M1293.9,686.8h0M1291.6,685.8h0M1291,687h0M1299.8,686.7h0M1289.5,687.3h0M1280.7,688.7h0M1283.7,688.4h0M1292.6,688.3h0M1288,688.7h0M1296.3,689.7h0M1291.1,689.3h0M1282.1,689.7h0M1305.5,689.6h0M1286.5,690.1h0M1304.5,691.8h0M1284.7,691.7h0M1290.5,691.7h0M1285.1,690.8h0M1288.3,691.1h0M1305.6,693h0M1292.9,692.5h0M1294.9,692.4h0M1282.8,693.7h0M1300.7,692.5h0M1281,694h0M1306.2,694h0M1280.8,695.7h0M1306.3,695.7h0M1280.9,697.4h0M1305.8,697.4h0M1280.8,699.1h0M1306,699.1h0M1280.8,700.8h0M1306.3,700.8h0M1280.9,702.5h0M1306.1,702.5h0M1281.2,704.2h0M1306,704.2h0M1281.1,705.9h0M1305.7,705.9h0M1281.2,707.6h0M1306.1,707.6h0M1281.3,709.3h0M1305.9,709.3h0M1280.9,711h0M1305.6,711h0M1281.2,712.7h0M1305.9,712.7h0M1281,714.4h0M1305.8,714.4h0M1281.2,716.1h0M1305.7,716.1h0M1281.2,717.7h0M1305.7,717.7h0M1281,719.4h0M1306,719.4h0M1281.2,721.1h0M1305.9,721.1h0M1281.2,722.8h0M1305.9,722.8h0M1281.6,724.5h0M1305.8,724.5h0M1281.3,726.2h0M1305.5,726.2h0M1281.6,727.9h0M1305.8,727.9h0M1281.2,729.6h0M1305.9,729.6h0M1281.2,731.3h0M1305.7,731.3h0M1281.2,733h0M1305.7,733h0M1281.3,734.7h0M1305.5,734.7h0M1281.5,736.4h0M1305.4,736.4h0M1281.6,738.1h0M1305.9,738.1h0M1281.4,739.7h0M1305.6,739.7h0M1281.1,741.4h0M1305.7,741.4h0M1281.3,743.1h0M1305.5,743.1h0M1281.5,744.8h0M1305.7,744.8h0M1281.4,746.5h0M1305.3,746.5h0M1281.3,748.2h0M1305.7,748.2h0M1281.7,749.9h0M1305.4,749.9h0M1281.2,751.6h0M1305.8,751.6h0M1281.3,753.3h0M1305.5,753.3h0M1281.2,755h0M1305.7,755h0M1281.7,756.7h0M1305.6,756.7h0M1281.5,758.4h0M1305.2,758.4h0M1281.7,760.1h0M1305.4,760.1h0M1281.5,761.8h0M1305.4,761.8h0M1281.7,763.4h0M1305.5,763.4h0M1281.3,765.1h0M1305.5,765.1h0M1281.2,766.8h0M1305.7,766.8h0M1281.5,768.5h0M1305.6,768.5h0M1281.3,770.2h0M1305.4,770.2h0M1281.5,771.9h0M1305.3,771.9h0M1281.3,773.6h0M1305.6,773.6h0M1281.7,775.3h0M1305.6,775.3h0M1281.4,777h0M1305.4,777h0M1281.3,778.7h0M1305.5,778.7h0M1281.6,780.4h0M1305.1,780.4h0M1281.6,782.1h0M1305.6,782.1h0M1281.7,783.8h0M1305.6,783.8h0M1281.5,785.4h0M1305.4,785.4h0M1281.7,787.1h0M1305.3,787.1h0M1281.9,788.8h0M1305.1,788.8h0M1281.5,790.5h0M1305.5,790.5h0M1281.9,792.2h0M1305.4,792.2h0M1281.6,793.9h0M1305,793.9h0M1281.8,795.6h0M1305.1,795.6h0M1282,797.3h0M1305.5,797.3h0M1281.5,799h0M1305.4,799h0M1281.9,800.7h0M1305.5,800.7h0M1294.2,554.8h0M1284.5,595.9h0M1284.5,606.5h0M1301.7,614.3h0M1300.2,616.7h0M1299.8,620.1h0M1298.7,622.5h0" fill="none" stroke="#000" stroke-width="3.9" stroke-linecap="round"/>
<path d="M1287.5,805.8 L1299.5,805.8 L1298,807.9 L1293.5,810.1 L1289,807.9 Z" fill="#ED1C24" stroke="#ED1C24" stroke-width="1" stroke-linejoin="round"/>
<text x="1154.8" y="658.6" font-size="24.2" fill="#ED1C24" style="fill:#ED1C24">Erdr1</text>
<path d="M1166.8,665.5 L1146.3,683.1" stroke="#000" stroke-width="1.1"/>
</g>
<g id="volcano-4">
<path d="M1605.9,502.6 V820.2 H1966 M1605.9,502.6 H1966" fill="none" stroke="#555" stroke-width="0.9"/>
<path d="M1605.9,518.5 h-5.6 M1605.9,566.9 h-5.6 M1605.9,615.2 h-5.6 M1605.9,663.6 h-5.6 M1605.9,711.9 h-5.6 M1605.9,760.3 h-5.6 M1605.9,808.7 h-5.6 M1633.8,820.2 v7 M1708.6,820.2 v7 M1783.4,820.2 v7 M1858.2,820.2 v7 M1933,820.2 v7 " fill="none" stroke="#444" stroke-width="0.9"/>
<text x="1588.4" y="528.7" text-anchor="end" font-size="28.6">0</text>
<text x="1588.4" y="577.1" text-anchor="end" font-size="28.6">1</text>
<text x="1588.4" y="625.4" text-anchor="end" font-size="28.6">2</text>
<text x="1588.4" y="673.8" text-anchor="end" font-size="28.6">3</text>
<text x="1588.4" y="722.1" text-anchor="end" font-size="28.6">4</text>
<text x="1588.4" y="770.5" text-anchor="end" font-size="28.6">5</text>
<text x="1588.4" y="818.9" text-anchor="end" font-size="28.6">6</text>
<text x="1633.5" y="860.4" text-anchor="middle">−10</text>
<text x="1708.3" y="860.4" text-anchor="middle">−5</text>
<text x="1783.4" y="860.4" text-anchor="middle">0</text>
<text x="1858.2" y="860.4" text-anchor="middle">5</text>
<text x="1933" y="860.4" text-anchor="middle">10</text>
<text x="1783.9" y="901.9" text-anchor="middle">Log2 (fold-change)</text>
<text x="1547.9" y="664.6" text-anchor="middle" font-size="28.9" transform="rotate(-90 1547.9 664.6)">–Log10 (<tspan class="i">p</tspan> value)</text>
<text x="1633.5" y="544.9" font-size="25.1">Down in GF</text>
<text x="1814.9" y="544.9" font-size="25.1">Up in GF</text>
<path d="M1635.8,560.2 L1652.8,551.7 V557.2 H1763.9 V563.2 H1652.8 V568.7 Z" fill="#ED1C24"/>
<path d="M1932.1,560.2 L1915.1,551.7 V557.2 H1804 V563.2 H1915.1 V568.7 Z" fill="#4472C4"/>
<polygon points="1771,746.8 1757.2,746.8 1757.2,796.4 1758.6,796.8 1760,797.1 1761.4,797.5 1762.7,797.9 1764.1,798.3 1765.5,798.7 1766.9,799.1 1768.3,799.6 1769.6,800 1771,800.5" fill="#3C54A4"/>
<polygon points="1771,746.8 1761,746.8 1771,716.8" fill="#6ABD45"/>
<polygon points="1795.8,746.8 1809.6,746.8 1809.6,796.4 1808.2,796.8 1806.8,797.1 1805.4,797.5 1804.1,797.9 1802.7,798.3 1801.3,798.7 1799.9,799.1 1798.5,799.6 1797.2,800 1795.8,800.5" fill="#3C54A4"/>
<polygon points="1795.8,746.8 1805.8,746.8 1795.8,716.8" fill="#6ABD45"/>
<polygon points="1776.4,682.9 1775.4,685.3 1774.6,687.8 1773.9,690.2 1773.4,692.6 1772.8,695 1772.3,697.4 1771.9,699.8 1771.4,702.3 1771,704.7 1770.7,707.1 1770.7,709.5 1770.8,711.9 1770.8,714.4 1770.8,716.8 1770.8,719.2 1770.8,721.6 1770.8,724 1770.9,726.4 1770.9,728.9 1770.9,731.3 1770.9,733.7 1770.9,736.1 1770.9,738.5 1770.9,741 1770.9,743.4 1771,745.8 1771,748.2 1771,750.6 1771,753 1771,755.5 1771,757.9 1771,760.3 1771,762.7 1771.1,765.1 1771.1,767.6 1771.1,770 1771.1,772.4 1771.1,774.8 1771.1,777.2 1771.1,779.6 1771.2,782.1 1771.2,784.5 1771.2,786.9 1771.2,789.3 1771.2,791.7 1771.2,794.2 1771.2,796.6 1771.2,799 1771.3,801.4 1769.5,800.9 1777.1,806.5 1783.4,808.7 1789.7,806.5 1797.3,800.9 1795.5,801.4 1795.6,799 1795.6,796.6 1795.6,794.2 1795.6,791.7 1795.6,789.3 1795.6,786.9 1795.6,784.5 1795.6,782.1 1795.7,779.6 1795.7,777.2 1795.7,774.8 1795.7,772.4 1795.7,770 1795.7,767.6 1795.7,765.1 1795.8,762.7 1795.8,760.3 1795.8,757.9 1795.8,755.5 1795.8,753 1795.8,750.6 1795.8,748.2 1795.8,745.8 1795.9,743.4 1795.9,741 1795.9,738.5 1795.9,736.1 1795.9,733.7 1795.9,731.3 1795.9,728.9 1795.9,726.4 1796,724 1796,721.6 1796,719.2 1796,716.8 1796,714.4 1796,711.9 1796.2,709.5 1796.3,707.1 1796.2,704.7 1795.9,702.3 1795.5,699.8 1795.1,697.4 1794.8,695 1794.3,692.6 1793.9,690.2 1793.3,687.8 1792.6,685.3 1791.7,682.9" fill="#000"/>
<path d="M1814.7,742h0M1814.9,719.7h0M1754.1,686.3h0M1808.6,725h0M1758.8,726.4h0M1762.7,742.7h0M1853.1,744.7h0M1770.1,707.1h0M1757.8,728.6h0M1797.4,712.2h0M1769.2,718.1h0M1801.9,730.2h0M1800.6,731h0M1803.7,680h0M1736.3,737.3h0M1754.7,697.5h0M1820.3,699h0M1800.8,742.4h0M1814.1,742.2h0M1769.5,742.8h0M1752.7,739h0M1761.5,732.5h0M1820.5,725.1h0M1752.2,713.5h0M1769.8,712.4h0M1765.7,738.1h0M1797.1,744.5h0M1751.6,743.4h0M1731,715.1h0M1825.9,738.9h0M1744.9,723.5h0M1739.7,744.2h0M1800.2,724h0M1758.6,732.7h0M1805.1,745.2h0M1759.9,661.7h0M1802.6,715.8h0M1758.4,737.5h0M1806.6,744h0M1815.2,733.7h0M1770.1,724.5h0M1763.4,698.2h0M1761,685.9h0M1769.4,728h0M1819.4,742.2h0M1737.1,743.5h0M1768,741.9h0M1752.7,744.3h0M1765,734.3h0M1810.1,736.3h0M1767.3,742.9h0M1807.8,709.2h0M1769.3,739.8h0M1757.7,741.4h0M1730.3,743h0M1767.4,683.6h0M1801.8,735.1h0M1834.7,724.9h0M1798.9,724.5h0M1768.4,697.8h0M1764.2,733.6h0M1799.6,724.3h0M1767.4,721.1h0M1803.6,730.5h0M1802.1,722.4h0M1767.1,717.6h0M1797.8,744h0M1806.4,707.2h0M1836.1,735.9h0M1757.6,726h0M1810.1,721.7h0M1767.9,741.8h0M1763.4,719.4h0M1764.3,729.7h0M1802.1,728.5h0M1818.6,728.8h0M1754,734.3h0M1767.3,706.2h0M1751.4,735.2h0M1805.3,725h0M1747.2,731.6h0M1720.8,743.7h0M1747.8,712h0M1760,742h0M1805.9,741.4h0M1770.2,713.3h0M1763.4,724.3h0M1814.2,733.5h0M1762,710.9h0M1767,704.7h0M1810.8,729.4h0M1808.9,735.4h0M1767.1,741.6h0M1766.4,723.1h0M1758.7,732h0M1748.2,739.7h0M1763.3,721.1h0M1805.2,702.7h0M1810.8,739.4h0M1750.9,738h0M1767.9,717.7h0M1765.7,699.1h0M1748.4,712.2h0M1800,732.7h0M1769.3,735.7h0M1766.8,712h0M1756.9,721h0M1798.4,733.9h0M1735.9,740h0M1843.5,737.5h0M1770.3,738h0M1749.7,723.3h0M1799.1,739.9h0M1798.3,732.2h0M1823.8,730.4h0M1767.7,743.3h0M1764.7,718.6h0M1756,745h0M1763.4,666.3h0M1758.4,743h0M1761.7,720.1h0M1801.4,735.4h0M1826.6,725.4h0M1808.9,721.3h0M1768.8,745h0M1753.8,741.6h0M1765.8,745h0M1804.6,728.3h0M1798,661.8h0M1819.4,730.6h0M1770.3,743.5h0M1734.4,744.8h0M1766,741.1h0M1762.5,721.2h0M1803.4,740.7h0M1735.4,726.5h0M1797.5,729.5h0M1735.5,705.2h0M1796.9,695.5h0M1824,743.5h0M1796.8,734.2h0M1803.8,735.3h0M1813.5,719.3h0M1752.5,689.9h0M1768.8,730.7h0M1804.4,716.1h0M1768.9,703.8h0M1800.3,737.7h0M1767.3,739.7h0M1811.6,721.4h0M1750.3,741.1h0M1802.6,720h0M1767.9,733.6h0M1801.7,731.7h0M1769,742.1h0M1798.3,737.4h0M1813.4,738.4h0M1766.2,738h0M1766.2,730.1h0M1737.1,723.4h0M1761.1,724.4h0M1741.9,707.3h0M1750.1,728.8h0M1813.3,682.4h0M1799.3,741.2h0M1764.6,740h0M1817.2,715.8h0M1763.1,733.3h0M1802.3,735.7h0M1767.7,734.1h0M1797.4,719.1h0M1832.3,725.1h0M1742.7,739.5h0M1769.2,731.7h0M1765,743.3h0M1768.9,672.6h0M1797.2,743.3h0M1797.4,720.1h0M1806.1,719h0M1767.9,725.1h0M1837.3,723.4h0M1769.8,707.9h0M1797.4,744.3h0M1806.2,744.4h0M1828.3,699.5h0M1799.4,713.3h0M1734.8,736.4h0M1767.2,738.4h0M1809.5,740.7h0M1759.1,743.7h0M1806.2,732.3h0M1810,713.5h0M1805,726.3h0M1806.6,742.9h0M1796.5,743.2h0M1742.6,744.5h0M1815.3,712.6h0M1762.5,730.1h0M1766.5,744.3h0M1766.6,689h0M1768.8,728.9h0M1767.6,739h0M1764.8,728.7h0M1799.6,730.9h0M1798.5,712h0M1831.7,733.9h0M1760.4,737.4h0M1765.1,743.5h0M1764.7,744.3h0M1800.4,718.8h0M1798.4,743.7h0M1741.9,721.7h0M1765.4,742.6h0M1806.1,718.3h0M1761.1,721.1h0M1832.4,743h0M1799.7,744.8h0M1815.4,715.9h0M1767,736.8h0M1801.1,685.9h0M1818,710.1h0M1798.5,731.7h0M1802.7,736.2h0M1809.4,741.1h0M1749.4,743.6h0M1799.4,651.5h0M1755.2,740.8h0M1800.7,730.3h0M1762.9,745.3h0M1755.5,739.5h0M1768.3,715.8h0M1821.4,739.6h0M1807.8,735.4h0M1825.6,722.5h0M1766,730.9h0M1801.5,702.1h0M1832.9,738.3h0M1762.2,740.3h0M1762.8,717h0M1748.6,729.8h0M1800.3,732h0M1768.4,742.6h0M1834.2,730.5h0M1810.7,716.4h0M1750.5,737.8h0M1766.6,744.5h0M1796.9,737.3h0M1814.4,744h0M1766.2,734.1h0M1764.2,744.6h0M1722.7,741.7h0M1807.4,735.9h0M1737.3,720.6h0M1801.2,744.1h0M1805.9,706.7h0M1755.6,708h0M1802.8,743.2h0M1815.9,715.7h0M1754.8,742.1h0M1802.6,732.7h0M1757,743.6h0M1797.5,736h0M1762.8,715h0M1764,742.7h0M1798,714.6h0M1767.8,731.3h0M1755,705.1h0M1837.9,718.4h0M1815.6,743.2h0M1770.2,738.2h0M1763.3,740.5h0M1767.9,717h0M1755.3,733.6h0M1804.8,734.6h0M1806.8,706.6h0M1800.1,741h0M1806.7,723.8h0M1768.8,720.2h0M1797.4,731.8h0M1766.5,701.1h0M1769.6,736.4h0M1763,742.1h0M1798,731.4h0M1749.8,730.3h0M1845.6,725.1h0M1804.4,742.9h0M1804.7,734.7h0M1749.3,680.6h0M1769.1,719h0M1840.3,723.6h0M1758.3,743.5h0M1759.8,737.9h0M1764.5,689h0M1808.4,731.2h0M1770.2,726.8h0M1752.3,721.5h0M1742.6,732.4h0M1764.8,706h0M1833.3,739.8h0M1763.5,730.2h0M1765.3,716.1h0M1817.7,731.6h0M1803.2,739.4h0M1743.3,719h0M1803.4,728.3h0M1757.2,730h0M1770.2,724.8h0M1803.2,722.2h0M1758.4,712.5h0M1809.4,742.7h0M1809,700.9h0M1811.4,693h0M1755.9,743.2h0M1767.5,739.4h0M1766.8,743.1h0M1768.5,732.9h0M1768.9,696.7h0M1723.3,745h0M1744.4,736.6h0M1770.1,741h0M1809.8,687.4h0M1768.4,736h0M1817.1,734h0M1769.3,741.2h0M1807.4,671.5h0M1768.9,732.9h0M1763.5,736.6h0M1760.9,735.7h0M1801.4,708.2h0M1806.9,708h0M1798.3,677.8h0M1804.7,736h0M1766.8,737.7h0M1769.8,740h0M1822.3,737.5h0M1756.2,724.3h0M1765.6,736.1h0M1812.8,740.2h0M1758.6,719.8h0M1820.1,718.7h0M1764.7,735.2h0M1808.6,743.8h0M1817.2,733.3h0M1832,741.6h0M1797.4,742.2h0M1753,744.6h0M1749.2,706h0M1805.2,710.5h0M1764.2,723.1h0M1798.3,733.5h0M1769,719.8h0M1761.8,745.2h0M1799.2,731.2h0M1750,704.5h0M1845.5,726.8h0M1763.1,686.5h0M1769.3,730.3h0M1762.5,725.5h0M1756.6,733.2h0M1799.3,734h0M1767.4,733.3h0M1761.3,734.4h0M1723.8,724.6h0M1799.5,708.1h0M1804.7,701.4h0M1740.7,705.5h0M1760.7,707.2h0M1801.2,736.1h0M1769.6,739.9h0M1766.8,721.1h0M1796.9,741.4h0M1758.6,704.4h0M1796.8,733h0M1799.6,741.3h0M1749.1,715h0M1829.9,744.4h0M1832.8,723.1h0M1757.6,736.8h0M1813.4,678h0M1802.3,713.5h0M1798.7,715h0M1826.3,693.8h0M1798.3,729.4h0M1761.8,738.9h0M1803.3,701.3h0M1831.5,737.3h0M1802.1,734.4h0M1768.1,733.9h0M1754.5,702.8h0M1806.7,686.6h0M1800.1,744.4h0M1811.8,741.5h0M1815.3,739.6h0M1799.7,742.3h0M1797.5,726.6h0M1833.9,744.1h0M1762.6,740.4h0M1769.4,740.6h0M1817.1,732.9h0M1767.8,726h0M1805.1,744.7h0M1764.6,744.7h0M1770,701h0M1797.1,732.4h0M1801,744.9h0M1806.8,735.2h0M1809.3,745h0M1746.9,728.3h0M1808.9,735.6h0M1765.3,706h0M1803.9,732.1h0M1743.2,713.1h0M1762,717h0M1806.3,742.8h0M1798.5,721.4h0M1812.8,739.1h0M1765.7,730.5h0M1810.1,744.5h0M1751.2,728.2h0M1798.7,744.6h0M1796.9,730.5h0M1804.2,714.8h0M1725.8,743.2h0M1821.8,729.7h0M1805.2,740.1h0M1798.8,711.6h0M1797.1,726.5h0M1752,722.9h0M1758.3,742.7h0M1796.9,742.8h0M1802.3,701.3h0M1756.4,718.7h0M1762.1,745.2h0M1755.6,737.2h0M1761.4,731.3h0M1761.6,690.2h0M1805.2,720.3h0M1763.9,740.4h0M1719.9,736.4h0M1796.9,704.8h0M1761,745.3h0M1770.3,710.3h0M1742.3,735.1h0M1821,728h0M1757.5,738.5h0M1767.5,704.1h0M1839.4,741h0M1768,695.1h0M1814.7,736.3h0M1759.4,736.7h0M1766.5,721.7h0M1802.7,717.7h0M1769.7,730.5h0M1801.4,732.3h0M1808.4,722.3h0M1827.6,732h0M1838.6,742.6h0M1765.2,734.8h0M1849.1,742h0M1766.6,743h0M1797.8,694.2h0M1802.1,717.7h0M1767.6,735.8h0M1769.3,735.4h0M1768.1,733.1h0M1767.2,744h0M1768.9,744.5h0M1801.7,734.6h0M1757.8,726.6h0M1797.4,716h0M1804.2,739h0M1741.6,741.5h0M1830.8,708.1h0M1767.5,664.5h0M1802.3,712h0M1819.5,730.6h0M1798.8,699.9h0M1755.6,730.4h0M1747.5,720.1h0M1824,739.5h0M1796.8,742.9h0M1851.6,738.4h0M1798.8,725.5h0M1760.6,729.6h0M1748.8,742.5h0M1796.8,730.6h0M1815,736.2h0M1798.9,678.5h0M1797.6,688.2h0M1807.4,716.5h0M1801.6,673.8h0M1750.7,730.6h0M1762.7,713.6h0M1796.9,743.2h0M1803.4,695.1h0M1756.8,737.1h0M1759.4,736.9h0M1769.8,742.8h0M1736.4,744.9h0M1770.2,743.8h0M1805.2,744h0M1767.3,704.1h0M1762.9,737.1h0M1747.2,707.2h0M1766.4,734.6h0M1828.1,742.3h0M1765.1,729.8h0M1766.8,729h0M1747.4,709.5h0M1753,724.5h0M1749.4,716.6h0M1770.3,742h0M1809,706.1h0M1767.6,657.1h0M1801.9,740.3h0M1766.4,715.9h0M1798.6,734.1h0M1768,651h0M1801.7,739.1h0M1798.4,744.5h0M1756.2,730.4h0M1767,706.3h0M1798.5,741.3h0M1806.5,698.9h0M1830.9,724.3h0M1768.7,733.7h0M1806.9,686.5h0M1808.4,743.9h0M1769.2,682.4h0M1765.1,732.3h0M1825.4,729.9h0M1805,740.1h0M1822.3,727h0M1826.6,729.2h0M1761.2,735.1h0M1761.8,744.8h0M1757.1,743.9h0M1797.9,723.5h0M1741.6,726.7h0M1767.4,707h0M1826.5,729.7h0M1765.1,716.9h0M1766.8,725h0M1806.2,733.5h0M1806.8,731.1h0M1802.2,705.9h0M1756.9,729h0M1832,721.9h0M1764.9,708h0M1756,741.6h0M1808.5,708.2h0M1759.1,721.3h0M1826.2,736.2h0M1799,731.7h0M1768,728.5h0M1798.1,729h0M1813.5,735h0M1797.1,734.4h0M1819.7,716.2h0M1801.3,691h0M1737.9,719.1h0M1769,741.2h0M1760.2,702.3h0M1802.4,723h0M1806.6,732h0M1809.9,743.7h0M1804.2,722.5h0M1822.1,737.4h0M1762.3,742.1h0M1767.5,716.9h0M1796.6,716.1h0M1804.3,599.7h0M1802.8,605.5h0M1808.1,624.4h0M1762.5,633.6h0M1766.2,638.4h0M1799.1,644.2h0M1724.3,649.1h0M1737.8,647.6h0M1741.5,663.6h0M1841.7,649.1h0M1814.8,652.5h0M1869.4,661.2h0M1856,676.6h0M1809.6,661.2h0M1812.6,667h0M1714.6,705.7h0M1731.8,698.4h0M1669,726.4h0M1715.3,741h0M1907.6,698.4h0M1883.6,709.5h0M1867.2,692.6h0M1864.2,707.1h0M1860.4,719.2h0M1867.2,721.6h0M1853.7,708.1h0M1847.7,687.8h0M1836.5,692.6h0M1843.2,709.5h0M1837.3,711.9h0M1852.2,738.5h0M1853,743.4h0M1633.8,667h0M1633.8,686.3h0M1633.8,688.7h0M1633.8,732.3h0M1633.8,734.7h0M1933,650.5h0M1933,653.9h0M1933,673.3h0M1933,682h0M1933,685.3h0M1933,687.8h0M1933,695h0M1933,698.4h0M1933,702.3h0M1933,706.1h0M1933,714.4h0M1933,717.7h0M1933,721.6h0M1933,725.5h0M1933,729.3h0M1933,733.7h0M1933,737.1h0M1933,741h0M1933,744.8h0" fill="none" stroke="#6ABD45" stroke-width="3.9" stroke-linecap="round"/>
<path d="M1802,797.7h0M1807.6,784.1h0M1803,786.8h0M1752.4,781.6h0M1763.1,759.3h0M1725.2,768.8h0M1810,780.7h0M1768.2,781.4h0M1821.5,788.7h0M1768.8,770.8h0M1798.8,785.1h0M1768.5,759h0M1769,768.6h0M1759,760.5h0M1765.6,758.9h0M1763.7,783.8h0M1820.9,766.9h0M1768,775.4h0M1803.9,787.1h0M1745.5,783.1h0M1799.5,790.8h0M1755.2,783h0M1720.7,780.7h0M1810,786h0M1808.3,755.8h0M1766.8,770.6h0M1810.9,771.5h0M1798.2,785.1h0M1739.6,767.2h0M1824.7,770.8h0M1815.9,765.6h0M1813.1,761.9h0M1766.9,763.5h0M1810.4,753.5h0M1760.6,781.5h0M1802,763.5h0M1750,772.4h0M1760.5,776h0M1824.2,787.6h0M1767.4,786.6h0M1758.1,776.3h0M1763.6,796.6h0M1769.1,785.2h0M1800.1,772.4h0M1801.2,765.2h0M1808.6,789.5h0M1808.9,772h0M1816.5,782.5h0M1768.5,776h0M1800.4,761.1h0M1801.3,764.5h0M1831.1,786.5h0M1758.9,796.3h0M1753.5,780.6h0M1816.8,766.8h0M1807.6,772.7h0M1766.8,793.4h0M1799.1,784.3h0M1797.5,792.1h0M1808.9,778.2h0M1764.1,761.1h0M1807.8,784h0M1798,779.3h0M1767.2,761.1h0M1798.3,784.7h0M1797.4,768.3h0M1803.1,753.9h0M1810.5,786h0M1805.8,760.5h0M1764.4,769.7h0M1799.5,759.8h0M1768.9,749.9h0M1825.4,770.2h0M1767.2,794.8h0M1743.9,790.5h0M1806.2,794.3h0M1802.3,760.2h0M1815,785.9h0M1805.2,764.5h0M1807.4,759.4h0M1751.2,750.7h0M1806.1,761.3h0M1801.2,764.8h0M1801,755.7h0M1799.2,793.8h0M1764.3,795.9h0M1829.1,773.7h0M1803.7,763h0M1768.9,782.7h0M1767.5,773.5h0M1761.5,779h0M1820.7,779.1h0M1758.2,773.9h0M1760.6,786.1h0M1750.6,792.8h0M1768.6,785.7h0M1804.4,773.3h0M1824.4,762.6h0M1740,786.9h0M1803,775.3h0M1813.3,778.8h0M1743.6,778.3h0M1756.4,765.8h0M1737,781.1h0M1805.2,786.5h0M1761.2,759.5h0M1768.6,795h0M1816.6,792.6h0M1768.1,765.1h0M1764.7,749.2h0M1798.2,754.5h0M1752.3,781.1h0M1767.1,766.5h0M1735.7,761.7h0M1798.2,760h0M1767.3,775.3h0M1766.3,763.1h0M1764.8,791.8h0M1802.4,775.8h0M1815.6,779.9h0M1799.1,755.9h0M1799.1,774.2h0M1820.9,791.8h0M1800.3,769.7h0M1760.8,766.2h0M1724.3,764.3h0M1761.4,793.1h0M1813.9,782.1h0M1828.4,780h0M1800.3,756.1h0M1799.2,783.7h0M1769.4,774.8h0M1767.2,797h0M1837.3,772.2h0M1824.1,769.3h0M1797.6,789h0M1799.9,769.8h0M1769.2,769.2h0M1811.8,790.3h0M1760.8,774.8h0M1801.1,760.2h0M1799,774.1h0M1766.5,776.3h0M1768.6,759.3h0M1769,770.6h0M1759.4,796.3h0M1818.4,766.7h0M1736.3,789.4h0M1769.4,774.4h0M1797.3,755.3h0M1798.8,778.9h0M1761.9,771.6h0M1768.5,797.8h0M1810.5,780.3h0M1768.4,789.3h0M1814.7,758.8h0M1767.4,798h0M1760.9,757.2h0M1798.1,797.3h0M1797.8,761.5h0M1817.8,756.9h0M1802.3,766.8h0M1768.8,774.5h0M1802.1,765.2h0M1758.2,793h0M1797.3,788h0M1808.9,758.6h0M1814.3,760.3h0M1810,786.9h0M1761.6,775.5h0M1758.1,758.7h0M1756.8,762.1h0M1757.9,765.9h0M1749.2,751.1h0M1753.8,793.8h0M1808.3,773.3h0M1829.6,785.6h0M1797.8,774h0M1756.8,792.5h0M1815.3,790.9h0M1760.8,750.2h0M1804.7,768.7h0M1799.7,790.3h0M1755,767.9h0M1810.6,763.4h0M1752.2,790.1h0M1764,787.8h0M1818,761.6h0M1742.4,778h0M1765.7,776.5h0M1797.4,771.7h0M1752,776h0M1809.4,771.9h0M1759.3,789.4h0M1760.4,771.6h0M1768.4,784h0M1758.3,796.2h0M1834,788.2h0M1738.1,765.2h0M1804.3,765.1h0M1741.9,766.4h0M1763.5,769.5h0M1760.6,758.5h0M1755.8,790.1h0M1759.6,764.2h0M1827.4,785.2h0M1755.8,789.1h0M1814.6,748.3h0M1757.8,779.5h0M1800,775.4h0M1743.6,779.6h0M1751.3,789.5h0M1851.3,770.1h0M1763.4,767h0M1801,793.8h0M1767,770h0M1761.6,763h0M1759.9,792.3h0M1804.6,777h0M1798.1,792.7h0M1759.1,779.9h0M1754.1,789.3h0M1755.9,763.2h0M1802.1,778.2h0M1847.9,769.5h0M1762.8,772.7h0M1800.1,784.5h0M1797.4,768.3h0M1800.4,796.6h0M1810.5,784.6h0M1768.7,794.1h0M1767,772h0M1799.5,796h0M1765.5,792.5h0M1768.2,771.6h0M1762.3,780.8h0M1751.2,785.2h0M1768.5,769.3h0M1814.6,759.7h0M1758.6,770.5h0M1766.8,774.6h0M1828.9,789.1h0M1797.9,783.2h0M1802,757.3h0M1726.3,775.8h0M1804.4,754.8h0M1804.6,762.2h0M1750,771.4h0M1769.5,795.4h0M1759.6,794.1h0M1798.3,757.3h0M1758.1,778.4h0M1759.5,768.3h0M1767.6,796.1h0M1765.1,767.9h0M1764.3,787.4h0M1825.2,768.9h0M1800.7,795.3h0M1757,787.2h0M1809.6,775.3h0M1798.2,750.6h0M1831,756.5h0M1769.4,748.5h0M1766.7,790.7h0M1766.4,752.6h0M1804.2,783h0M1803.7,762.1h0M1734,770.5h0M1802.2,766.4h0M1752.5,765.7h0M1818.1,752.8h0M1762.3,792.6h0M1809,755.9h0M1802.9,762.1h0M1763,757h0M1764.9,752.3h0M1763.5,782.9h0M1768.7,793.1h0M1799.6,752.2h0M1846.1,775.5h0M1769.2,753.2h0M1751,777.2h0M1764.9,767.1h0M1764.9,788.1h0M1763.5,778.4h0M1814.7,763.4h0M1769.2,799.2h0M1760.8,796.9h0M1804,783.9h0M1800.2,776.8h0M1805.5,752.1h0M1745.3,779.4h0M1763.3,776.4h0M1802.8,788.2h0M1806.5,759.5h0M1753.8,786.6h0M1805.3,762.7h0M1802.9,779.7h0M1752.6,791.5h0M1766.3,778.4h0M1801.9,780.3h0M1759.8,773.2h0M1754.5,784.3h0M1832.5,790.5h0M1800,786.2h0M1801.4,767.8h0M1754.9,750.6h0M1803.2,767h0M1802,779.9h0M1748.6,780.3h0M1810.2,793.8h0M1766.3,752.5h0M1768.4,761h0M1799,789.3h0M1765.6,772.4h0M1799.7,775.1h0M1766.1,781.6h0M1797.5,760.5h0M1765.5,771.1h0M1826.4,770h0M1769,763.8h0M1768.8,797.1h0M1806.6,794h0M1762.9,775h0M1759.4,758.8h0M1768.5,748.8h0M1753.1,759.6h0M1764.5,755.5h0M1767,788.4h0M1768.4,786.7h0M1762.4,762.5h0M1804.6,770h0M1751.7,777.1h0M1806.4,790.3h0M1763.7,774h0M1798.7,775.3h0M1803.2,767.3h0M1768.8,787.7h0M1820.5,779.8h0M1765.6,748.9h0M1841.2,772.2h0M1820.2,786.5h0M1765.4,793.3h0M1765.6,753.7h0M1817.8,775.7h0M1804.4,784.1h0M1766.1,793h0M1801.2,757.7h0M1797.2,779.1h0M1763.4,771.7h0M1746.2,787.4h0M1801.2,777.8h0M1721.3,777.8h0M1811.2,788.7h0M1746.1,790.4h0M1743,786.4h0M1824.3,772.3h0M1763.6,790.6h0M1763,774.3h0M1799,753.1h0M1815.3,767.2h0M1761.9,797h0M1800.4,758.8h0M1757.6,769.6h0M1804.4,761.8h0M1799.6,775.3h0M1765.6,756.7h0M1798,781.9h0M1761.9,775.1h0M1757.6,793.1h0M1765.4,772.5h0M1807.9,770.6h0M1801.3,787.5h0M1766.2,770.7h0M1743.6,778h0M1797.4,788h0M1753.5,787.9h0M1813.1,781h0M1768.5,792h0M1811.5,750.9h0M1762.7,797.3h0M1762.2,767.6h0M1820,777.9h0M1740.4,778h0M1803.5,762.8h0M1769.4,795.1h0M1812.8,780.2h0M1809.4,789.2h0M1759.6,787.3h0M1809.8,774.6h0M1762.2,792.2h0M1766.8,764.8h0M1750,787.2h0M1801.1,769.4h0M1768.1,753.7h0M1766.7,766.6h0M1765.8,795.8h0M1764.7,788.5h0M1828.3,783.8h0M1800.5,760.7h0M1800,775.8h0M1757.8,761.2h0M1806,782.5h0M1804.3,758.6h0M1760.2,789.4h0M1820.9,774.3h0M1765.2,753.4h0M1759.5,795.1h0M1805.5,768.7h0M1749.1,793.3h0M1808.6,756.2h0M1766.3,769.9h0M1755.7,785.2h0M1749.9,794h0M1798.9,787.6h0M1754.1,749.9h0M1754.9,772.5h0M1814.9,754.6h0M1799.1,773.7h0M1763.5,762.4h0M1766.6,764h0M1811.7,777.6h0M1803,795.6h0M1821.9,791.3h0M1765.7,755h0M1733.6,777.2h0M1765.9,785.1h0M1744.4,758.6h0M1769.2,776.1h0M1809.5,757.4h0M1766.6,760.1h0M1801.2,785.5h0M1767.9,765.4h0M1767.6,781h0M1801.6,773.6h0M1764.9,795.7h0M1759,775.9h0M1807.2,795.8h0M1756,785.1h0M1797.3,764.1h0M1731.5,752.3h0M1803.2,769.5h0M1800.2,768.6h0M1799,783.9h0M1810.1,782.5h0M1808.3,774h0M1814,781.5h0M1760.4,760.8h0M1762.5,750h0M1840.4,785.2h0M1767.7,761.1h0M1814.8,777.5h0M1805.3,788.5h0M1798.6,767.6h0M1800.9,787.4h0M1742.7,770.3h0M1758.8,774.4h0M1734.3,775.7h0M1763.4,768.4h0M1819.3,759h0M1753.7,765.9h0M1806.9,760.4h0M1768.6,769.9h0M1818.4,761.8h0M1756.7,766.7h0M1811.8,768.4h0M1753.9,793.3h0M1809.6,749.8h0M1805.9,756.8h0M1797.8,781.9h0M1767.1,758.1h0M1760.2,796.1h0M1755.2,770.5h0M1760.6,758.1h0M1766.6,780.8h0M1762.5,753.7h0M1798.4,789.9h0M1748.7,749.3h0M1727.2,762.6h0M1798,765.1h0M1734.2,772.2h0M1753.1,787h0M1809.8,756.2h0M1750.6,774.4h0M1766.2,751.7h0M1756.2,790.5h0M1808.6,776.5h0M1764.6,767.3h0M1743.4,772.5h0M1806.8,783.6h0M1760.3,767.6h0M1768,798.4h0M1807.3,780.7h0M1750.9,771.2h0M1766.6,797.2h0M1800.5,778.6h0M1812.7,770h0M1743.1,763.9h0M1754.3,748.7h0M1817.7,761.7h0M1799.2,788.6h0M1756.9,761.1h0M1736.9,769.9h0M1769,793.7h0M1759.6,788h0M1798.9,791.3h0M1804.4,782h0M1747.6,782.8h0M1804.5,789.4h0M1756.9,760.5h0M1767.3,771.2h0M1804.5,764h0M1847,776.3h0M1762.1,793.1h0M1761.3,757.2h0M1811.2,777.2h0M1740.1,778.4h0M1828.9,779.6h0M1799.2,786.4h0M1821.7,774.4h0M1799.1,792h0M1760.7,793h0M1815.7,757.3h0M1819.3,780.9h0M1814.9,769.8h0M1758.6,793.3h0M1799.1,751.2h0M1809,791.4h0M1734.3,775.6h0M1801.9,773.3h0M1763,784.7h0M1751.8,748.9h0M1767.8,789.6h0M1807.1,773.6h0M1752.5,768.4h0M1757.7,760.8h0M1768.3,776.6h0M1838.4,762.8h0M1768.8,779.5h0M1820.6,758.8h0M1810.1,763h0M1760.6,764.4h0M1824.1,790.8h0M1801,784.8h0M1755,785.2h0M1738.8,773h0M1758.8,778h0M1757,775.5h0M1797.5,791.5h0M1807.3,786.1h0M1763.8,758.5h0M1801,784.2h0M1801.6,777.2h0M1811.9,779.8h0M1811.8,752.7h0M1762.4,756.4h0M1769.2,748.8h0M1742.9,784.7h0M1768.9,761.3h0M1800.2,751.8h0M1805.9,779.7h0M1765.9,798.2h0M1769,796.5h0M1762.1,786.6h0M1768.1,773.5h0M1807.6,752.3h0M1767.8,775.4h0M1766.1,788h0M1748.6,786.5h0M1753.2,793.3h0M1766.6,775.8h0M1806.5,760.3h0M1767.5,794h0M1763.6,783.3h0M1756.5,758.1h0M1797.2,767.2h0M1759.6,785.7h0M1765.9,781.2h0M1801.9,792.6h0M1808.9,766h0M1810.5,780.2h0M1810.5,778.5h0M1818.4,788.3h0M1803.8,783.4h0M1750.7,762.7h0M1798.6,784.3h0M1764.5,775.8h0M1822.9,785.5h0M1758.2,756.4h0M1768.9,799.2h0M1799.3,762.6h0M1809.3,791.3h0M1763,792.2h0M1742.3,785.6h0M1750.8,754.4h0M1766.7,766.5h0M1821.1,772.8h0M1765.6,753h0M1734.8,777.1h0M1768.1,776.7h0M1752.5,776.7h0M1813.1,761.6h0M1749.5,770.2h0M1767.4,749.4h0M1764.6,774.1h0M1760.3,783.2h0M1769.3,784.5h0M1801.5,780.7h0M1766.8,778.5h0M1768,792.3h0M1823.9,779.9h0M1829.3,783.3h0M1768.4,797.1h0M1768.5,798.1h0M1763.3,752.4h0M1798.8,777.2h0M1756.1,763.3h0M1754.4,788.7h0M1809.6,771.3h0M1819.3,756.1h0M1748.8,755h0M1799.5,750.5h0M1769.5,773h0M1811.7,752.7h0M1804.3,783.2h0M1806.9,771.2h0M1752.7,782.5h0M1800.1,797.3h0M1768.9,776.1h0M1764.9,764.6h0M1756.5,763.4h0M1764.8,792.5h0M1769.6,771h0M1756.5,794.8h0M1836.9,764.6h0M1807.4,757.6h0M1810.3,787.1h0M1805.6,786.3h0M1762,773.5h0M1766.8,748.3h0M1804.1,778.5h0M1801.2,764.1h0M1825.3,775.3h0M1805.8,785h0M1758,755.1h0M1767.8,754.5h0M1802.6,776.3h0M1757.8,750.1h0M1802.5,773h0M1797.3,798.3h0M1828.4,789.7h0M1798.1,790.3h0M1832.9,788.4h0M1764.4,787.1h0M1804.5,769.7h0M1748.7,779.7h0M1799.3,760h0M1813,782.1h0M1801.2,787h0M1760.1,778.7h0M1802.9,773.4h0M1798,797.5h0M1767.2,756.2h0M1801.9,771.8h0M1797.8,778.1h0M1754.4,792h0M1745.9,783.6h0M1799.4,791.2h0M1758.3,796.2h0M1841.4,779.5h0M1822.6,778.5h0M1758.4,770.3h0M1800.1,789.5h0M1758.2,792.8h0M1766.7,757.9h0M1834,783.7h0M1840.9,780.9h0M1764.9,772.5h0M1801,759.9h0M1800.9,787.2h0M1799.6,770.7h0M1799.3,794.7h0M1769.6,797.3h0M1797.2,775.3h0M1825.8,774.9h0M1810.9,774.6h0M1802.9,765.7h0M1798.5,764.7h0M1817.1,773.8h0M1741.2,763.6h0M1822.1,753.7h0M1810.7,782.4h0M1799.7,791.3h0M1803.3,768.5h0M1797.5,793.8h0M1815.2,760h0M1763.9,781.2h0M1801.2,759.1h0M1805.8,794.9h0M1799.7,797.5h0M1797.6,778.5h0M1821.6,786h0M1801.9,778.5h0M1767.9,796.8h0M1768.4,772.7h0M1769.5,793.5h0M1755.9,768.9h0M1815.8,767.5h0M1756.6,774.4h0M1837,763.3h0M1762.2,781.6h0M1762.3,796h0M1804.2,777.9h0M1798.6,756.6h0M1767.6,784.6h0M1765.4,798h0M1801.9,790.8h0M1807.9,781.4h0M1807.5,795.3h0M1818.9,781.5h0M1801,786.3h0M1761.4,767.2h0M1802.5,773.7h0M1760.8,766h0M1800.7,792.7h0M1822.9,780.1h0M1767.9,789.9h0M1804.3,769.8h0M1797.7,793.5h0M1760.4,780h0M1762.3,794.1h0M1797.3,776.5h0M1799.5,761h0M1805.7,784.4h0M1750.6,762.9h0M1800.6,756.6h0M1802.1,755.1h0M1816.6,758.3h0M1765.4,786.4h0M1806.4,760.8h0M1820.2,777.5h0M1761.1,749.4h0M1815.3,789.6h0M1761,752.9h0M1764.8,762.6h0M1765.1,762h0M1766.5,750.4h0M1760.3,782.1h0M1763.2,794.5h0M1749.1,787.7h0M1769.4,794.7h0M1769,768.6h0M1747.7,763.5h0M1803.3,777.9h0M1815.3,780h0M1808.9,766h0M1805.4,752.9h0M1810.4,759h0M1769.1,756.6h0M1797.7,791h0M1803.7,779.9h0M1822.7,761.9h0M1801.1,773.9h0M1768.7,795h0M1802.5,783.6h0M1808.6,782.1h0M1737.5,774.9h0M1766.9,779.4h0M1759.7,792.3h0M1749.4,781.6h0M1769,763.9h0M1809.6,775.8h0M1742,773.2h0M1817.9,763.1h0M1802.8,762.8h0M1740.3,771.5h0M1806.6,769.9h0M1766.1,786h0M1764.1,786.2h0M1801.3,792.6h0M1836.2,765.4h0M1804,761.8h0M1763.9,757.2h0M1803,788h0M1759.5,761.4h0M1798.4,794h0M1803.8,751.2h0M1800.5,766.9h0M1763,789.8h0M1754.5,758.5h0M1756.9,756.1h0M1803.3,783.5h0M1808.7,765h0M1801.5,768.5h0M1767.4,771.3h0M1806.3,756.6h0M1799.1,767.7h0M1765,796.7h0M1767.1,765.4h0M1753,777.5h0M1767.7,776.3h0M1803.9,780.7h0M1799.6,793.2h0M1801.7,774.7h0M1812.7,767.2h0M1800.7,793.2h0M1741.2,779.6h0M1805.9,786.2h0M1799.9,786.6h0M1769.2,799.3h0M1807.1,792h0M1803.8,762.8h0M1800.4,771.6h0M1761.4,756.6h0M1755.8,765.2h0M1835.8,774.8h0M1799,770.3h0M1760.5,783.4h0M1829.5,787.7h0M1811.3,792.4h0M1814.1,765.1h0M1811.4,751.6h0M1766.5,765.5h0M1753.1,793.8h0M1767.8,764.9h0M1768.1,751h0M1755.9,787.2h0M1768.4,793.5h0M1734.1,786.3h0M1803.7,790.7h0M1805,762.4h0M1742.5,764.9h0M1715.2,766.2h0M1761.3,796.2h0M1761.4,761.2h0M1769.1,779.9h0M1764.2,762.8h0M1760.2,779.9h0M1768.2,768.2h0M1767,762.8h0M1767.8,777.6h0M1767.9,785.6h0M1766.9,774.1h0M1760.8,781.6h0M1766.3,774.5h0M1740.6,783.8h0M1766.7,793.5h0M1748,776.1h0M1800.7,755.2h0M1762,797h0M1844.2,787.6h0M1740.8,791.8h0M1807.3,769.2h0M1825.8,772.1h0M1802.4,758.9h0M1757.8,767.1h0M1809.5,780.9h0M1766.6,785.8h0M1756,781.3h0M1798.3,783.9h0M1799.4,790.2h0M1768.8,751.7h0M1760.9,752.7h0M1808.8,787h0M1769.3,797.2h0M1798.1,759h0M1763.8,789.8h0M1837.3,754.9h0M1746.5,781.7h0M1828.5,775h0M1824.5,774.4h0M1761,789.8h0M1744,764.7h0M1798.2,762.4h0M1806.7,787.2h0M1797.3,767.2h0M1760.3,762.4h0M1764.1,770.2h0M1809.9,792.6h0M1810.6,768.6h0M1757.2,790.9h0M1810,774.1h0M1728.4,756.3h0M1798.4,789h0M1818.6,757.2h0M1769.2,777.2h0M1764.9,777.9h0M1761.9,757.6h0M1798.4,765.9h0M1819.5,783.1h0M1808.4,766.7h0M1762.8,778.1h0M1764.6,778h0M1738.7,779.9h0M1827.4,783.3h0M1743.3,762.2h0M1819.9,771.1h0M1745.9,750.2h0M1751.7,776.9h0M1827,777.7h0M1823.3,771.2h0M1815.3,789.6h0M1818.9,760.2h0M1816.3,766.3h0M1814.4,791.6h0M1741.2,790.2h0M1749.8,791h0M1752.7,764.8h0M1820.7,778.8h0M1736.2,789h0M1817,774.9h0M1750.4,784.4h0M1744.2,761.2h0M1824.4,762.2h0M1821.5,777.2h0M1752.7,772h0M1745.2,790h0M1814.6,756.8h0M1737.9,783.6h0M1743.1,750.8h0M1746.8,762.5h0M1818.3,768.9h0M1824.2,753h0M1737.7,775.7h0M1753.1,772.8h0M1743.1,791.4h0M1817.7,754.2h0M1749.6,775.3h0M1817.4,769.5h0M1753,788.3h0M1748.5,781.6h0M1818.3,766.1h0M1751.2,759.3h0M1817.3,786.1h0M1740.3,775.2h0M1751.9,771.7h0M1816.6,783.2h0M1819,760.3h0M1815.9,759.2h0M1825.6,778.7h0M1751.4,768.6h0M1752.3,768.5h0M1816.5,764.2h0M1748.8,767.4h0M1820.4,773.5h0M1742.1,788.3h0M1819.8,759.2h0M1817,785.7h0M1744.8,776.5h0M1749.2,756.1h0M1827.4,779.8h0M1820.2,753.8h0M1752.5,756.9h0M1823.5,778.6h0M1815.1,788.4h0M1744.6,781.1h0M1747.4,770.5h0M1753.5,790.5h0M1818.2,754.8h0M1813.9,751.1h0M1832.5,786.3h0M1751.7,783.1h0M1749.9,779h0M1750.6,776.4h0M1818,758.2h0M1815.3,763.2h0M1819.8,753.9h0M1746.6,748.7h0M1819.4,779.4h0M1821.1,762.6h0M1738.2,752.1h0M1736,755.1h0M1746.8,778.6h0M1750.1,790.8h0M1814.2,750.2h0M1819.4,786.4h0M1816.3,768.4h0M1744.8,785.1h0M1819.5,771.7h0M1815,787.3h0M1821.3,755.1h0M1816.4,769.7h0M1745.8,790.3h0M1826.9,775.5h0M1752.4,774.3h0M1826.3,773.1h0M1827.2,785.7h0M1816.9,768.2h0M1745.2,758.5h0M1818.1,762h0M1830.2,770.1h0M1814.1,781.8h0M1817.8,788.3h0M1814.5,778.4h0M1823.2,785.3h0M1819,780.3h0M1752.7,771.8h0M1753,784.9h0M1834.9,783.1h0M1733.6,789.1h0M1738.8,789.4h0M1816.9,787.9h0M1827.2,766.2h0M1753.2,766.6h0M1747.9,771h0M1826.4,789.4h0M1746.1,769.1h0M1814,765.8h0M1752,749.5h0M1749.9,750.7h0M1814.2,750h0M1745.7,757.1h0M1747.8,790.2h0M1823.6,789.8h0M1751.5,786.9h0M1752.3,772.3h0M1821,769h0M1835.4,783h0M1743.1,779.2h0M1736.2,779h0M1740.5,775h0M1740.8,761.4h0M1735.6,768.8h0M1822.8,786.6h0M1753.4,787.9h0M1814.4,785.2h0M1822.1,775.3h0M1752.2,771.7h0M1744.9,779.1h0M1815.6,774h0M1822.7,759.6h0M1739.6,775.2h0M1752.9,758.4h0M1751,766.3h0M1745.6,764.6h0M1815.5,768.6h0M1748.6,789.5h0M1828.5,762.5h0M1824.9,765.5h0M1740.4,786.7h0M1744.5,766h0M1747.5,770.7h0M1829.7,758h0M1751.4,767.5h0M1818.5,775.7h0M1739,765.3h0M1828.3,773.2h0M1753.2,775.9h0M1750.6,760.1h0M1819.6,753.8h0M1820.1,776.3h0M1814.6,749.1h0M1752.4,751.1h0M1830.6,776.4h0M1751.1,766.2h0M1817.5,772.4h0M1753.2,752.6h0M1817.8,768.1h0M1744.3,769.3h0M1751.1,750.6h0M1752.7,756.8h0M1751.7,759.8h0M1816.2,754.4h0M1747.4,785.6h0M1748.5,764.6h0M1825.6,777.3h0M1748.6,777.2h0M1814.6,763.5h0M1832.6,789h0M1814.7,769.6h0M1817.4,780.7h0M1736.4,790.1h0M1747.9,783.6h0M1822.4,786h0M1818.6,782.7h0M1752.2,789.1h0M1749.5,760.5h0M1747.6,778.4h0M1751.1,771h0M1752.7,770.9h0M1831.9,754h0M1738.1,767.7h0M1825.7,781.3h0M1745.9,775.5h0M1816.3,784.2h0M1750.5,785.3h0M1814.2,752.2h0M1828.8,787.7h0M1746,790.1h0M1750,760.2h0M1822.4,792.1h0M1815.3,772.7h0M1753,768.7h0M1828.7,751.4h0M1833.2,756.1h0M1747.2,778.1h0M1753.1,791.1h0M1821.5,766h0M1738.3,773.6h0M1830.5,776h0M1818.3,775.7h0M1752,788.2h0M1743.7,763.1h0M1741.7,771.8h0M1813.6,768.9h0M1825.5,756.5h0M1733.5,776.6h0M1752.1,769.5h0M1814.7,762.3h0M1815,759.1h0M1743.9,754.7h0M1819.6,773.9h0M1750.2,773.9h0M1814.3,772.6h0M1826.5,773.6h0M1817.7,777.9h0M1814.9,754.3h0M1825.8,787h0M1814.8,749.6h0M1825.9,790.9h0M1752.3,785.3h0M1747.1,764.7h0M1823.5,778.1h0M1814.6,793.6h0M1822.2,769.2h0M1752.1,754.1h0M1815.7,754.4h0M1746.2,771.9h0M1752.6,766.8h0M1747.2,750.5h0M1753.3,766.9h0M1753,767.7h0M1750.9,769.6h0M1815.9,782.1h0M1732.8,789.1h0M1819,788.1h0M1748.8,760.3h0M1818.5,758.8h0M1744.4,777.6h0M1821,789.9h0M1738.4,783.1h0M1769.6,798h0M1768,798.6h0M1766.5,797.6h0M1765.3,796.7h0M1763.7,796.1h0M1762,796.9h0M1760.6,794.3h0M1758.9,794.6h0M1757.1,794.4h0M1755.5,794.2h0M1754.2,794h0M1752.4,793.7h0M1751,794.2h0M1749.5,793.6h0M1748.4,792.6h0M1746.9,792.6h0M1745.7,792.3h0M1744.4,790.7h0M1743,790.3h0M1741.4,790.5h0M1740.2,789.8h0M1738.9,790.4h0M1737.4,790.3h0M1736.3,790.2h0M1797.2,799.2h0M1798.4,797.7h0M1799.8,798h0M1801.6,796.8h0M1802.7,797.1h0M1804,796.1h0M1805.3,795.7h0M1806.3,795.3h0M1807.5,794.1h0M1809.1,795.8h0M1810.8,793h0M1812.1,793h0M1813.4,792.5h0M1815.1,793.1h0M1816.8,792.6h0M1818.5,792.4h0M1820.2,792.2h0M1821.8,791h0M1823.3,790.7h0M1824.8,791.5h0M1826.6,790.3h0M1827.7,789.5h0M1829.3,789h0M1830.8,790.1h0M1680.9,752.1h0M1679.4,782.1h0M1699.6,788.3h0M1707.1,790.8h0M1713.8,790.8h0M1719.1,784.5h0M1719.1,788.3h0M1900.8,748.2h0M1916.5,772.4h0M1861.2,766.6h0M1870.2,774.8h0M1869.4,785.9h0M1887.4,790.8h0M1897.8,788.3h0M1853,752.1h0M1847.7,760.3h0M1847,784.5h0M1846.2,790.8h0M1855.2,789.3h0M1858.2,787.9h0M1860.4,790.8h0M1633.8,749.2h0M1633.8,761.8h0M1633.8,770h0M1633.8,773.8h0" fill="none" stroke="#3C54A4" stroke-width="3.9" stroke-linecap="round"/>
<path d="M1633.8,777.2 V790.8" stroke="#3C54A4" stroke-width="3.9" stroke-linecap="round"/>
<path d="M1933,749.2 V790.8" stroke="#3C54A4" stroke-width="3.9" stroke-linecap="round"/>
<path d="M1794.2,642.3h0M1794.7,643.8h0M1788,646.2h0M1784.4,647.3h0M1787.3,649h0M1785.8,648.9h0M1788.9,651.2h0M1794.7,650.5h0M1780.2,653h0M1778,652.4h0M1783.8,655h0M1785.2,653.7h0M1792.5,655.5h0M1780.7,655.6h0M1787.6,656.4h0M1792.9,658.5h0M1792.4,658.3h0M1775.8,659.2h0M1792.9,659.2h0M1784.7,659.3h0M1776.6,660.7h0M1777.6,661.1h0M1784.6,660.6h0M1789.9,662.7h0M1787.4,662.5h0M1780.5,663h0M1775.7,663.3h0M1783.6,664.7h0M1778.9,664.2h0M1780.4,664.6h0M1790.6,664.5h0M1779.3,666.6h0M1793.2,666h0M1772.5,666.1h0M1778.7,665.7h0M1788.9,666.5h0M1786.9,667.9h0M1774.4,668.3h0M1789.9,667.5h0M1789.8,667.4h0M1775.9,667.7h0M1797.4,669h0M1772.3,669.7h0M1784.5,669.3h0M1790.1,669.6h0M1793.9,669.8h0M1773,671.8h0M1783.8,671.1h0M1796.5,671.5h0M1795.4,670.8h0M1784.8,671h0M1791.8,673.2h0M1771,673.6h0M1789.7,672.8h0M1785.3,672.9h0M1774.9,672.9h0M1797,673.6h0M1784.8,675.1h0M1785.6,675h0M1787.3,675h0M1774.5,674.2h0M1776,674.1h0M1797.2,674.6h0M1784.1,676.3h0M1786.9,675.9h0M1797.1,676.8h0M1792.9,676h0M1781.9,676.6h0M1784.7,678.8h0M1776.5,678.5h0M1778.1,677.6h0M1772.4,677.7h0M1785.5,677.4h0M1795.9,677.9h0M1796.4,679.7h0M1786,680.1h0M1791.6,679.7h0M1797.4,680.1h0M1781.6,679.5h0M1778.5,680.5h0M1782.7,682h0M1792.5,681.3h0M1782.1,681.3h0M1787.7,681.3h0M1775.1,682.1h0M1781.9,681.1h0M1797.1,682.9h0M1782.5,683.4h0M1793.3,682.7h0M1774.6,682.8h0M1787.2,683.3h0M1781.8,682.6h0M1774.6,685.4h0M1782.9,684.6h0M1781,684.8h0M1792.6,685.6h0M1795.9,685.4h0M1784.4,684.6h0M1794,686.5h0M1796.7,686h0M1774.6,687.2h0M1792.8,686.2h0M1777.3,686.8h0M1792.1,686.8h0M1775.1,688h0M1777.5,688h0M1793.2,687.9h0M1782.2,687.7h0M1780.9,688.3h0M1772,688.2h0M1786.8,687.6h0M1782.7,689.3h0M1786.6,689.8h0M1785.4,690.6h0M1771.9,690.3h0M1787.6,690.2h0M1784.5,689.6h0M1776.2,689.6h0M1772.7,691.2h0M1793.8,691.5h0M1794.9,691.7h0M1776.9,691.3h0M1774.8,691.1h0M1779.8,691.6h0M1787.7,691.9h0M1787.7,692.7h0M1778.6,693.8h0M1775.5,692.6h0M1784.6,693.4h0M1785.1,692.9h0M1794.3,693.9h0M1774,693h0M1778.5,693h0M1787.4,695.2h0M1796.9,695.1h0M1794.1,694.9h0M1776.8,694.3h0M1775.6,695.5h0M1785.8,695.6h0M1770.9,695.2h0M1787.6,695.2h0M1774.6,696.8h0M1791.9,696h0M1775.9,696.7h0M1792.9,696.2h0M1783.4,696.3h0M1780.1,696.3h0M1781.8,696h0M1771.9,697.1h0M1795.4,697.8h0M1784.1,698.1h0M1772.2,697.7h0M1780.9,697.8h0M1777.5,698.3h0M1794,698.9h0M1775.8,697.7h0M1781,698.2h0M1771.5,699.8h0M1779.2,700.2h0M1775.4,700.2h0M1790.8,699.9h0M1790.9,699.7h0M1790.1,700.2h0M1793.9,700.4h0M1777.3,699.4h0M1770.8,701.1h0M1780.1,702.1h0M1792.4,701.5h0M1773.7,702.4h0M1791.9,702h0M1781.5,701.6h0M1772.6,702.3h0M1783.3,702.1h0M1773.7,704.1h0M1787,703.3h0M1774.9,702.9h0M1793.7,703.8h0M1793,703.4h0M1791.3,704.1h0M1780.1,704h0M1776,704h0M1774.8,705.6h0M1773.1,704.6h0M1795.2,704.7h0M1790.4,705.2h0M1772.8,705.5h0M1781,704.5h0M1771.6,705.1h0M1794.5,704.8h0M1770.8,706.1h0M1796.3,706.1h0M1770.7,707.8h0M1796,707.8h0M1770.7,709.5h0M1795.7,709.5h0M1771,711.2h0M1795.8,711.2h0M1770.9,712.9h0M1795.7,712.9h0M1771.2,714.6h0M1795.9,714.6h0M1771,716.3h0M1795.6,716.3h0M1771.1,718h0M1795.8,718h0M1770.9,719.7h0M1795.4,719.7h0M1770.8,721.4h0M1795.5,721.4h0M1771,723.1h0M1795.9,723.1h0M1770.9,724.8h0M1795.5,724.8h0M1771.1,726.4h0M1795.4,726.4h0M1770.9,728.1h0M1795.8,728.1h0M1771.4,729.8h0M1795.4,729.8h0M1771.4,731.5h0M1795.8,731.5h0M1771.3,733.2h0M1795.3,733.2h0M1771.5,734.9h0M1795.6,734.9h0M1771.2,736.6h0M1795.8,736.6h0M1771,738.3h0M1795.4,738.3h0M1771.1,740h0M1795.7,740h0M1771.2,741.7h0M1795.8,741.7h0M1771.3,743.4h0M1795.7,743.4h0M1771.2,745.1h0M1795.5,745.1h0M1771.2,746.8h0M1795.6,746.8h0M1771.4,748.5h0M1795.2,748.5h0M1771.6,750.1h0M1795.7,750.1h0M1771.5,751.8h0M1795.6,751.8h0M1771.2,753.5h0M1795.8,753.5h0M1771.4,755.2h0M1795.3,755.2h0M1771.3,756.9h0M1795.7,756.9h0M1771.2,758.6h0M1795.2,758.6h0M1771.2,760.3h0M1795.7,760.3h0M1771.4,762h0M1795.3,762h0M1771.1,763.7h0M1795.2,763.7h0M1771.3,765.4h0M1795.2,765.4h0M1771.5,767.1h0M1795.2,767.1h0M1771.2,768.8h0M1795.6,768.8h0M1771.2,770.5h0M1795.2,770.5h0M1771.3,772.1h0M1795.6,772.1h0M1771.3,773.8h0M1795.5,773.8h0M1771.6,775.5h0M1795.1,775.5h0M1771.2,777.2h0M1795.5,777.2h0M1771.3,778.9h0M1795.5,778.9h0M1771.7,780.6h0M1795.4,780.6h0M1771.4,782.3h0M1795.1,782.3h0M1771.4,784h0M1795.3,784h0M1771.3,785.7h0M1795.6,785.7h0M1771.6,787.4h0M1795.1,787.4h0M1771.6,789.1h0M1795.2,789.1h0M1771.5,790.8h0M1795.1,790.8h0M1771.7,792.5h0M1795.5,792.5h0M1771.5,794.2h0M1795,794.2h0M1771.3,795.8h0M1795.3,795.8h0M1771.6,797.5h0M1795,797.5h0M1771.5,799.2h0M1795.4,799.2h0M1771.9,800.9h0M1795.1,800.9h0M1776.7,600.7h0M1786.4,613.8h0M1773.7,623.9h0M1785.6,623.9h0M1796.1,624.4h0M1797.6,636h0M1781,639.4h0" fill="none" stroke="#000" stroke-width="3.9" stroke-linecap="round"/>
<path d="M1777.4,805.8 L1789.4,805.8 L1787.9,807.9 L1783.4,810.1 L1778.9,807.9 Z" fill="#ED1C24" stroke="#ED1C24" stroke-width="1" stroke-linejoin="round"/>
<text x="1639.8" y="665.9" font-size="24.2" fill="#ED1C24" style="fill:#ED1C24">Erdr1</text>
<path d="M1657.4,671.9 L1636.8,689.5" stroke="#000" stroke-width="1.1"/>
</g>
</g>
<g id="panel-c">
<text x="-3" y="958.5" font-size="41.5" class="b">c</text>
<text x="24.6" y="1131" text-anchor="middle" font-size="28.6" transform="rotate(-90 24.6 1131)"><tspan class="i">Erdr1</tspan> relative</text>
<text x="59.3" y="1131.3" text-anchor="middle" font-size="28.9" transform="rotate(-90 59.3 1131.3)">expression/<tspan class="i">Gapdh</tspan></text>
<rect x="226.1" y="1217" width="36.8" height="75.6" fill="#498CCB" stroke="#000" stroke-width="2.7"/>
<rect x="386" y="1172.5" width="36.8" height="120.1" fill="#498CCB" stroke="#000" stroke-width="2.7"/>
<rect x="545.9" y="1169.2" width="36.8" height="123.4" fill="#498CCB" stroke="#000" stroke-width="2.7"/>
<rect x="705.8" y="1206" width="36.8" height="86.6" fill="#498CCB" stroke="#000" stroke-width="2.7"/>
<path d="M209.6,1294.9 V969.7 M209.6,972 H196.6 M209.6,1079.2 H196.6 M209.6,1186.2 H196.6" fill="none" stroke="#000" stroke-width="4.6" stroke-linecap="butt"/>
<path d="M196.6,1292.6 H866.5" fill="none" stroke="#000" stroke-width="4.6"/>
<path d="M244.5,1292.6 V1305.3 M297.8,1292.6 V1305.3 M351.1,1292.6 V1305.3 M404.4,1292.6 V1305.3 M457.7,1292.6 V1305.3 M511,1292.6 V1305.3 M564.3,1292.6 V1305.3 M617.6,1292.6 V1305.3 M670.9,1292.6 V1305.3 M724.2,1292.6 V1305.3 M777.5,1292.6 V1305.3 M830.8,1292.6 V1305.3 " fill="none" stroke="#000" stroke-width="4.6"/>
<text x="183.6" y="979.6" text-anchor="end" font-size="29.2">6×10<tspan font-size="21.3" dy="-12.4">−2</tspan></text>
<text x="183.6" y="1086.8" text-anchor="end" font-size="29.2">4×10<tspan font-size="21.3" dy="-12.4">−2</tspan></text>
<text x="183.6" y="1193.8" text-anchor="end" font-size="29.2">2×10<tspan font-size="21.3" dy="-12.4">−2</tspan></text>
<text x="183.6" y="1303" text-anchor="end">0</text>
<path d="M244.5,1172 V1264.3 M234.5,1172 h20 M234.5,1264.3 h20" fill="none" stroke="#000" stroke-width="2.7"/>
<circle cx="244.5" cy="1163.3" r="6.7" fill="none" stroke="#000" stroke-width="2.7"/>
<circle cx="244.5" cy="1198" r="6.7" fill="none" stroke="#000" stroke-width="2.7"/>
<circle cx="244.5" cy="1241.8" r="6.7" fill="none" stroke="#000" stroke-width="2.7"/>
<circle cx="244.5" cy="1268" r="6.7" fill="none" stroke="#000" stroke-width="2.7"/>
<path d="M404.6,1081.3 V1265.8 M394.6,1081.3 h20 M394.6,1265.8 h20" fill="none" stroke="#000" stroke-width="2.7"/>
<circle cx="404.6" cy="1041.8" r="6.7" fill="none" stroke="#000" stroke-width="2.7"/>
<circle cx="404.6" cy="1185" r="6.7" fill="none" stroke="#000" stroke-width="2.7"/>
<circle cx="404.6" cy="1210" r="6.7" fill="none" stroke="#000" stroke-width="2.7"/>
<circle cx="404.6" cy="1256.3" r="6.7" fill="none" stroke="#000" stroke-width="2.7"/>
<path d="M564.3,1123.5 V1215.4 M554.3,1123.5 h20 M554.3,1215.4 h20" fill="none" stroke="#000" stroke-width="2.7"/>
<circle cx="564.3" cy="1104.7" r="6.7" fill="none" stroke="#000" stroke-width="2.7"/>
<circle cx="564.3" cy="1170.4" r="6.7" fill="none" stroke="#000" stroke-width="2.7"/>
<circle cx="574.2" cy="1196.6" r="6.7" fill="none" stroke="#000" stroke-width="2.7"/>
<circle cx="555.4" cy="1207.2" r="6.7" fill="none" stroke="#000" stroke-width="2.7"/>
<path d="M724.3,1184.4 V1227.4 M714.3,1184.4 h20 M714.3,1227.4 h20" fill="none" stroke="#000" stroke-width="2.7"/>
<circle cx="724.3" cy="1179.8" r="6.7" fill="none" stroke="#000" stroke-width="2.7"/>
<circle cx="714.9" cy="1201.3" r="6.7" fill="none" stroke="#000" stroke-width="2.7"/>
<circle cx="733.2" cy="1211.4" r="6.7" fill="none" stroke="#000" stroke-width="2.7"/>
<circle cx="724.3" cy="1231.8" r="6.7" fill="none" stroke="#000" stroke-width="2.7"/>
<circle cx="290" cy="1292.6" r="6.7" fill="none" stroke="#000" stroke-width="2.7"/>
<circle cx="306.3" cy="1292.6" r="6.7" fill="none" stroke="#000" stroke-width="2.7"/>
<circle cx="341.3" cy="1292.6" r="6.7" fill="none" stroke="#000" stroke-width="2.7"/>
<circle cx="347.5" cy="1292.6" r="6.7" fill="none" stroke="#000" stroke-width="2.7"/>
<circle cx="354" cy="1292.6" r="6.7" fill="none" stroke="#000" stroke-width="2.7"/>
<circle cx="360" cy="1292.6" r="6.7" fill="none" stroke="#000" stroke-width="2.7"/>
<circle cx="449.4" cy="1292.6" r="6.7" fill="none" stroke="#000" stroke-width="2.7"/>
<circle cx="465.8" cy="1292.6" r="6.7" fill="none" stroke="#000" stroke-width="2.7"/>
<circle cx="502.2" cy="1292.6" r="6.7" fill="none" stroke="#000" stroke-width="2.7"/>
<circle cx="508" cy="1292.6" r="6.7" fill="none" stroke="#000" stroke-width="2.7"/>
<circle cx="515" cy="1292.6" r="6.7" fill="none" stroke="#000" stroke-width="2.7"/>
<circle cx="521" cy="1292.6" r="6.7" fill="none" stroke="#000" stroke-width="2.7"/>
<circle cx="610" cy="1292.6" r="6.7" fill="none" stroke="#000" stroke-width="2.7"/>
<circle cx="626.5" cy="1292.6" r="6.7" fill="none" stroke="#000" stroke-width="2.7"/>
<circle cx="662.8" cy="1292.6" r="6.7" fill="none" stroke="#000" stroke-width="2.7"/>
<circle cx="668.7" cy="1292.6" r="6.7" fill="none" stroke="#000" stroke-width="2.7"/>
<circle cx="674.6" cy="1292.6" r="6.7" fill="none" stroke="#000" stroke-width="2.7"/>
<circle cx="680.4" cy="1292.6" r="6.7" fill="none" stroke="#000" stroke-width="2.7"/>
<circle cx="767.2" cy="1292.6" r="6.7" fill="none" stroke="#000" stroke-width="2.7"/>
<circle cx="773" cy="1292.6" r="6.7" fill="none" stroke="#000" stroke-width="2.7"/>
<circle cx="780" cy="1292.6" r="6.7" fill="none" stroke="#000" stroke-width="2.7"/>
<circle cx="786" cy="1292.6" r="6.7" fill="none" stroke="#000" stroke-width="2.7"/>
<circle cx="821.2" cy="1292.6" r="6.7" fill="none" stroke="#000" stroke-width="2.7"/>
<circle cx="827" cy="1292.6" r="6.7" fill="none" stroke="#000" stroke-width="2.7"/>
<circle cx="834" cy="1292.6" r="6.7" fill="none" stroke="#000" stroke-width="2.7"/>
<circle cx="840" cy="1292.6" r="6.7" fill="none" stroke="#000" stroke-width="2.7"/>
<text x="257.5" y="1332" text-anchor="end" transform="rotate(-45 257.5 1332)">SPF</text>
<text x="310.8" y="1332" text-anchor="end" transform="rotate(-45 310.8 1332)">exGF</text>
<text x="364.1" y="1332" text-anchor="end" transform="rotate(-45 364.1 1332)">GF</text>
<text x="417.4" y="1332" text-anchor="end" transform="rotate(-45 417.4 1332)">SPF</text>
<text x="470.7" y="1332" text-anchor="end" transform="rotate(-45 470.7 1332)">exGF</text>
<text x="524" y="1332" text-anchor="end" transform="rotate(-45 524 1332)">GF</text>
<text x="577.3" y="1332" text-anchor="end" transform="rotate(-45 577.3 1332)">SPF</text>
<text x="630.6" y="1332" text-anchor="end" transform="rotate(-45 630.6 1332)">exGF</text>
<text x="683.9" y="1332" text-anchor="end" transform="rotate(-45 683.9 1332)">GF</text>
<text x="737.2" y="1332" text-anchor="end" transform="rotate(-45 737.2 1332)">SPF</text>
<text x="790.5" y="1332" text-anchor="end" transform="rotate(-45 790.5 1332)">exGF</text>
<text x="843.8" y="1332" text-anchor="end" transform="rotate(-45 843.8 1332)">GF</text>
<path d="M199,1397 H342.6 M359.5,1397 H502.4 M519.8,1397 H661.8 M680.2,1397 H822.6" fill="none" stroke="#000" stroke-width="2.7" stroke-linecap="round"/>
<text x="270.6" y="1433" text-anchor="middle">Duodenum</text>
<text x="430.5" y="1433" text-anchor="middle">Jejunum</text>
<text x="590.5" y="1433" text-anchor="middle">Ileum</text>
<text x="751" y="1433" text-anchor="middle">Colon</text>
</g>
<g id="panel-d">
<text x="993.5" y="982.5" font-size="41.5" class="b">d</text>
<text x="1048" y="1158.8" text-anchor="middle" transform="rotate(-90 1048 1158.8)">% Input</text>
<rect x="1135.7" y="1303.2" width="47.3" height="14.4" fill="#498CCB" stroke="#000" stroke-width="2.7"/>
<rect x="1203.5" y="1288.5" width="47.5" height="29.1" fill="#6ABD45" stroke="#000" stroke-width="2.7"/>
<rect x="1272" y="1300" width="47.4" height="17.6" fill="#A9A9A9" stroke="#000" stroke-width="2.7"/>
<rect x="1385.8" y="1056" width="47.4" height="261.6" fill="#498CCB" stroke="#000" stroke-width="2.7"/>
<rect x="1454.2" y="1249" width="47.1" height="68.6" fill="#6ABD45" stroke="#000" stroke-width="2.7"/>
<rect x="1522.3" y="1225.5" width="47.3" height="92.1" fill="#A9A9A9" stroke="#000" stroke-width="2.7"/>
<path d="M1113.8,1319.9 V996.5 M1113.8,998.8 H1101.5 M1113.8,1078.7 H1101.5 M1113.8,1158.6 H1101.5 M1113.8,1238.2 H1101.5" fill="none" stroke="#000" stroke-width="4.6"/>
<path d="M1101,1317.6 H1593 M1227.3,1317.6 V1329.4 M1477.5,1317.6 V1329.4" fill="none" stroke="#000" stroke-width="4.6"/>
<text x="1089.7" y="1009.2" text-anchor="end">8</text>
<text x="1089.7" y="1089.1" text-anchor="end">6</text>
<text x="1089.7" y="1169" text-anchor="end">4</text>
<text x="1089.7" y="1248.6" text-anchor="end">2</text>
<text x="1089.7" y="1328" text-anchor="end">0</text>
<path d="M1159.3,1299.8 V1306.5 M1147.3,1299.8 h24 M1147.3,1306.5 h24" fill="none" stroke="#000" stroke-width="2.7"/>
<circle cx="1148.5" cy="1300.1" r="6.7" fill="none" stroke="#000" stroke-width="2.7"/>
<circle cx="1153.7" cy="1307.9" r="6.7" fill="none" stroke="#000" stroke-width="2.7"/>
<circle cx="1165.4" cy="1301.4" r="6.7" fill="none" stroke="#000" stroke-width="2.7"/>
<circle cx="1169.3" cy="1298.3" r="6.7" fill="none" stroke="#000" stroke-width="2.7"/>
<path d="M1227.3,1275.4 V1303.5 M1215.3,1275.4 h24 M1215.3,1303.5 h24" fill="none" stroke="#000" stroke-width="2.7"/>
<circle cx="1227.3" cy="1269.7" r="6.7" fill="none" stroke="#000" stroke-width="2.7"/>
<circle cx="1213.5" cy="1287.9" r="6.7" fill="none" stroke="#000" stroke-width="2.7"/>
<circle cx="1226.5" cy="1300.1" r="6.7" fill="none" stroke="#000" stroke-width="2.7"/>
<circle cx="1240.8" cy="1298.3" r="6.7" fill="none" stroke="#000" stroke-width="2.7"/>
<path d="M1295.5,1289.7 V1306.6 M1283.5,1289.7 h24 M1283.5,1306.6 h24" fill="none" stroke="#000" stroke-width="2.7"/>
<circle cx="1295.5" cy="1285.8" r="6.7" fill="none" stroke="#000" stroke-width="2.7"/>
<circle cx="1282.5" cy="1302" r="6.7" fill="none" stroke="#000" stroke-width="2.7"/>
<circle cx="1309.8" cy="1302" r="6.7" fill="none" stroke="#000" stroke-width="2.7"/>
<circle cx="1295" cy="1310.5" r="6.7" fill="none" stroke="#000" stroke-width="2.7"/>
<path d="M1409.5,1029.3 V1083.8 M1397.5,1029.3 h24 M1397.5,1083.8 h24" fill="none" stroke="#000" stroke-width="2.7"/>
<circle cx="1419.5" cy="1028.8" r="6.7" fill="none" stroke="#000" stroke-width="2.7"/>
<circle cx="1400" cy="1042" r="6.7" fill="none" stroke="#000" stroke-width="2.7"/>
<circle cx="1409.5" cy="1065.5" r="6.7" fill="none" stroke="#000" stroke-width="2.7"/>
<circle cx="1409.5" cy="1090" r="6.7" fill="none" stroke="#000" stroke-width="2.7"/>
<path d="M1477.5,1238.2 V1261.1 M1465.5,1238.2 h24 M1465.5,1261.1 h24" fill="none" stroke="#000" stroke-width="2.7"/>
<circle cx="1477.5" cy="1233.3" r="6.7" fill="none" stroke="#000" stroke-width="2.7"/>
<circle cx="1464.5" cy="1248.1" r="6.7" fill="none" stroke="#000" stroke-width="2.7"/>
<circle cx="1477.5" cy="1258.5" r="6.7" fill="none" stroke="#000" stroke-width="2.7"/>
<circle cx="1490.5" cy="1257.7" r="6.7" fill="none" stroke="#000" stroke-width="2.7"/>
<path d="M1545.5,1197 V1255.1 M1533.5,1197 h24 M1533.5,1255.1 h24" fill="none" stroke="#000" stroke-width="2.7"/>
<circle cx="1532.1" cy="1211.7" r="6.7" fill="none" stroke="#000" stroke-width="2.7"/>
<circle cx="1545.1" cy="1212.5" r="6.7" fill="none" stroke="#000" stroke-width="2.7"/>
<circle cx="1559.4" cy="1210.4" r="6.7" fill="none" stroke="#000" stroke-width="2.7"/>
<circle cx="1545.7" cy="1268.9" r="6.7" fill="none" stroke="#000" stroke-width="2.7"/>
<path d="M1410.2,980.8 H1546.3 M1409.8,1010.6 H1475.9" fill="none" stroke="#000" stroke-width="3.6" stroke-linecap="round"/>
<text x="1478.2" y="986.1" text-anchor="middle" font-size="30" class="b">***</text>
<text x="1442.7" y="1015.7" text-anchor="middle" font-size="30" class="b">***</text>
<text x="1187" y="1356" text-anchor="end" transform="rotate(-45 1187 1356)">SPF</text>
<text x="1240.3" y="1356" text-anchor="end" transform="rotate(-45 1240.3 1356)">exGF</text>
<text x="1293.6" y="1356" text-anchor="end" transform="rotate(-45 1293.6 1356)">GF</text>
<text x="1437.2" y="1356" text-anchor="end" transform="rotate(-45 1437.2 1356)">SPF</text>
<text x="1490.5" y="1356" text-anchor="end" transform="rotate(-45 1490.5 1356)">exGF</text>
<text x="1543.8" y="1356" text-anchor="end" transform="rotate(-45 1543.8 1356)">GF</text>
<path d="M1102.2,1421.8 H1280 M1352.2,1423.8 H1529.6" fill="none" stroke="#000" stroke-width="2.7" stroke-linecap="round"/>
<text x="1186.6" y="1457.5" text-anchor="middle">IgG</text>
<text x="1436.5" y="1457.5" text-anchor="middle">H3Ac</text>
</g>
</svg>
</body></html>
